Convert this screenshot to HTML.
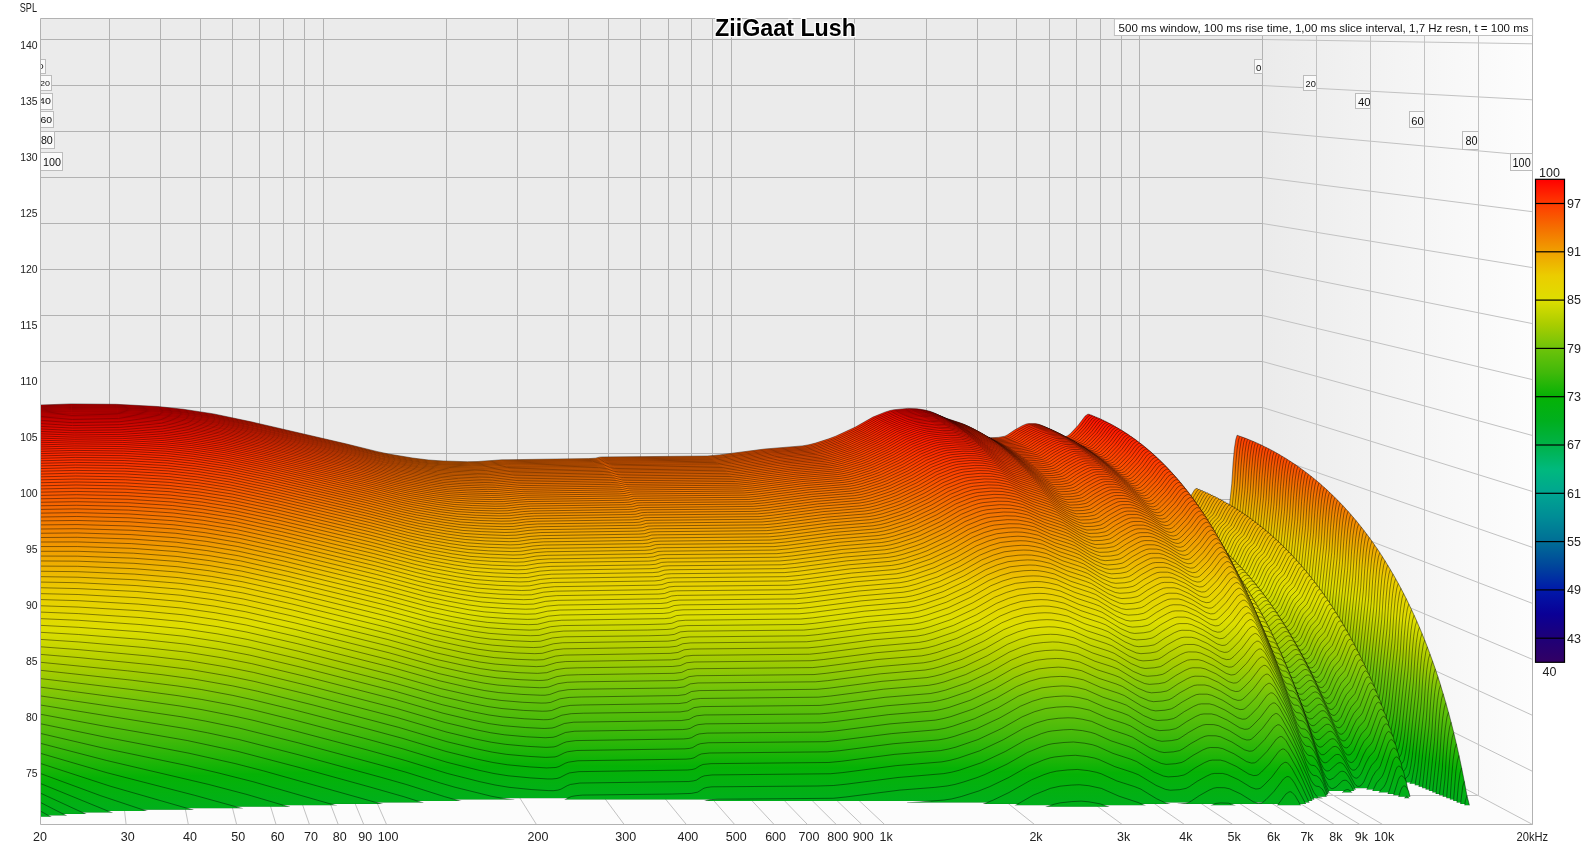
<!DOCTYPE html><html><head><meta charset="utf-8"><style>html,body{margin:0;padding:0;background:#fff;}svg{display:block;will-change:transform}text{font-family:"Liberation Sans",sans-serif}</style></head><body>
<svg width="1590" height="849" viewBox="0 0 1590 849">
<defs>
<linearGradient id="cm" gradientUnits="userSpaceOnUse" x1="0" y1="407.3" x2="0" y2="959.1">
<stop offset="0.0000" stop-color="#ff0000"/>
<stop offset="0.0500" stop-color="#ff3a00"/>
<stop offset="0.1000" stop-color="#f56e00"/>
<stop offset="0.1500" stop-color="#f0a000"/>
<stop offset="0.2000" stop-color="#ebcd00"/>
<stop offset="0.2500" stop-color="#dede00"/>
<stop offset="0.3000" stop-color="#aacd00"/>
<stop offset="0.3500" stop-color="#6ec30a"/>
<stop offset="0.4000" stop-color="#41b90a"/>
<stop offset="0.4500" stop-color="#05b205"/>
<stop offset="0.5000" stop-color="#00af1e"/>
<stop offset="0.5500" stop-color="#00b248"/>
<stop offset="0.6000" stop-color="#00b97d"/>
<stop offset="0.6500" stop-color="#00a591"/>
<stop offset="0.7000" stop-color="#008c96"/>
<stop offset="0.7500" stop-color="#006e96"/>
<stop offset="0.8000" stop-color="#00469b"/>
<stop offset="0.8500" stop-color="#0019aa"/>
<stop offset="0.9000" stop-color="#0a0096"/>
<stop offset="0.9500" stop-color="#1e0078"/>
<stop offset="1.0000" stop-color="#320064"/>
</linearGradient>
<linearGradient id="rw" x1="0" y1="0" x2="1" y2="0"><stop offset="0" stop-color="#ebebeb"/><stop offset="1" stop-color="#fdfdfd"/></linearGradient>
<clipPath id="pc"><rect x="40.0" y="18.8" width="1492.4" height="805.633163675"/></clipPath>
<clipPath id="lc"><rect x="41" y="0" width="200" height="300"/></clipPath>
<clipPath id="bc"><rect x="-100" y="-100" width="1500" height="780.54"/></clipPath>
</defs>
<rect x="40.0" y="18.8" width="1222.6" height="662.1" fill="#ebebeb"/>
<polygon points="1262.6,18.8 1532.4,18.8 1532.4,824.4 1262.6,680.9" fill="url(#rw)"/>
<polygon points="40.0,680.9 1262.6,680.9 1532.4,824.4 40.0,824.4" fill="#fcfcfc"/>
<path d="M109.5 680.9L126.1 824.4M160.5 680.9L188.3 824.4M200.5 680.9L236.6 824.4M232.5 680.9L276 824.4M259.5 680.9L309.4 824.4M283.5 680.9L338.2 824.4M304.5 680.9L363.7 824.4M323.5 680.9L386.5 824.4M446.5 680.9L536.4 824.4M517.5 680.9L624.1 824.4M568.5 680.9L686.3 824.4M608.5 680.9L734.6 824.4M640.5 680.9L774 824.4M668.5 680.9L807.4 824.4M691.5 680.9L836.2 824.4M712.5 680.9L861.7 824.4M731.5 680.9L884.5 824.4M854.5 680.9L1034.4 824.4M926.5 680.9L1122.1 824.4M977.5 680.9L1184.3 824.4M1016.5 680.9L1232.6 824.4M1049.5 680.9L1272 824.4M1076.5 680.9L1305.4 824.4M1100.5 680.9L1334.2 824.4M1121.5 680.9L1359.7 824.4M1139.5 680.9L1382.5 824.4M1262.5 680.9L1532.4 824.4M1262.5 39.5L1532.4 43.8M1262.5 85.5L1532.4 99.8M1262.5 131.5L1532.4 155.7M1262.5 177.5L1532.4 211.7M1262.5 223.5L1532.4 267.6M1262.5 269.5L1532.4 323.6M1262.5 315.5L1532.4 379.6M1262.5 361.5L1532.4 435.5M1262.5 407.5L1532.4 491.5M1262.5 453.5L1532.4 547.4M1262.5 499.5L1532.4 603.4M1262.5 545.5L1532.4 659.4M1262.5 591.5L1532.4 715.3M1262.5 637.5L1532.4 771.3M1316.5 18.5V709.6M40.0 709.5H1316.6M1370.5 18.5V738.3M40.0 738.5H1370.5M1424.5 18.5V767M40.0 767.5H1424.5M1478.5 18.5V795.7M40.0 795.5H1478.5M1532.5 18.5V824.4" stroke="#c2c2c2" stroke-width="1" fill="none"/>
<path d="M109.5 18.5V680.9M160.5 18.5V680.9M200.5 18.5V680.9M232.5 18.5V680.9M259.5 18.5V680.9M283.5 18.5V680.9M304.5 18.5V680.9M323.5 18.5V680.9M446.5 18.5V680.9M517.5 18.5V680.9M568.5 18.5V680.9M608.5 18.5V680.9M640.5 18.5V680.9M668.5 18.5V680.9M691.5 18.5V680.9M712.5 18.5V680.9M731.5 18.5V680.9M854.5 18.5V680.9M926.5 18.5V680.9M977.5 18.5V680.9M1016.5 18.5V680.9M1049.5 18.5V680.9M1076.5 18.5V680.9M1100.5 18.5V680.9M1121.5 18.5V680.9M1139.5 18.5V680.9M1262.5 18.5V680.9M40.0 39.5H1262.5M40.0 85.5H1262.5M40.0 131.5H1262.5M40.0 177.5H1262.5M40.0 223.5H1262.5M40.0 269.5H1262.5M40.0 315.5H1262.5M40.0 361.5H1262.5M40.0 407.5H1262.5M40.0 453.5H1262.5M40.0 499.5H1262.5M40.0 545.5H1262.5M40.0 591.5H1262.5M40.0 637.5H1262.5" stroke="#b2b2b2" stroke-width="1" fill="none"/>
<g clip-path="url(#pc)" fill="url(#cm)" stroke="#000" stroke-width="0.55" stroke-opacity="0.8" stroke-linejoin="round">
<path transform="matrix(1.00000 0 0 1.00000 0.00 0.00)" clip-path="url(#bc)" vector-effect="non-scaling-stroke" d="M1239.7 680.9L37.7 680.9L37.7 405.1L71.1 403.9L116.4 404.3L157.8 406.5L183.1 409.2L213.8 413.9L252.5 422.1L345.9 443.8L376.6 451.4L388.6 454L412.6 458L428.6 460L443.3 461L467.3 461.7L478 461.5L502 459.8L588.7 458.6L595.4 458.2L599.4 457.2L602 457L707.4 456L719.4 454.9L764.8 449L802.2 445.9L808.8 444.8L815.5 443.1L828.8 438.8L835.5 436.3L855.5 427L872.9 417.1L884.9 412.2L890.2 410.5L894.2 409.7L907.6 408.4L916.9 408.7L924.9 410L930.2 411.4L944.9 417.9L959.6 422.7L964.9 424.7L979.6 433.6L986.3 436.6L990.3 437.7L998.3 437.4L1004.9 436.2L1007.6 434.8L1014.3 430.2L1022.3 425.7L1026.3 424L1029 423.6L1035.6 423.6L1039.6 424.6L1049 428.9L1059.6 435.4L1062.3 436.5L1065 436.8L1067.7 435.8L1070.3 433.7L1078.3 425.2L1085 416.2L1087.7 414.3L1089 414.2L1090.3 414.8L1093 417.7L1102.3 434.4L1113 458.1L1115.7 465.4L1118.4 471.5L1121 475.1L1122.4 475.9L1125 476.3L1126.4 477.1L1129 480.4L1131.7 486.1L1138.4 504.6L1141 509.8L1142.4 511.4L1143.7 512.2L1145 512.4L1146.4 511.9L1153 505.9L1154.4 505.2L1155.7 505.1L1157 505.6L1158.4 506.7L1161 510.4L1167.7 523.1L1169 524.6L1170.4 525.5L1171.7 525.7L1173.1 525.1L1175.7 521.8L1181.1 509.8L1183.7 505.9L1187.7 502.2L1191.7 494.5L1194.4 490.1L1195.7 488.7L1197.1 488.4L1198.4 489.4L1201.1 493.9L1203.7 507.4L1205.1 516.8L1207.7 544.5L1209.1 552.4L1211.7 555.3L1214.4 556.9L1215.7 557.2L1218.4 556.7L1219.7 555.9L1222.4 553.4L1223.7 550.8L1225.1 544.2L1226.4 535.4L1231.8 483.7L1233.1 463.1L1234.4 448.7L1235.8 439.4L1237.1 435.2L1239.7 436.2"/>
<path transform="matrix(1.00220 0 0 1.00217 -0.08 -0.04)" clip-path="url(#bc)" vector-effect="non-scaling-stroke" d="M1239.7 680.9L37.7 680.9L37.7 405.1L71.1 403.9L116.4 404.3L157.8 406.5L183.1 409.2L213.8 413.9L252.5 422.1L345.9 443.8L376.6 451.5L388.6 454L412.6 458L428.6 460L443.3 461L467.3 461.7L478 461.5L502 459.8L588.7 458.6L595.4 458.2L599.4 457.2L602 457L707.4 456L719.4 454.9L764.8 449L802.2 445.9L808.8 444.8L815.5 443.1L828.8 438.9L835.5 436.4L855.5 427L872.9 417.1L884.9 412.2L890.2 410.5L894.2 409.7L907.6 408.4L916.9 408.7L924.9 410.1L930.2 411.4L944.9 417.9L959.6 422.7L964.9 424.8L979.6 433.7L986.3 436.6L990.3 437.7L998.3 437.4L1004.9 436.2L1007.6 434.8L1014.3 430.2L1022.3 425.7L1026.3 424L1029 423.6L1035.6 423.6L1039.6 424.6L1049 428.9L1059.6 435.4L1062.3 436.5L1065 436.8L1067.7 435.9L1070.3 433.7L1078.3 425.2L1085 416.2L1087.7 414.3L1089 414.2L1090.3 414.8L1093 417.7L1102.3 434.4L1113 458.1L1115.7 465.4L1118.4 471.5L1121 475.1L1122.4 475.9L1125 476.3L1126.4 477.1L1129 480.4L1131.7 486.1L1138.4 504.6L1141 509.9L1142.4 511.4L1143.7 512.2L1145 512.4L1146.4 511.9L1153 505.9L1154.4 505.3L1155.7 505.1L1157 505.6L1158.4 506.7L1161 510.4L1167.7 523.1L1169 524.6L1170.4 525.5L1171.7 525.7L1173.1 525.1L1175.7 521.8L1181.1 509.8L1183.7 505.9L1187.7 502.3L1191.7 494.5L1194.4 490.2L1195.7 488.7L1197.1 488.4L1198.4 489.4L1201.1 493.9L1203.7 507.4L1205.1 516.8L1207.7 544.5L1209.1 552.4L1211.7 555.3L1214.4 556.9L1215.7 557.2L1218.4 556.7L1219.7 555.9L1222.4 553.4L1223.7 550.8L1225.1 544.2L1226.4 535.4L1231.8 483.8L1233.1 463.1L1234.4 448.7L1235.8 439.4L1237.1 435.3L1239.7 436.2"/>
<path transform="matrix(1.00439 0 0 1.00434 -0.15 -0.08)" clip-path="url(#bc)" vector-effect="non-scaling-stroke" d="M1239.7 680.9L37.7 680.9L37.7 405.1L71.1 404L116.4 404.4L157.8 406.6L183.1 409.3L213.8 414L252.5 422.1L345.9 443.9L376.6 451.5L388.6 454.1L412.6 458.1L428.6 460.1L443.3 461.1L467.3 461.8L478 461.6L502 459.9L588.7 458.6L595.4 458.3L599.4 457.3L602 457.1L707.4 456.1L719.4 455L764.8 449.1L802.2 446L808.8 444.9L815.5 443.2L828.8 438.9L835.5 436.4L855.5 427.1L872.9 417.1L884.9 412.3L890.2 410.6L894.2 409.7L907.6 408.5L916.9 408.7L924.9 410.1L930.2 411.5L944.9 418L959.6 422.8L964.9 424.8L979.6 433.7L986.3 436.7L990.3 437.8L998.3 437.5L1004.9 436.3L1007.6 434.9L1014.3 430.3L1022.3 425.8L1026.3 424.1L1029 423.6L1035.6 423.7L1039.6 424.7L1049 429L1059.6 435.5L1062.3 436.5L1065 436.9L1067.7 435.9L1070.3 433.8L1078.3 425.3L1085 416.3L1087.7 414.4L1089 414.3L1090.3 414.9L1093 417.8L1102.3 434.4L1113 458.1L1115.7 465.5L1118.4 471.6L1121 475.2L1122.4 476L1125 476.4L1126.4 477.2L1129 480.5L1131.7 486.2L1138.4 504.7L1141 509.9L1142.4 511.5L1143.7 512.3L1145 512.4L1146.4 512L1153 506L1154.4 505.3L1155.7 505.2L1157 505.7L1158.4 506.8L1161 510.5L1167.7 523.1L1169 524.7L1170.4 525.6L1171.7 525.7L1173.1 525.1L1175.7 521.9L1181.1 509.9L1183.7 505.9L1187.7 502.3L1191.7 494.6L1194.4 490.2L1195.7 488.8L1197.1 488.5L1198.4 489.5L1201.1 494L1203.7 507.5L1205.1 516.9L1207.7 544.6L1209.1 552.4L1211.7 555.4L1214.4 556.9L1215.7 557.2L1218.4 556.8L1219.7 556L1222.4 553.4L1223.7 550.9L1225.1 544.3L1226.4 535.5L1231.8 483.8L1233.1 463.1L1234.4 448.7L1235.8 439.5L1237.1 435.3L1239.7 436.3"/>
<path transform="matrix(1.00659 0 0 1.00651 -0.23 -0.12)" clip-path="url(#bc)" vector-effect="non-scaling-stroke" d="M1239.7 680.9L37.7 680.9L37.7 405.2L71.1 404.1L116.4 404.5L157.8 406.7L183.1 409.4L213.8 414.1L252.5 422.2L345.9 444L376.6 451.6L388.6 454.2L412.6 458.2L428.6 460.2L443.3 461.2L467.3 461.9L478 461.7L502 460L588.7 458.7L595.4 458.4L599.4 457.4L602 457.2L707.4 456.2L719.4 455L764.8 449.2L802.2 446.1L808.8 445L815.5 443.3L828.8 439L835.5 436.5L855.5 427.2L872.9 417.2L884.9 412.4L890.2 410.7L894.2 409.8L907.6 408.6L916.9 408.8L924.9 410.2L930.2 411.5L944.9 418.1L959.6 422.9L964.9 424.9L979.6 433.8L986.3 436.8L990.3 437.9L998.3 437.6L1004.9 436.4L1007.6 435L1014.3 430.4L1022.3 425.9L1026.3 424.2L1029 423.7L1035.6 423.8L1039.6 424.8L1049 429.1L1059.6 435.6L1062.3 436.6L1065 437L1067.7 436L1070.3 433.9L1078.3 425.4L1085 416.4L1087.7 414.5L1089 414.4L1090.3 415L1093 417.9L1102.3 434.5L1113 458.2L1115.7 465.6L1118.4 471.7L1121 475.3L1122.4 476.1L1125 476.5L1126.4 477.3L1129 480.6L1131.7 486.3L1138.4 504.8L1141 510L1142.4 511.6L1143.7 512.4L1145 512.5L1146.4 512.1L1153 506.1L1154.4 505.4L1155.7 505.3L1157 505.8L1158.4 506.8L1161 510.6L1167.7 523.2L1169 524.8L1170.4 525.7L1171.7 525.8L1173.1 525.2L1175.7 522L1181.1 510L1183.7 506L1187.7 502.4L1191.7 494.7L1194.4 490.3L1195.7 488.9L1197.1 488.6L1198.4 489.6L1201.1 494.1L1203.7 507.6L1205.1 516.9L1207.7 544.7L1209.1 552.5L1211.7 555.4L1214.4 557L1215.7 557.3L1218.4 556.9L1219.7 556.1L1222.4 553.5L1223.7 551L1225.1 544.3L1226.4 535.6L1231.8 483.9L1233.1 463.2L1234.4 448.8L1235.8 439.6L1237.1 435.4L1239.7 436.4"/>
<path transform="matrix(1.00879 0 0 1.00868 -0.30 -0.17)" clip-path="url(#bc)" vector-effect="non-scaling-stroke" d="M1239.7 680.9L37.7 680.9L37.7 405.4L71.1 404.2L116.4 404.6L157.8 406.8L183.1 409.5L213.8 414.2L252.5 422.4L345.9 444.1L376.6 451.8L388.6 454.3L412.6 458.3L428.6 460.3L443.3 461.3L467.3 462L478 461.8L502 460.1L588.7 458.9L595.4 458.5L599.4 457.5L602 457.3L707.4 456.3L719.4 455.2L764.8 449.3L802.2 446.2L808.8 445.1L815.5 443.4L828.8 439.2L835.5 436.7L855.5 427.3L872.9 417.4L884.9 412.5L890.2 410.8L894.2 410L907.6 408.7L916.9 409L924.9 410.4L930.2 411.7L944.9 418.2L959.6 423L964.9 425.1L979.6 434L986.3 436.9L990.3 438L998.3 437.7L1004.9 436.5L1007.6 435.1L1014.3 430.5L1022.3 426L1026.3 424.3L1029 423.9L1035.6 423.9L1039.6 424.9L1049 429.2L1059.6 435.7L1062.3 436.8L1065 437.1L1067.7 436.2L1070.3 434L1078.3 425.5L1085 416.5L1087.7 414.6L1089 414.5L1090.3 415.1L1093 418L1102.3 434.7L1113 458.4L1115.7 465.7L1118.4 471.8L1121 475.4L1122.4 476.2L1125 476.6L1126.4 477.4L1129 480.7L1131.7 486.4L1138.4 504.9L1141 510.2L1142.4 511.7L1143.7 512.5L1145 512.7L1146.4 512.2L1153 506.2L1154.4 505.6L1155.7 505.4L1157 505.9L1158.4 507L1161 510.7L1167.7 523.4L1169 524.9L1170.4 525.8L1171.7 526L1173.1 525.4L1175.7 522.1L1181.1 510.1L1183.7 506.2L1187.7 502.6L1191.7 494.8L1194.4 490.4L1195.7 489L1197.1 488.7L1198.4 489.7L1201.1 494.2L1203.7 507.7L1205.1 517.1L1207.7 544.8L1209.1 552.7L1211.7 555.6L1214.4 557.2L1215.7 557.5L1218.4 557L1219.7 556.2L1222.4 553.7L1223.7 551.1L1225.1 544.5L1226.4 535.7L1231.8 484L1233.1 463.4L1234.4 448.9L1235.8 439.7L1237.1 435.5L1239.7 436.6"/>
<path transform="matrix(1.01099 0 0 1.01084 -0.38 -0.21)" clip-path="url(#bc)" vector-effect="non-scaling-stroke" d="M1239.7 680.9L37.7 680.9L37.7 405.6L71.1 404.4L116.4 404.8L157.8 407L183.1 409.7L213.8 414.4L252.5 422.5L345.9 444.3L376.6 451.9L388.6 454.5L412.6 458.5L428.6 460.5L443.3 461.5L467.3 462.2L478 462L500.6 460.3L588.7 459.1L595.4 458.7L599.4 457.7L602 457.5L707.4 456.5L719.4 455.4L764.8 449.5L802.2 446.4L808.8 445.3L815.5 443.6L828.8 439.3L835.5 436.8L855.5 427.5L872.9 417.5L884.9 412.7L890.2 411L894.2 410.2L907.6 408.9L916.9 409.1L924.9 410.5L930.2 411.9L944.9 418.4L959.6 423.2L964.9 425.2L979.6 434.1L986.3 437.1L990.3 438.2L998.3 437.9L1004.9 436.7L1007.6 435.3L1014.3 430.7L1022.3 426.2L1026.3 424.5L1029 424.1L1035.6 424.1L1039.6 425.1L1049 429.4L1059.6 435.9L1062.3 436.9L1065 437.3L1067.7 436.3L1070.3 434.2L1078.3 425.7L1085 416.7L1087.7 414.8L1089 414.7L1090.3 415.3L1093 418.2L1102.3 434.9L1113 458.5L1115.7 465.9L1118.4 472L1121 475.6L1122.4 476.4L1125 476.8L1126.4 477.6L1129 480.9L1131.7 486.6L1138.4 505.1L1141 510.3L1142.4 511.9L1143.7 512.7L1145 512.8L1146.4 512.4L1153 506.4L1154.4 505.7L1155.7 505.6L1157 506.1L1158.4 507.2L1161 510.9L1167.7 523.5L1169 525.1L1170.4 526L1171.7 526.1L1173.1 525.5L1175.7 522.3L1181.1 510.3L1183.7 506.3L1187.7 502.7L1191.7 495L1194.4 490.6L1195.7 489.2L1197.1 488.9L1198.4 489.9L1201.1 494.4L1203.7 507.9L1205.1 517.2L1207.7 545L1209.1 552.8L1211.7 555.7L1214.4 557.3L1215.7 557.6L1218.4 557.2L1219.7 556.4L1222.4 553.8L1223.7 551.3L1225.1 544.6L1226.4 535.9L1231.8 484.2L1233.1 463.5L1234.4 449.1L1235.8 439.9L1237.1 435.7L1239.7 436.8"/>
<path transform="matrix(1.01318 0 0 1.01301 -0.45 -0.25)" clip-path="url(#bc)" vector-effect="non-scaling-stroke" d="M1239.7 680.9L37.7 680.9L37.7 405.8L71.1 404.6L116.4 405L157.8 407.2L183.1 409.9L213.8 414.6L252.5 422.8L345.9 444.5L376.6 452.2L388.6 454.7L412.6 458.7L428.6 460.8L443.3 461.7L467.3 462.4L478 462.3L500.6 460.6L588.7 459.3L595.4 458.9L599.4 457.9L602 457.7L707.4 456.7L719.4 455.6L764.8 449.7L802.2 446.6L808.8 445.5L815.5 443.8L828.8 439.6L835.5 437.1L855.5 427.7L872.9 417.8L884.9 412.9L890.2 411.2L894.2 410.4L907.6 409.1L916.9 409.4L924.9 410.8L930.2 412.1L944.9 418.6L959.6 423.4L964.9 425.5L979.6 434.4L986.3 437.3L990.3 438.4L998.3 438.1L1004.9 436.9L1007.6 435.5L1014.3 430.9L1022.3 426.4L1026.3 424.7L1029 424.3L1035.6 424.3L1039.6 425.3L1049 429.6L1059.6 436.1L1062.3 437.2L1065 437.5L1067.7 436.6L1070.3 434.4L1078.3 425.9L1085 416.9L1087.7 415L1089 414.9L1090.3 415.5L1093 418.4L1102.3 435.1L1113 458.8L1115.7 466.1L1118.4 472.2L1121 475.8L1122.4 476.6L1125 477L1126.4 477.8L1129 481.1L1131.7 486.8L1138.4 505.3L1141 510.6L1142.4 512.1L1143.7 512.9L1145 513.1L1146.4 512.6L1153 506.6L1154.4 505.9L1155.7 505.8L1157 506.3L1158.4 507.4L1161 511.1L1167.7 523.8L1169 525.3L1170.4 526.2L1171.7 526.4L1173.1 525.8L1175.7 522.5L1181.1 510.5L1183.7 506.6L1187.7 503L1191.7 495.2L1194.4 490.8L1195.7 489.4L1197.1 489.1L1198.4 490.1L1201.1 494.6L1203.7 508.1L1205.1 517.4L1207.7 545.2L1209.1 553L1211.7 555.9L1214.4 557.5L1215.7 557.8L1218.4 557.4L1219.7 556.6L1222.4 554L1223.7 551.5L1225.1 544.8L1226.4 536.1L1231.8 484.4L1233.1 463.7L1234.4 449.3L1235.8 440.1L1237.1 435.9L1239.7 437"/>
<path transform="matrix(1.01538 0 0 1.01518 -0.53 -0.29)" clip-path="url(#bc)" vector-effect="non-scaling-stroke" d="M1239.7 680.9L37.7 680.9L37.7 406L71.1 404.9L116.4 405.3L157.8 407.5L183.1 410.2L213.8 414.9L252.5 423L345.9 444.8L376.6 452.4L388.6 455L412.6 459L428.6 461L443.3 462L467.3 462.7L478 462.5L500.6 460.8L588.7 459.5L595.4 459.2L599.4 458.2L602 458L707.4 457L719.4 455.8L764.8 450L802.2 446.9L808.8 445.7L815.5 444.1L828.8 439.8L835.5 437.3L855.5 428L872.9 418L884.9 413.2L890.2 411.5L894.2 410.6L907.6 409.4L916.9 409.6L924.9 411L930.2 412.3L944.9 418.9L959.6 423.6L964.9 425.7L979.6 434.6L986.3 437.6L990.3 438.7L998.3 438.4L1004.9 437.2L1007.6 435.8L1014.3 431.2L1022.3 426.7L1026.3 425L1029 424.5L1035.6 424.6L1039.6 425.6L1049 429.9L1059.6 436.4L1062.3 437.4L1065 437.8L1067.7 436.8L1070.3 434.6L1078.3 426.2L1085 417.2L1087.7 415.3L1089 415.2L1090.3 415.8L1093 418.7L1102.3 435.3L1113 459L1115.7 466.4L1118.4 472.4L1121 476L1122.4 476.9L1125 477.3L1126.4 478.1L1129 481.4L1131.7 487.1L1138.4 505.6L1141 510.8L1142.4 512.4L1143.7 513.2L1145 513.3L1146.4 512.8L1153 506.9L1154.4 506.2L1155.7 506.1L1157 506.6L1158.4 507.6L1161 511.4L1167.7 524L1169 525.6L1170.4 526.5L1171.7 526.6L1173.1 526L1175.7 522.8L1181.1 510.8L1183.7 506.8L1187.7 503.2L1191.7 495.4L1194.4 491.1L1195.7 489.6L1197.1 489.3L1198.4 490.3L1201.1 494.8L1203.7 508.3L1205.1 517.7L1207.7 545.4L1209.1 553.3L1211.7 556.2L1214.4 557.8L1215.7 558.1L1218.4 557.6L1219.7 556.8L1222.4 554.3L1223.7 551.7L1225.1 545.1L1226.4 536.3L1231.8 484.6L1233.1 464L1234.4 449.6L1235.8 440.3L1237.1 436.1L1239.7 437.3"/>
<path transform="matrix(1.01758 0 0 1.01735 -0.61 -0.33)" clip-path="url(#bc)" vector-effect="non-scaling-stroke" d="M1239.7 680.9L37.7 680.9L37.7 406.3L71.1 405.1L116.4 405.6L157.8 407.8L183.1 410.5L213.8 415.2L252.5 423.3L345.9 445.1L376.6 452.7L388.6 455.3L412.6 459.3L428.6 461.3L443.3 462.3L467.3 463L478 462.8L500.6 461.1L588.7 459.8L595.4 459.5L599.4 458.5L603.4 458.2L707.4 457.2L719.4 456.1L764.8 450.2L802.2 447.1L808.8 446L815.5 444.4L828.8 440.1L835.5 437.6L855.5 428.2L872.9 418.3L884.9 413.5L890.2 411.8L894.2 410.9L907.6 409.6L916.9 409.9L924.9 411.3L930.2 412.6L944.9 419.2L959.6 423.9L964.9 426L979.6 434.9L986.3 437.9L990.3 439L998.3 438.7L1004.9 437.5L1007.6 436L1014.3 431.5L1022.3 427L1026.3 425.3L1029 424.8L1035.6 424.9L1039.6 425.8L1049 430.1L1059.6 436.7L1062.3 437.7L1065 438.1L1067.7 437.1L1070.3 434.9L1078.3 426.5L1085 417.5L1087.7 415.6L1089 415.5L1090.3 416.1L1093 419L1102.3 435.6L1113 459.3L1115.7 466.6L1118.4 472.7L1121 476.3L1122.4 477.2L1125 477.6L1126.4 478.4L1129 481.7L1131.7 487.4L1138.4 505.9L1141 511.1L1142.4 512.7L1143.7 513.5L1145 513.6L1146.4 513.1L1153 507.2L1154.4 506.5L1155.7 506.4L1157 506.9L1158.4 507.9L1161 511.7L1167.7 524.3L1169 525.9L1170.4 526.8L1171.7 526.9L1173.1 526.3L1175.7 523.1L1181.1 511.1L1183.7 507.1L1187.7 503.5L1191.7 495.7L1194.4 491.3L1195.7 489.9L1197.1 489.6L1198.4 490.6L1201.1 495.1L1203.7 508.6L1205.1 518L1207.7 545.7L1209.1 553.5L1211.7 556.5L1214.4 558L1215.7 558.3L1218.4 557.9L1219.7 557.1L1222.4 554.5L1223.7 552L1225.1 545.4L1226.4 536.6L1231.8 484.9L1233.1 464.2L1234.4 449.8L1235.8 440.6L1237.1 436.4L1239.7 437.6"/>
<path transform="matrix(1.01977 0 0 1.01952 -0.68 -0.37)" clip-path="url(#bc)" vector-effect="non-scaling-stroke" d="M1239.7 680.9L37.7 680.9L37.7 406.6L71.1 405.5L116.4 405.9L157.8 408.1L183.1 410.8L213.8 415.5L252.5 423.6L345.9 445.4L376.6 453.1L388.6 455.6L412.6 459.6L428.6 461.7L443.3 462.6L467.3 463.4L478 463.2L500.6 461.5L588.7 460.2L595.4 459.9L599.4 458.8L603.4 458.6L707.4 457.6L719.4 456.5L764.8 450.6L802.2 447.5L808.8 446.4L815.5 444.7L828.8 440.4L835.5 438L855.5 428.6L872.9 418.7L884.9 413.8L890.2 412.1L894.2 411.3L907.6 410L916.9 410.3L924.9 411.6L930.2 413L944.9 419.5L959.6 424.3L964.9 426.3L979.6 435.2L986.3 438.2L990.3 439.3L998.3 439L1004.9 437.8L1007.6 436.4L1014.3 431.8L1022.3 427.3L1026.3 425.6L1029 425.2L1035.6 425.2L1039.6 426.2L1049 430.5L1059.6 437L1062.3 438.1L1065 438.4L1067.7 437.4L1070.3 435.3L1078.3 426.8L1085 417.8L1087.7 415.9L1089 415.8L1090.3 416.4L1093 419.3L1102.3 436L1113 459.7L1115.7 467L1118.4 473.1L1121 476.7L1122.4 477.5L1125 477.9L1126.4 478.7L1129 482L1131.7 487.7L1138.4 506.2L1141 511.4L1142.4 513L1143.7 513.8L1145 514L1146.4 513.5L1153 507.5L1154.4 506.8L1155.7 506.7L1157 507.2L1158.4 508.3L1161 512L1167.7 524.7L1169 526.2L1170.4 527.1L1171.7 527.3L1173.1 526.7L1175.7 523.4L1181.1 511.4L1183.7 507.5L1187.7 503.8L1191.7 496L1194.4 491.7L1195.7 490.2L1197.1 489.9L1198.4 490.9L1201.1 495.4L1203.7 508.9L1205.1 518.3L1207.7 546L1209.1 553.8L1211.7 556.8L1214.4 558.4L1215.7 558.7L1218.4 558.2L1219.7 557.4L1222.4 554.9L1223.7 552.3L1225.1 545.7L1226.4 536.9L1231.8 485.2L1233.1 464.5L1234.4 450.1L1235.8 440.9L1237.1 436.7L1239.7 438"/>
<path transform="matrix(1.02197 0 0 1.02169 -0.76 -0.41)" clip-path="url(#bc)" vector-effect="non-scaling-stroke" d="M1239.7 680.9L37.7 680.9L37.7 407L71.1 405.8L116.4 406.3L157.8 408.5L183.1 411.2L213.8 415.9L252.5 424L345.9 445.8L376.6 453.4L388.6 456L412.6 460L428.6 462.1L443.3 463L467.3 463.8L478 463.6L500.6 461.8L588.7 460.6L595.4 460.2L599.4 459.2L603.4 459L707.4 458L719.4 456.9L764.8 451L802.2 447.9L808.8 446.8L815.5 445.1L828.8 440.8L835.5 438.3L855.5 429L872.9 419L884.9 414.2L890.2 412.5L894.2 411.6L907.6 410.4L916.9 410.6L924.9 412L930.2 413.4L944.9 419.9L959.6 424.7L964.9 426.7L979.6 435.6L986.3 438.6L990.3 439.7L998.3 439.4L1004.9 438.2L1007.6 436.8L1014.3 432.2L1022.3 427.7L1026.3 426L1029 425.5L1035.6 425.6L1039.6 426.6L1049 430.9L1059.6 437.4L1062.3 438.4L1065 438.8L1067.7 437.8L1070.3 435.7L1078.3 427.2L1085 418.2L1087.7 416.3L1089 416.2L1090.3 416.8L1093 419.7L1102.3 436.3L1113 460L1115.7 467.4L1118.4 473.5L1121 477.1L1122.4 477.9L1125 478.3L1126.4 479.1L1129 482.4L1131.7 488.1L1138.4 506.6L1141 511.8L1142.4 513.4L1143.7 514.2L1145 514.3L1146.4 513.9L1153 507.9L1154.4 507.2L1155.7 507.1L1157 507.6L1158.4 508.7L1161 512.4L1167.7 525L1169 526.6L1170.4 527.5L1171.7 527.6L1173.1 527L1175.7 523.8L1181.1 511.8L1183.7 507.8L1187.7 504.2L1191.7 496.4L1194.4 492L1195.7 490.5L1197.1 490.3L1198.4 491.3L1201.1 495.8L1203.7 509.2L1205.1 518.6L1207.7 546.4L1209.1 554.2L1211.7 557.1L1214.4 558.7L1215.7 559L1218.4 558.5L1219.7 557.8L1222.4 555.2L1223.7 552.7L1225.1 546L1226.4 537.3L1231.8 485.6L1233.1 464.9L1234.4 450.5L1235.8 441.2L1237.1 437.1L1239.7 438.4"/>
<path transform="matrix(1.02417 0 0 1.02386 -0.83 -0.46)" clip-path="url(#bc)" vector-effect="non-scaling-stroke" d="M1239.7 680.9L37.7 680.9L37.7 407.4L71.1 406.3L116.4 406.7L157.8 408.9L183.1 411.6L213.8 416.3L252.5 424.4L345.9 446.2L376.6 453.9L388.6 456.4L412.6 460.4L428.6 462.5L443.3 463.5L467.3 464.2L478 464L500.6 462.3L588.7 461L595.4 460.7L599.4 459.6L603.4 459.4L707.4 458.4L719.4 457.3L764.8 451.4L802.2 448.3L808.8 447.2L815.5 445.5L828.8 441.2L835.5 438.7L855.5 429.4L872.9 419.5L884.9 414.6L890.2 412.9L894.2 412.1L907.6 410.8L916.9 411.1L924.9 412.4L930.2 413.8L944.9 420.3L959.6 425.1L964.9 427.1L979.6 436L986.3 439L990.3 440.1L998.3 439.8L1004.9 438.6L1007.6 437.2L1014.3 432.6L1022.3 428.1L1026.3 426.4L1029 426L1035.6 426L1039.6 427L1049 431.3L1059.6 437.8L1062.3 438.8L1065 439.2L1067.7 438.2L1070.3 436.1L1078.3 427.6L1085 418.6L1087.7 416.7L1089 416.6L1090.3 417.2L1093 420.1L1102.3 436.8L1113 460.4L1115.7 467.8L1118.4 473.9L1121 477.5L1122.4 478.3L1125 478.7L1126.4 479.5L1129 482.8L1131.7 488.5L1138.4 507L1141 512.2L1142.4 513.8L1143.7 514.6L1145 514.8L1146.4 514.3L1153 508.3L1154.4 507.6L1155.7 507.5L1157 508L1158.4 509.1L1161 512.8L1167.7 525.4L1169 527L1170.4 527.9L1171.7 528.1L1173.1 527.4L1175.7 524.2L1181.1 512.2L1183.7 508.2L1187.7 504.6L1191.7 496.8L1194.4 492.4L1195.7 490.9L1197.1 490.7L1198.4 491.7L1201.1 496.2L1203.7 509.6L1205.1 519L1207.7 546.8L1209.1 554.6L1211.7 557.5L1214.4 559.1L1215.7 559.4L1218.4 558.9L1219.7 558.2L1222.4 555.6L1223.7 553.1L1225.1 546.4L1226.4 537.6L1231.8 486L1233.1 465.3L1234.4 450.9L1235.8 441.6L1237.1 437.5L1239.7 438.8"/>
<path transform="matrix(1.02636 0 0 1.02603 -0.91 -0.50)" clip-path="url(#bc)" vector-effect="non-scaling-stroke" d="M1239.7 680.9L37.7 680.9L37.7 407.8L71.1 406.7L116.4 407.1L157.8 409.3L183.1 412.1L213.8 416.8L252.5 424.9L345.9 446.7L376.6 454.3L388.6 456.9L412.6 460.9L428.6 463L443.3 463.9L467.3 464.7L478 464.5L500.6 462.7L588.7 461.5L595.4 461.1L599.4 460.1L603.4 459.8L707.4 458.8L719.4 457.7L764.8 451.8L802.2 448.7L808.8 447.6L815.5 446L828.8 441.7L835.5 439.2L855.5 429.8L872.9 419.9L884.9 415L890.2 413.4L894.2 412.5L907.6 411.2L916.9 411.5L924.9 412.9L930.2 414.2L944.9 420.8L959.6 425.5L964.9 427.6L979.6 436.5L986.3 439.5L990.3 440.6L998.3 440.3L1004.9 439L1007.6 437.6L1014.3 433.1L1022.3 428.6L1026.3 426.9L1029 426.4L1035.6 426.5L1039.6 427.4L1049 431.7L1059.6 438.3L1062.3 439.3L1065 439.7L1067.7 438.7L1070.3 436.5L1078.3 428.1L1085 419.1L1087.7 417.2L1089 417.1L1090.3 417.7L1093 420.6L1102.3 437.2L1113 460.9L1115.7 468.2L1118.4 474.3L1121 477.9L1122.4 478.8L1125 479.2L1126.4 480L1129 483.3L1131.7 489L1138.4 507.5L1141 512.7L1142.4 514.3L1143.7 515.1L1145 515.2L1146.4 514.7L1153 508.7L1154.4 508.1L1155.7 508L1157 508.5L1158.4 509.5L1161 513.3L1167.7 525.9L1169 527.5L1170.4 528.4L1171.7 528.5L1173.1 527.9L1175.7 524.7L1181.1 512.6L1183.7 508.7L1187.7 505.1L1191.7 497.2L1194.4 492.8L1195.7 491.4L1197.1 491.1L1198.4 492.1L1201.1 496.6L1203.7 510.1L1205.1 519.4L1207.7 547.2L1209.1 555L1211.7 557.9L1214.4 559.5L1215.7 559.8L1218.4 559.4L1219.7 558.6L1222.4 556L1223.7 553.5L1225.1 546.8L1226.4 538.1L1231.8 486.4L1233.1 465.7L1234.4 451.3L1235.8 442.1L1237.1 437.9L1239.7 439.2"/>
<path transform="matrix(1.02856 0 0 1.02820 -0.99 -0.54)" clip-path="url(#bc)" vector-effect="non-scaling-stroke" d="M1239.7 680.9L37.7 680.9L37.7 408.3L71.1 407.2L116.4 407.6L157.8 409.8L183.1 412.6L213.8 417.2L252.5 425.4L345.9 447.2L376.6 454.8L388.6 457.4L412.6 461.4L428.6 463.5L443.3 464.5L467.3 465.2L478 465L500.6 463.2L588.7 462L595.4 461.6L599.4 460.6L603.4 460.3L707.4 459.3L719.4 458.2L764.8 452.3L802.2 449.2L808.8 448.1L815.5 446.5L828.8 442.2L835.5 439.7L855.5 430.3L872.9 420.4L884.9 415.5L890.2 413.9L894.2 413L907.6 411.7L916.9 412L924.9 413.4L930.2 414.7L944.9 421.3L959.6 426L964.9 428.1L979.6 437L986.3 440L990.3 441.1L998.3 440.8L1004.9 439.5L1007.6 438.1L1014.3 433.6L1022.3 429.1L1026.3 427.4L1029 426.9L1035.6 427L1039.6 427.9L1049 432.2L1059.6 438.8L1062.3 439.8L1065 440.2L1067.7 439.2L1070.3 437L1078.3 428.6L1085 419.6L1087.7 417.7L1089 417.6L1090.3 418.2L1093 421.1L1102.3 437.7L1113 461.4L1115.7 468.7L1118.4 474.8L1121 478.4L1122.4 479.3L1125 479.7L1126.4 480.5L1129 483.8L1131.7 489.5L1138.4 507.9L1141 513.2L1142.4 514.8L1143.7 515.6L1145 515.7L1146.4 515.2L1153 509.2L1154.4 508.6L1155.7 508.5L1157 508.9L1158.4 510L1161 513.8L1167.7 526.4L1169 528L1170.4 528.9L1171.7 529L1173.1 528.4L1175.7 525.2L1181.1 513.1L1183.7 509.2L1187.7 505.6L1191.7 497.7L1194.4 493.3L1195.7 491.8L1197.1 491.6L1198.4 492.5L1201.1 497L1203.7 510.5L1205.1 519.9L1207.7 547.6L1209.1 555.5L1211.7 558.4L1214.4 560L1215.7 560.3L1218.4 559.8L1219.7 559.1L1222.4 556.5L1223.7 553.9L1225.1 547.3L1226.4 538.5L1231.8 486.9L1233.1 466.2L1234.4 451.8L1235.8 442.5L1237.1 438.4L1239.7 439.7"/>
<path transform="matrix(1.03076 0 0 1.03037 -1.06 -0.58)" clip-path="url(#bc)" vector-effect="non-scaling-stroke" d="M1239.7 680.9L37.7 680.9L37.7 408.9L71.1 407.7L116.4 408.1L157.8 410.4L183.1 413.1L213.8 417.8L252.5 425.9L345.9 447.7L376.6 455.4L388.6 457.9L412.6 462L428.6 464L445.9 465.1L468.6 465.8L478 465.6L500.6 463.8L588.7 462.5L595.4 462.2L599.4 461.1L603.4 460.9L707.4 459.9L719.4 458.8L764.8 452.9L802.2 449.8L808.8 448.7L815.5 447L828.8 442.7L835.5 440.2L855.5 430.9L872.9 420.9L884.9 416.1L890.2 414.4L894.2 413.6L907.6 412.3L916.9 412.5L924.9 413.9L930.2 415.3L944.9 421.8L959.6 426.6L964.9 428.6L979.6 437.5L986.3 440.5L990.3 441.6L998.3 441.3L1004.9 440.1L1007.6 438.7L1014.3 434.1L1022.3 429.6L1026.3 427.9L1029 427.5L1035.6 427.5L1039.6 428.5L1049 432.8L1059.6 439.3L1062.3 440.3L1065 440.7L1067.7 439.7L1070.3 437.6L1078.3 429.1L1085 420.1L1087.7 418.2L1089 418.1L1090.3 418.7L1093 421.6L1102.3 438.3L1113 461.9L1115.7 469.3L1118.4 475.4L1121 479L1122.4 479.8L1125 480.2L1126.4 481L1129 484.3L1131.7 490L1138.4 508.5L1141 513.7L1142.4 515.3L1143.7 516.1L1145 516.2L1146.4 515.8L1153 509.8L1154.4 509.1L1155.7 509L1157 509.5L1158.4 510.6L1161 514.3L1167.7 526.9L1169 528.5L1170.4 529.4L1171.7 529.6L1173.1 528.9L1175.7 525.7L1181.1 513.7L1183.7 509.7L1187.7 506.1L1191.7 498.2L1194.4 493.8L1195.7 492.3L1197.1 492.1L1198.4 493L1201.1 497.5L1203.7 511L1205.1 520.4L1207.7 548.1L1209.1 556L1211.7 558.9L1214.4 560.5L1215.7 560.8L1218.4 560.3L1219.7 559.6L1222.4 557L1223.7 554.4L1225.1 547.8L1226.4 539L1231.8 487.4L1233.1 466.7L1234.4 452.3L1235.8 443L1237.1 438.9L1239.7 440.3"/>
<path transform="matrix(1.03296 0 0 1.03253 -1.14 -0.62)" clip-path="url(#bc)" vector-effect="non-scaling-stroke" d="M1239.6 680.9L37.7 680.9L37.7 409.4L71.1 408.3L116.4 408.7L157.8 410.9L183.1 413.7L213.8 418.4L252.5 426.5L345.9 448.3L376.6 456L388.6 458.5L412.6 462.6L428.6 464.6L445.9 465.7L468.6 466.4L478 466.2L500.6 464.4L588.7 463.1L595.4 462.8L599.4 461.7L603.4 461.5L707.4 460.5L719.4 459.3L764.8 453.5L802.2 450.4L808.8 449.3L815.5 447.6L828.8 443.3L835.5 440.8L855.5 431.5L872.9 421.5L884.9 416.7L890.2 415L894.2 414.1L907.6 412.9L916.9 413.1L924.9 414.5L930.2 415.8L944.9 422.4L959.6 427.2L964.9 429.2L979.6 438.1L986.3 441.1L990.3 442.2L998.3 441.9L1004.9 440.7L1007.6 439.3L1014.3 434.7L1022.3 430.2L1026.3 428.5L1029 428L1035.6 428.1L1039.6 429.1L1049 433.4L1059.6 439.9L1062.3 440.9L1065 441.3L1067.7 440.3L1070.3 438.2L1078.3 429.7L1085 420.7L1087.7 418.8L1089 418.7L1090.3 419.3L1093 422.2L1102.3 438.8L1113 462.5L1115.7 469.9L1118.4 476L1121 479.6L1122.4 480.4L1125 480.8L1126.4 481.6L1129 484.9L1131.7 490.6L1138.4 509.1L1141 514.3L1142.4 515.9L1143.7 516.7L1145 516.8L1146.4 516.4L1153 510.4L1154.4 509.7L1155.7 509.6L1157 510.1L1158.4 511.1L1161 514.9L1167.7 527.5L1169 529.1L1170.4 530L1171.7 530.1L1173.1 529.5L1175.7 526.3L1181.1 514.3L1183.7 510.3L1187.7 506.7L1191.7 498.8L1194.4 494.4L1195.7 492.9L1197.1 492.6L1198.4 493.6L1201.1 498.1L1203.7 511.6L1205.1 520.9L1207.7 548.7L1209.1 556.5L1211.7 559.4L1214.4 561L1215.7 561.3L1218.4 560.9L1219.7 560.1L1222.4 557.5L1223.7 555L1225.1 548.3L1226.4 539.6L1231.8 487.9L1233.1 467.2L1234.4 452.8L1235.8 443.6L1237.1 439.4L1239.6 440.9"/>
<path transform="matrix(1.03515 0 0 1.03470 -1.21 -0.66)" clip-path="url(#bc)" vector-effect="non-scaling-stroke" d="M1239.6 680.9L37.7 680.9L37.7 410L71.1 408.9L116.4 409.3L157.8 411.6L183.1 414.3L213.8 419L252.5 427.1L345.9 448.9L376.6 456.6L388.6 459.2L412.6 463.2L428.6 465.3L445.9 466.4L468.6 467L478 466.8L500.6 465L588.7 463.8L595.4 463.4L599.4 462.4L603.4 462.1L707.4 461.1L719.4 460L764.8 454.1L802.2 451L808.8 449.9L815.5 448.2L828.8 443.9L835.5 441.4L855.5 432.1L872.9 422.2L884.9 417.3L890.2 415.6L894.2 414.8L907.6 413.5L916.9 413.8L924.9 415.1L930.2 416.5L944.9 423L959.6 427.8L964.9 429.8L979.6 438.7L986.3 441.7L990.3 442.8L998.3 442.5L1004.9 441.3L1007.6 439.9L1014.3 435.3L1022.3 430.8L1026.3 429.1L1029 428.7L1035.6 428.7L1039.6 429.7L1049 434L1059.6 440.5L1062.3 441.6L1065 441.9L1067.7 440.9L1070.3 438.8L1078.3 430.3L1085 421.3L1087.7 419.4L1089 419.3L1090.3 419.9L1093 422.8L1102.3 439.5L1113 463.2L1115.7 470.5L1118.4 476.6L1121 480.2L1122.4 481L1125 481.4L1126.4 482.2L1129 485.5L1131.7 491.2L1138.4 509.7L1141 514.9L1142.4 516.5L1143.7 517.3L1145 517.5L1146.4 517L1153 511L1154.4 510.3L1155.7 510.2L1157 510.7L1158.4 511.8L1161 515.5L1167.7 528.2L1169 529.7L1170.4 530.6L1171.7 530.8L1173.1 530.2L1175.7 526.9L1181.1 514.9L1183.7 510.9L1187.7 507.3L1191.7 499.4L1194.4 495L1195.7 493.5L1197.1 493.2L1198.4 494.2L1201.1 498.7L1203.7 512.1L1205.1 521.5L1207.7 549.3L1209.1 557.1L1211.7 560L1214.4 561.6L1215.7 561.9L1218.4 561.4L1219.7 560.7L1222.4 558.1L1223.7 555.6L1225.1 548.9L1226.4 540.2L1231.8 488.5L1233.1 467.8L1234.4 453.4L1235.8 444.1L1237.1 440L1239.6 441.5"/>
<path transform="matrix(1.03735 0 0 1.03687 -1.29 -0.70)" clip-path="url(#bc)" vector-effect="non-scaling-stroke" d="M1239.6 680.9L37.7 680.9L37.7 410.7L71.1 409.5L116.4 410L157.8 412.2L183.1 414.9L213.8 419.6L252.5 427.8L345.9 449.6L376.6 457.3L388.6 459.9L412.6 463.9L428.6 466L445.9 467.1L468.6 467.7L478 467.5L500.6 465.7L588.7 464.4L595.4 464.1L600.7 462.8L604.7 462.7L707.4 461.8L719.4 460.6L764.8 454.7L802.2 451.6L808.8 450.5L815.5 448.9L828.8 444.6L835.5 442.1L855.5 432.7L872.9 422.8L884.9 418L890.2 416.3L894.2 415.4L907.6 414.1L916.9 414.4L924.9 415.8L930.2 417.1L944.9 423.7L959.6 428.4L964.9 430.5L979.6 439.4L986.3 442.4L990.3 443.5L998.3 443.2L1004.9 442L1007.6 440.5L1014.3 436L1022.3 431.5L1026.3 429.8L1029 429.3L1035.6 429.4L1039.6 430.3L1049 434.6L1059.6 441.2L1062.3 442.2L1065 442.6L1067.7 441.6L1070.3 439.4L1078.3 431L1085 422L1087.7 420.1L1089 420L1090.3 420.6L1093 423.5L1102.3 440.1L1113 463.8L1115.7 471.1L1118.4 477.2L1121 480.8L1122.4 481.7L1125 482.1L1126.4 482.9L1129 486.2L1131.7 491.9L1138.4 510.4L1141 515.6L1142.4 517.2L1143.7 518L1145 518.1L1146.4 517.6L1153 511.7L1154.4 511L1155.7 510.9L1157 511.4L1158.4 512.4L1161 516.2L1167.7 528.8L1169 530.4L1170.4 531.3L1171.7 531.4L1173.1 530.8L1175.7 527.6L1181.1 515.6L1183.7 511.6L1187.7 508L1191.7 500L1194.4 495.6L1195.7 494.1L1197.1 493.8L1198.4 494.8L1201.1 499.3L1203.7 512.8L1205.1 522.1L1207.7 549.9L1209.1 557.7L1211.7 560.6L1214.4 562.2L1215.7 562.5L1218.4 562.1L1219.7 561.3L1222.4 558.7L1223.7 556.2L1225.1 549.5L1226.4 540.8L1231.8 489.1L1233.1 468.4L1234.4 454L1235.8 444.8L1237.1 440.6L1239.6 442.1"/>
<path transform="matrix(1.03955 0 0 1.03904 -1.36 -0.75)" clip-path="url(#bc)" vector-effect="non-scaling-stroke" d="M1239.6 680.9L37.7 680.9L37.7 411.4L71.1 410.2L116.4 410.7L157.8 412.9L183.1 415.6L213.8 420.4L252.5 428.5L345.9 450.3L376.6 458L388.6 460.6L412.6 464.6L428.6 466.7L445.9 467.8L468.6 468.5L478 468.3L500.6 466.4L588.7 465.2L595.4 464.8L600.7 463.5L604.7 463.4L707.4 462.5L719.4 461.3L764.8 455.5L802.2 452.4L808.8 451.3L815.5 449.6L828.8 445.3L835.5 442.8L855.5 433.5L872.9 423.5L884.9 418.7L890.2 417L894.2 416.1L907.6 414.9L916.9 415.1L924.9 416.5L930.2 417.8L944.9 424.4L959.6 429.1L964.9 431.2L979.6 440.1L986.3 443.1L990.3 444.2L998.3 443.9L1004.9 442.7L1007.6 441.3L1014.3 436.7L1022.3 432.2L1026.3 430.5L1029 430L1035.6 430.1L1039.6 431.1L1049 435.4L1059.6 441.9L1062.3 442.9L1065 443.3L1067.7 442.3L1070.3 440.2L1078.3 431.7L1085 422.7L1087.7 420.8L1089 420.7L1090.3 421.3L1093 424.2L1102.3 440.8L1113 464.5L1115.7 471.9L1118.4 478L1121 481.6L1122.4 482.4L1125 482.8L1126.4 483.6L1129 486.9L1131.7 492.6L1138.4 511.1L1141 516.3L1142.4 517.9L1143.7 518.7L1145 518.8L1146.4 518.4L1153 512.4L1154.4 511.7L1155.7 511.6L1157 512.1L1158.4 513.1L1161 516.9L1167.7 529.5L1169 531.1L1170.4 532L1171.7 532.1L1173.1 531.5L1175.7 528.3L1181.1 516.3L1183.7 512.3L1187.7 508.7L1191.7 500.7L1194.4 496.3L1195.7 494.8L1197.1 494.5L1198.4 495.5L1201.1 499.9L1203.7 513.4L1205.1 522.8L1207.7 550.5L1209.1 558.4L1211.7 561.3L1214.4 562.9L1215.7 563.2L1218.4 562.7L1219.7 562L1222.4 559.4L1223.7 556.8L1225.1 550.2L1226.4 541.4L1231.8 489.8L1233.1 469.1L1234.4 454.7L1235.8 445.4L1237.1 441.3L1239.6 442.8"/>
<path transform="matrix(1.04174 0 0 1.04121 -1.44 -0.79)" clip-path="url(#bc)" vector-effect="non-scaling-stroke" d="M1239.6 680.9L37.7 680.9L37.7 412.1L71.1 411L116.4 411.4L157.8 413.7L183.1 416.4L213.8 421.1L252.5 429.3L345.9 451L376.6 458.8L388.6 461.3L412.6 465.4L428.6 467.5L445.9 468.6L468.6 469.3L478 469L500.6 467.2L588.7 465.9L595.4 465.6L600.7 464.3L604.7 464.2L707.4 463.2L719.4 462.1L764.8 456.2L802.2 453.1L808.8 452L815.5 450.3L828.8 446.1L835.5 443.6L855.5 434.2L872.9 424.3L884.9 419.4L890.2 417.7L894.2 416.9L907.6 415.6L916.9 415.9L924.9 417.3L930.2 418.6L944.9 425.1L959.6 429.9L964.9 432L979.6 440.9L986.3 443.8L990.3 444.9L998.3 444.6L1004.9 443.4L1007.6 442L1014.3 437.4L1022.3 432.9L1026.3 431.2L1029 430.8L1035.6 430.8L1039.6 431.8L1049 436.1L1059.6 442.6L1062.3 443.7L1065 444L1067.7 443.1L1070.3 440.9L1078.3 432.4L1085 423.4L1087.7 421.5L1089 421.4L1090.3 422L1093 424.9L1102.3 441.6L1113 465.3L1115.7 472.6L1118.4 478.7L1121 482.3L1122.4 483.1L1125 483.6L1126.4 484.3L1129 487.6L1131.7 493.3L1138.4 511.8L1141 517.1L1142.4 518.6L1143.7 519.5L1145 519.6L1146.4 519.1L1153 513.1L1154.4 512.5L1155.7 512.3L1157 512.8L1158.4 513.9L1161 517.6L1167.7 530.3L1169 531.8L1170.4 532.7L1171.7 532.9L1173.1 532.3L1175.7 529L1181.1 517L1183.7 513.1L1187.7 509.4L1191.7 501.4L1194.4 497L1195.7 495.5L1197.1 495.2L1198.4 496.2L1201.1 500.6L1203.7 514.1L1205.1 523.5L1207.7 551.2L1209.1 559.1L1211.7 562L1214.4 563.6L1215.7 563.9L1218.4 563.4L1219.7 562.6L1222.4 560.1L1223.7 557.5L1225.1 550.9L1226.4 542.1L1231.8 490.5L1233.1 469.8L1234.4 455.4L1235.8 446.1L1237.1 442L1239.6 443.6"/>
<path transform="matrix(1.04394 0 0 1.04338 -1.52 -0.83)" clip-path="url(#bc)" vector-effect="non-scaling-stroke" d="M1239.6 680.9L37.7 680.9L37.7 412.9L71.1 411.8L116.4 412.2L157.8 414.5L183.1 417.2L213.8 421.9L252.5 430L345.9 451.8L376.6 459.6L389.9 462.4L413.9 466.4L429.9 468.4L447.3 469.5L468.6 470.1L478 469.9L500.6 468L588.7 466.7L595.4 466.4L600.7 465.1L604.7 465L707.4 464L719.4 462.9L764.8 457L802.2 453.9L808.8 452.8L815.5 451.1L828.8 446.9L835.5 444.4L855.5 435L872.9 425.1L884.9 420.2L890.2 418.5L894.2 417.7L907.6 416.4L916.9 416.7L924.9 418.1L930.2 419.4L944.9 425.9L959.6 430.7L964.9 432.8L979.6 441.7L986.3 444.6L990.3 445.7L998.3 445.4L1004.9 444.2L1007.6 442.8L1014.3 438.2L1022.3 433.7L1026.3 432L1029 431.6L1035.6 431.6L1039.6 432.6L1049 436.9L1059.6 443.4L1062.3 444.5L1065 444.8L1067.7 443.9L1070.3 441.7L1078.3 433.2L1085 424.2L1087.7 422.3L1089 422.2L1090.3 422.8L1093 425.7L1102.3 442.4L1113 466.1L1115.7 473.4L1118.4 479.5L1121 483.1L1122.4 483.9L1125 484.3L1126.4 485.1L1129 488.4L1131.7 494.1L1138.4 512.6L1141 517.9L1142.4 519.4L1143.7 520.2L1145 520.4L1146.4 519.9L1153 513.9L1154.4 513.3L1155.7 513.1L1157 513.6L1158.4 514.7L1161 518.4L1167.7 531.1L1169 532.6L1170.4 533.5L1171.7 533.7L1173.1 533.1L1175.7 529.8L1181.1 517.8L1183.7 513.9L1187.7 510.2L1191.7 502.2L1194.4 497.7L1195.7 496.2L1197.1 495.9L1198.4 496.9L1201.1 501.4L1203.7 514.9L1205.1 524.2L1207.7 552L1209.1 559.8L1211.7 562.7L1214.4 564.3L1215.7 564.6L1218.4 564.2L1219.7 563.4L1222.4 560.8L1223.7 558.3L1225.1 551.6L1226.4 542.9L1231.8 491.2L1233.1 470.5L1234.4 456.1L1235.8 446.9L1237.1 442.7L1239.6 444.4"/>
<path transform="matrix(1.04614 0 0 1.04555 -1.59 -0.87)" clip-path="url(#bc)" vector-effect="non-scaling-stroke" d="M1239.6 680.9L37.7 680.9L37.7 413.7L71.1 412.6L116.4 413L157.8 415.3L183.1 418L213.8 422.7L252.5 430.9L345.9 452.7L376.6 460.4L389.9 463.2L413.9 467.3L429.9 469.3L447.3 470.3L468.6 471L478 470.7L500.6 468.9L590 467.5L595.4 467.2L600.7 465.9L604.7 465.8L707.4 464.8L719.4 463.7L764.8 457.8L802.2 454.7L808.8 453.6L815.5 452L828.8 447.7L835.5 445.2L855.5 435.8L872.9 425.9L884.9 421L890.2 419.4L894.2 418.5L907.6 417.2L916.9 417.5L924.9 418.9L930.2 420.2L944.9 426.8L959.6 431.5L964.9 433.6L979.6 442.5L986.3 445.5L990.3 446.6L998.3 446.3L1004.9 445L1007.6 443.6L1014.3 439.1L1022.3 434.6L1026.3 432.9L1029 432.4L1035.6 432.5L1039.6 433.4L1049 437.7L1059.6 444.3L1062.3 445.3L1065 445.7L1067.7 444.7L1070.3 442.5L1078.3 434.1L1085 425.1L1087.7 423.2L1089 423.1L1090.3 423.7L1093 426.6L1102.3 443.2L1113 466.9L1115.7 474.2L1118.4 480.3L1121 483.9L1122.4 484.8L1125 485.2L1126.4 486L1129 489.3L1131.7 495L1138.4 513.4L1141 518.7L1142.4 520.3L1143.7 521.1L1145 521.2L1146.4 520.7L1153 514.7L1154.4 514.1L1155.7 514L1157 514.4L1158.4 515.5L1161 519.3L1167.7 531.9L1169 533.5L1170.4 534.4L1171.7 534.5L1173.1 533.9L1175.7 530.7L1181.1 518.6L1183.7 514.7L1187.7 511L1191.7 503L1194.4 498.5L1195.7 497L1197.1 496.7L1198.4 497.7L1201.1 502.2L1203.7 515.6L1205.1 525L1207.7 552.8L1209.1 560.6L1211.7 563.5L1214.4 565.1L1215.7 565.4L1218.4 564.9L1219.7 564.2L1222.4 561.6L1223.7 559.1L1225.1 552.4L1226.4 543.7L1231.8 492L1233.1 471.3L1234.4 456.9L1235.8 447.6L1237.1 443.5L1239.6 445.2"/>
<path transform="matrix(1.04833 0 0 1.04772 -1.67 -0.91)" clip-path="url(#bc)" vector-effect="non-scaling-stroke" d="M1239.6 680.9L37.7 680.9L37.7 414.5L72.4 413.4L117.7 413.9L157.8 416.2L183.1 418.9L213.8 423.6L252.5 431.8L345.9 453.6L376.6 461.3L389.9 464.1L413.9 468.2L429.9 470.2L447.3 471.3L468.6 471.9L478 471.7L500.6 469.8L590 468.4L595.4 468.1L600.7 466.8L604.7 466.7L707.4 465.7L719.4 464.6L764.8 458.7L802.2 455.6L808.8 454.5L815.5 452.8L828.8 448.6L835.5 446.1L855.5 436.7L872.9 426.8L884.9 421.9L890.2 420.3L894.2 419.4L907.6 418.1L916.9 418.4L924.9 419.8L930.2 421.1L944.9 427.6L959.6 432.4L964.9 434.5L979.6 443.4L986.3 446.3L990.3 447.5L998.3 447.1L1004.9 445.9L1007.6 444.5L1014.3 439.9L1022.3 435.5L1026.3 433.7L1029 433.3L1035.6 433.3L1039.6 434.3L1049 438.6L1059.6 445.1L1062.3 446.2L1065 446.5L1067.7 445.6L1070.3 443.4L1078.3 434.9L1085 426L1087.7 424.1L1089 424L1090.3 424.5L1093 427.4L1102.3 444.1L1113 467.8L1115.7 475.1L1118.4 481.2L1121 484.8L1122.4 485.6L1125 486.1L1126.4 486.9L1129 490.1L1131.7 495.8L1138.4 514.3L1141 519.6L1142.4 521.2L1143.7 522L1145 522.1L1146.4 521.6L1153 515.6L1154.4 515L1155.7 514.9L1157 515.3L1158.4 516.4L1161 520.1L1167.7 532.8L1169 534.4L1170.4 535.2L1171.7 535.4L1173.1 534.8L1175.7 531.5L1181.1 519.5L1183.7 515.6L1187.7 511.9L1191.7 503.9L1194.4 499.3L1195.7 497.8L1197.1 497.5L1198.4 498.5L1201.1 503L1203.7 516.5L1205.1 525.8L1207.7 553.6L1209.1 561.4L1211.7 564.3L1214.4 565.9L1215.7 566.2L1218.4 565.8L1219.7 565L1222.4 562.4L1223.7 559.9L1225.1 553.2L1226.4 544.5L1231.8 492.8L1233.1 472.1L1234.4 457.7L1235.8 448.5L1237.1 444.3L1239.6 446"/>
<path transform="matrix(1.05053 0 0 1.04989 -1.74 -0.95)" clip-path="url(#bc)" vector-effect="non-scaling-stroke" d="M1239.6 680.9L37.7 680.9L37.7 415.4L72.4 414.3L117.7 414.9L157.8 417.1L183.1 419.8L213.8 424.5L252.5 432.7L345.9 454.5L376.6 462.2L389.9 465.1L413.9 469.1L429.9 471.2L447.3 472.2L468.6 472.8L478 472.6L500.6 470.7L590 469.4L595.4 469L600.7 467.8L604.7 467.6L707.4 466.6L719.4 465.5L764.8 459.6L802.2 456.5L808.8 455.4L815.5 453.8L828.8 449.5L835.5 447L855.5 437.6L872.9 427.7L884.9 422.9L890.2 421.2L894.2 420.3L907.6 419L916.9 419.3L924.9 420.7L930.2 422L944.9 428.6L959.6 433.3L964.9 435.4L979.6 444.3L986.3 447.3L990.3 448.4L998.3 448.1L1004.9 446.9L1007.6 445.4L1014.3 440.9L1022.3 436.4L1026.3 434.7L1029 434.2L1035.6 434.3L1039.6 435.2L1049 439.5L1059.6 446.1L1062.3 447.1L1065 447.5L1067.7 446.5L1070.3 444.3L1078.3 435.9L1085 426.9L1087.7 425L1089 424.9L1090.3 425.5L1093 428.4L1102.3 445L1113 468.7L1115.7 476L1118.4 482.1L1121 485.7L1122.4 486.6L1125 487L1126.4 487.8L1129 491.1L1131.7 496.8L1138.4 515.3L1141 520.5L1142.4 522.1L1143.7 522.9L1145 523L1146.4 522.5L1153 516.5L1154.4 515.9L1155.7 515.8L1157 516.3L1158.4 517.3L1161 521.1L1167.7 533.7L1169 535.3L1170.4 536.2L1171.7 536.3L1173.1 535.7L1175.7 532.5L1181.1 520.4L1183.7 516.5L1187.7 512.8L1191.7 504.8L1194.4 500.2L1195.7 498.7L1197.1 498.4L1198.4 499.4L1201.1 503.8L1203.7 517.3L1205.1 526.7L1207.7 554.4L1209.1 562.3L1211.7 565.2L1214.4 566.8L1215.7 567.1L1218.4 566.6L1219.7 565.8L1222.4 563.3L1223.7 560.7L1225.1 554.1L1226.4 545.3L1231.8 493.7L1233.1 473L1234.4 458.6L1235.8 449.3L1237.1 445.2L1239.6 446.9"/>
<path transform="matrix(1.05273 0 0 1.05206 -1.82 -0.99)" clip-path="url(#bc)" vector-effect="non-scaling-stroke" d="M1239.6 680.9L37.7 680.9L37.7 416.4L72.4 415.3L117.7 415.8L157.8 418L183.1 420.8L213.8 425.5L252.5 433.6L345.9 455.5L376.6 463.2L389.9 466.1L413.9 470.1L429.9 472.2L447.3 473.2L468.6 473.8L478 473.6L500.6 471.7L590 470.4L595.4 470L600.7 468.7L604.7 468.6L707.4 467.6L719.4 466.5L764.8 460.6L802.2 457.5L808.8 456.4L815.5 454.7L828.8 450.5L835.5 448L855.5 438.6L872.9 428.7L884.9 423.8L890.2 422.1L894.2 421.3L907.6 420L916.9 420.3L924.9 421.7L930.2 423L944.9 429.5L959.6 434.3L964.9 436.4L979.6 445.3L986.3 448.2L990.3 449.4L998.3 449L1004.9 447.8L1007.6 446.4L1014.3 441.8L1022.3 437.4L1026.3 435.6L1029 435.2L1035.6 435.2L1039.6 436.2L1049 440.5L1059.6 447L1062.3 448.1L1065 448.4L1067.7 447.5L1070.3 445.3L1078.3 436.8L1085 427.8L1087.7 426L1089 425.9L1090.3 426.4L1093 429.3L1102.3 446L1113 469.7L1115.7 477L1118.4 483.1L1121 486.7L1122.4 487.5L1125 488L1126.4 488.8L1129 492L1131.7 497.7L1138.4 516.2L1141 521.5L1142.4 523L1143.7 523.9L1145 524L1146.4 523.5L1153 517.5L1154.4 516.9L1155.7 516.8L1157 517.2L1158.4 518.3L1161 522L1167.7 534.7L1169 536.3L1170.4 537.1L1171.7 537.3L1173.1 536.7L1175.7 533.4L1181.1 521.4L1183.7 517.5L1187.7 513.8L1191.7 505.7L1194.4 501.1L1195.7 499.6L1197.1 499.3L1198.4 500.3L1201.1 504.7L1203.7 518.2L1205.1 527.6L1207.7 555.3L1209.1 563.2L1211.7 566.1L1214.4 567.7L1215.7 568L1218.4 567.5L1219.7 566.7L1222.4 564.2L1223.7 561.6L1225.1 555L1226.4 546.2L1231.8 494.6L1233.1 473.9L1234.4 459.5L1235.8 450.2L1237.1 446.1L1239.6 447.9"/>
<path transform="matrix(1.05492 0 0 1.05422 -1.89 -1.04)" clip-path="url(#bc)" vector-effect="non-scaling-stroke" d="M1239.6 680.9L37.7 680.9L37.7 417.3L72.4 416.3L117.7 416.8L157.8 419L183.1 421.8L213.8 426.5L252.5 434.7L345.9 456.5L376.6 464.3L389.9 467.1L413.9 471.2L429.9 473.2L447.3 474.3L468.6 474.9L478 474.7L500.6 472.7L590 471.4L595.4 471.1L600.7 469.8L604.7 469.6L707.4 468.6L719.4 467.5L764.8 461.6L802.2 458.5L808.8 457.4L815.5 455.8L828.8 451.5L835.5 449L855.5 439.6L872.9 429.7L884.9 424.8L890.2 423.2L894.2 422.3L907.6 421L916.9 421.3L924.9 422.7L930.2 424L944.9 430.5L959.6 435.3L964.9 437.4L979.6 446.3L986.3 449.3L990.3 450.4L998.3 450.1L1004.9 448.8L1007.6 447.4L1014.3 442.8L1022.3 438.4L1026.3 436.6L1029 436.2L1035.6 436.2L1039.6 437.2L1049 441.5L1059.6 448.1L1062.3 449.1L1065 449.4L1067.7 448.5L1070.3 446.3L1078.3 437.8L1085 428.9L1087.7 427L1089 426.9L1090.3 427.5L1093 430.4L1102.3 447L1113 470.7L1115.7 478L1118.4 484.1L1121 487.7L1122.4 488.6L1125 489L1126.4 489.8L1129 493.1L1131.7 498.7L1138.4 517.2L1141 522.5L1142.4 524.1L1143.7 524.9L1145 525L1146.4 524.5L1153 518.5L1154.4 517.9L1155.7 517.8L1157 518.2L1158.4 519.3L1161 523.1L1167.7 535.7L1169 537.3L1170.4 538.2L1171.7 538.3L1173.1 537.7L1175.7 534.5L1181.1 522.4L1183.7 518.5L1187.7 514.8L1191.7 506.7L1194.4 502.1L1195.7 500.6L1197.1 500.3L1198.4 501.2L1201.1 505.7L1203.7 519.2L1205.1 528.5L1207.7 556.3L1209.1 564.1L1211.7 567L1214.4 568.6L1215.7 568.9L1218.4 568.5L1219.7 567.7L1222.4 565.1L1223.7 562.6L1225.1 555.9L1226.4 547.2L1231.8 495.5L1233.1 474.8L1234.4 460.4L1235.8 451.2L1237.1 447L1239.6 448.9"/>
<path transform="matrix(1.05712 0 0 1.05639 -1.97 -1.08)" clip-path="url(#bc)" vector-effect="non-scaling-stroke" d="M1239.6 680.9L37.7 680.9L37.7 418.4L72.4 417.3L117.7 417.9L157.8 420.1L183.1 422.8L213.8 427.5L252.5 435.7L345.9 457.6L376.6 465.3L389.9 468.2L413.9 472.3L429.9 474.3L447.3 475.4L468.6 476L478 475.8L500.6 473.8L590 472.5L595.4 472.1L600.7 470.8L604.7 470.7L707.4 469.7L719.4 468.6L764.8 462.7L802.2 459.6L808.8 458.5L815.5 456.8L828.8 452.6L835.5 450.1L855.5 440.7L872.9 430.8L884.9 425.9L890.2 424.2L894.2 423.4L907.6 422.1L916.9 422.4L924.9 423.8L930.2 425.1L944.9 431.6L959.6 436.4L964.9 438.5L979.6 447.4L986.3 450.3L990.3 451.4L998.3 451.1L1004.9 449.9L1007.6 448.5L1014.3 443.9L1022.3 439.4L1026.3 437.7L1029 437.3L1035.6 437.3L1039.6 438.3L1049 442.6L1059.6 449.1L1062.3 450.2L1065 450.5L1067.7 449.6L1070.3 447.4L1078.3 438.9L1085 429.9L1087.7 428L1089 427.9L1090.3 428.5L1093 431.4L1102.3 448.1L1113 471.8L1115.7 479.1L1118.4 485.2L1121 488.8L1122.4 489.6L1125 490L1126.4 490.8L1129 494.1L1131.7 499.8L1138.4 518.3L1141 523.6L1142.4 525.1L1143.7 525.9L1145 526.1L1146.4 525.6L1153 519.6L1154.4 518.9L1155.7 518.8L1157 519.3L1158.4 520.4L1161 524.1L1167.7 536.8L1169 538.3L1170.4 539.2L1171.7 539.4L1173.1 538.8L1175.7 535.5L1181.1 523.5L1183.7 519.5L1187.7 515.8L1191.7 507.7L1194.4 503.1L1195.7 501.6L1197.1 501.2L1198.4 502.2L1201.1 506.7L1203.7 520.1L1205.1 529.5L1207.7 557.3L1209.1 565.1L1211.7 568L1214.4 569.6L1215.7 569.9L1218.4 569.5L1219.7 568.7L1222.4 566.1L1223.7 563.6L1225.1 556.9L1226.4 548.2L1231.8 496.5L1233.1 475.8L1234.4 461.4L1235.8 452.2L1237.1 448L1239.6 449.9"/>
<path transform="matrix(1.05932 0 0 1.05856 -2.05 -1.12)" clip-path="url(#bc)" vector-effect="non-scaling-stroke" d="M1239.6 680.9L37.7 680.9L37.7 419.4L72.4 418.4L117.7 419L157.8 421.2L183.1 423.9L213.8 428.6L252.5 436.8L345.9 458.7L377.9 466.8L389.9 469.3L413.9 473.4L429.9 475.5L447.3 476.5L468.6 477.2L478 477L491.3 475.5L500.6 474.9L590 473.6L595.4 473.3L600.7 471.9L604.7 471.8L707.4 470.8L719.4 469.7L764.8 463.8L802.2 460.7L808.8 459.6L815.5 457.9L828.8 453.7L835.5 451.2L855.5 441.8L872.9 431.9L884.9 427L890.2 425.3L894.2 424.5L907.6 423.2L916.9 423.5L924.9 424.9L930.2 426.2L944.9 432.7L959.6 437.5L964.9 439.6L979.6 448.5L986.3 451.4L990.3 452.5L998.3 452.2L1004.9 451L1007.6 449.6L1014.3 445L1022.3 440.5L1026.3 438.8L1029 438.4L1035.6 438.4L1039.6 439.4L1049 443.7L1059.6 450.2L1062.3 451.3L1065 451.6L1067.7 450.7L1070.3 448.5L1078.3 440L1085 431L1087.7 429.1L1089 429L1090.3 429.6L1093 432.5L1102.3 449.2L1113 472.9L1115.7 480.2L1118.4 486.3L1121 489.9L1122.4 490.7L1125 491.1L1126.4 491.9L1129 495.2L1131.7 500.9L1138.4 519.4L1141 524.7L1142.4 526.2L1143.7 527.1L1145 527.2L1146.4 526.7L1153 520.7L1154.4 520.1L1155.7 519.9L1157 520.4L1158.4 521.5L1161 525.2L1167.7 537.9L1169 539.4L1170.4 540.3L1171.7 540.5L1173.1 539.9L1175.7 536.6L1181.1 524.6L1183.7 520.7L1187.7 516.9L1191.7 508.8L1194.4 504.1L1195.7 502.6L1197.1 502.3L1198.4 503.2L1201.1 507.7L1203.7 521.2L1205.1 530.6L1207.7 558.3L1209.1 566.1L1211.7 569.1L1214.4 570.7L1215.7 571L1218.4 570.5L1219.7 569.7L1222.4 567.2L1223.7 564.6L1225.1 558L1226.4 549.2L1231.8 497.5L1233.1 476.8L1234.4 462.4L1235.8 453.2L1237.1 449L1239.6 451"/>
<path transform="matrix(1.06152 0 0 1.06073 -2.12 -1.16)" clip-path="url(#bc)" vector-effect="non-scaling-stroke" d="M1239.6 680.9L37.7 680.9L37.7 420.6L72.4 419.5L117.7 420.1L157.8 422.3L183.1 425.1L213.8 429.8L252.5 438L345.9 459.8L377.9 467.9L389.9 470.5L413.9 474.6L429.9 476.7L447.3 477.7L468.6 478.4L478 478.2L491.3 476.7L500.6 476.1L590 474.8L595.4 474.4L600.7 473.1L604.7 472.9L707.4 472L719.4 470.8L764.8 465L802.2 461.9L808.8 460.8L815.5 459.1L828.8 454.8L835.5 452.3L855.5 443L872.9 433L884.9 428.2L890.2 426.5L894.2 425.6L907.6 424.4L916.9 424.6L924.9 426L930.2 427.4L944.9 433.9L959.6 438.7L964.9 440.7L979.6 449.6L986.3 452.6L990.3 453.7L998.3 453.4L1004.9 452.2L1007.6 450.8L1014.3 446.2L1022.3 441.7L1026.3 440L1029 439.5L1035.6 439.6L1039.6 440.6L1049 444.9L1059.6 451.4L1062.3 452.4L1065 452.8L1067.7 451.8L1070.3 449.7L1078.3 441.2L1085 432.2L1087.7 430.3L1089 430.2L1090.3 430.8L1093 433.7L1102.3 450.3L1113 474L1115.7 481.4L1118.4 487.5L1121 491.1L1122.4 491.9L1125 492.3L1126.4 493.1L1129 496.4L1131.7 502.1L1138.4 520.6L1141 525.8L1142.4 527.4L1143.7 528.2L1145 528.3L1146.4 527.9L1153 521.9L1154.4 521.2L1155.7 521.1L1157 521.6L1158.4 522.7L1161 526.4L1167.7 539L1169 540.6L1170.4 541.5L1171.7 541.6L1173.1 541L1175.7 537.8L1181.1 525.8L1183.7 521.8L1187.7 518.1L1191.7 509.9L1194.4 505.2L1195.7 503.7L1197.1 503.4L1198.4 504.3L1201.1 508.8L1203.7 522.3L1205.1 531.6L1207.7 559.4L1209.1 567.2L1211.7 570.1L1214.4 571.7L1215.7 572L1218.4 571.6L1219.7 570.8L1222.4 568.2L1223.7 565.7L1225.1 559L1226.4 550.3L1231.8 498.6L1233.1 477.9L1234.4 463.5L1235.8 454.3L1237.1 450.1L1239.6 452.1"/>
<path transform="matrix(1.06371 0 0 1.06290 -2.20 -1.20)" clip-path="url(#bc)" vector-effect="non-scaling-stroke" d="M1239.6 680.9L37.7 680.9L37.7 421.7L72.4 420.7L117.7 421.3L157.8 423.5L183.1 426.3L213.8 431L252.5 439.2L345.9 461.1L377.9 469.2L389.9 471.7L413.9 475.8L429.9 477.9L447.3 479L468.6 479.6L478 479.4L491.3 478L500.6 477.3L590 476L595.4 475.7L600.7 474.3L606 474.1L707.4 473.2L719.4 472.1L764.8 466.2L802.2 463.1L808.8 462L815.5 460.3L828.8 456L835.5 453.5L855.5 444.2L872.9 434.2L884.9 429.4L890.2 427.7L894.2 426.8L907.6 425.6L916.9 425.8L924.9 427.2L930.2 428.6L944.9 435.1L959.6 439.9L964.9 441.9L979.6 450.8L986.3 453.8L990.3 454.9L998.3 454.6L1004.9 453.4L1007.6 452L1014.3 447.4L1022.3 442.9L1026.3 441.2L1029 440.7L1035.6 440.8L1039.6 441.8L1049 446.1L1059.6 452.6L1062.3 453.6L1065 454L1067.7 453L1070.3 450.9L1078.3 442.4L1085 433.4L1087.7 431.5L1089 431.4L1090.3 432L1093 434.9L1102.3 451.5L1113 475.2L1115.7 482.6L1118.4 488.7L1121 492.3L1122.4 493.1L1125 493.5L1126.4 494.3L1129 497.6L1131.7 503.3L1138.4 521.8L1141 527L1142.4 528.6L1143.7 529.4L1145 529.5L1146.4 529.1L1153 523.1L1154.4 522.4L1155.7 522.3L1157 522.8L1158.4 523.9L1161 527.6L1167.7 540.2L1169 541.8L1170.4 542.7L1171.7 542.8L1173.1 542.2L1175.7 539L1181.1 527L1183.7 523L1187.7 519.3L1191.7 511L1194.4 506.4L1195.7 504.8L1197.1 504.5L1198.4 505.4L1201.1 509.9L1203.7 523.4L1205.1 532.8L1207.7 560.5L1209.1 568.3L1211.7 571.3L1214.4 572.8L1215.7 573.1L1218.4 572.7L1219.7 571.9L1222.4 569.4L1223.7 566.8L1225.1 560.2L1226.4 551.4L1231.8 499.7L1233.1 479L1234.4 464.6L1235.8 455.4L1237.1 451.2L1239.6 453.3"/>
<path transform="matrix(1.06591 0 0 1.06507 -2.27 -1.24)" clip-path="url(#bc)" vector-effect="non-scaling-stroke" d="M1239.6 680.9L37.7 680.9L37.7 422.9L72.4 421.9L117.7 422.5L157.8 424.8L183.1 427.5L213.8 432.2L252.5 440.4L345.9 462.3L377.9 470.4L389.9 473L413.9 477.1L429.9 479.2L447.3 480.3L468.6 480.9L478 480.7L491.3 479.2L500.6 478.6L590 477.3L595.4 476.9L600.7 475.6L606 475.4L707.4 474.4L719.4 473.3L764.8 467.4L802.2 464.3L808.8 463.2L815.5 461.5L828.8 457.3L835.5 454.8L855.5 445.4L872.9 435.5L884.9 430.6L890.2 429L894.2 428.1L907.6 426.8L916.9 427.1L924.9 428.5L930.2 429.8L944.9 436.3L959.6 441.1L964.9 443.2L979.6 452.1L986.3 455L990.3 456.2L998.3 455.9L1004.9 454.6L1007.6 453.2L1014.3 448.6L1022.3 444.2L1026.3 442.4L1029 442L1035.6 442L1039.6 443L1049 447.3L1059.6 453.8L1062.3 454.9L1065 455.2L1067.7 454.3L1070.3 452.1L1078.3 443.6L1085 434.7L1087.7 432.8L1089 432.7L1090.3 433.2L1093 436.1L1102.3 452.8L1113 476.5L1115.7 483.8L1118.4 489.9L1121 493.5L1122.4 494.3L1125 494.8L1126.4 495.6L1129 498.8L1131.7 504.5L1138.4 523L1141 528.3L1142.4 529.9L1143.7 530.7L1145 530.8L1146.4 530.3L1153 524.3L1154.4 523.7L1155.7 523.6L1157 524L1158.4 525.1L1161 528.8L1167.7 541.5L1169 543.1L1170.4 543.9L1171.7 544.1L1173.1 543.5L1175.7 540.2L1181.1 528.2L1183.7 524.3L1187.7 520.5L1191.7 512.3L1194.4 507.6L1195.7 506L1197.1 505.7L1198.4 506.6L1201.1 511.1L1203.7 524.5L1205.1 533.9L1207.7 561.7L1209.1 569.5L1211.7 572.4L1214.4 574L1215.7 574.3L1218.4 573.9L1219.7 573.1L1222.4 570.5L1223.7 568L1225.1 561.3L1226.4 552.6L1231.8 500.9L1233.1 480.2L1234.4 465.8L1235.8 456.6L1237.1 452.4L1239.6 454.5"/>
<path transform="matrix(1.06811 0 0 1.06724 -2.35 -1.28)" clip-path="url(#bc)" vector-effect="non-scaling-stroke" d="M1239.6 680.9L37.7 680.9L37.7 424.2L72.4 423.2L117.7 423.8L157.8 426L183.1 428.8L213.8 433.5L252.5 441.7L345.9 463.6L377.9 471.8L389.9 474.3L413.9 478.5L429.9 480.5L447.3 481.6L468.6 482.3L478 482.1L491.3 480.6L500.6 480L590 478.6L595.4 478.3L600.7 476.9L606 476.7L707.4 475.7L719.4 474.6L764.8 468.7L802.2 465.6L808.8 464.5L815.5 462.8L828.8 458.6L835.5 456.1L855.5 446.7L872.9 436.8L884.9 431.9L890.2 430.3L894.2 429.4L907.6 428.1L916.9 428.4L924.9 429.8L930.2 431.1L944.9 437.6L959.6 442.4L964.9 444.5L979.6 453.4L986.3 456.3L990.3 457.5L998.3 457.2L1004.9 455.9L1007.6 454.5L1014.3 449.9L1022.3 445.5L1026.3 443.7L1029 443.3L1035.6 443.3L1039.6 444.3L1049 448.6L1059.6 455.1L1062.3 456.2L1065 456.5L1067.7 455.6L1070.3 453.4L1078.3 444.9L1085 436L1087.7 434.1L1089 434L1090.3 434.6L1093 437.5L1102.3 454.1L1113 477.8L1115.7 485.1L1118.4 491.2L1121 494.8L1122.4 495.6L1125 496.1L1126.4 496.9L1129 500.2L1131.7 505.8L1138.4 524.3L1141 529.6L1142.4 531.2L1143.7 532L1145 532.1L1146.4 531.6L1153 525.6L1154.4 525L1155.7 524.9L1157 525.3L1158.4 526.4L1161 530.1L1167.7 542.8L1169 544.4L1170.4 545.3L1171.7 545.4L1173.1 544.8L1175.7 541.5L1181.1 529.5L1183.7 525.6L1187.7 521.8L1194.4 508.8L1195.7 507.2L1197.1 506.9L1198.4 507.8L1201.1 512.3L1203.7 525.8L1205.1 535.1L1207.7 562.9L1209.1 570.7L1211.7 573.6L1214.4 575.2L1215.7 575.5L1218.4 575.1L1219.7 574.3L1222.4 571.7L1223.7 569.2L1225.1 562.5L1226.4 553.8L1231.8 502.1L1233.1 481.4L1234.4 467L1235.8 457.8L1237.1 453.6L1239.6 455.7"/>
<path transform="matrix(1.07030 0 0 1.06941 -2.43 -1.33)" clip-path="url(#bc)" vector-effect="non-scaling-stroke" d="M1239.6 680.9L37.7 680.9L37.7 425.5L72.4 424.5L117.7 425.1L157.8 427.4L183.1 430.1L213.8 434.9L253.8 443.4L345.9 465L377.9 473.1L389.9 475.7L413.9 479.8L429.9 481.9L447.3 483.1L468.6 483.7L478 483.5L491.3 482L500.6 481.3L590 480L595.4 479.6L600.7 478.2L606 478L707.4 477.1L719.4 476L764.8 470.1L802.2 467L808.8 465.9L815.5 464.2L828.8 459.9L835.5 457.4L855.5 448.1L872.9 438.1L884.9 433.3L890.2 431.6L894.2 430.8L907.6 429.5L916.9 429.8L924.9 431.1L930.2 432.5L944.9 439L959.6 443.8L964.9 445.8L979.6 454.7L986.3 457.7L990.3 458.8L998.3 458.5L1004.9 457.3L1007.6 455.9L1014.3 451.3L1022.3 446.8L1026.3 445.1L1029 444.7L1035.6 444.7L1039.6 445.7L1049 450L1059.6 456.5L1062.3 457.5L1065 457.9L1067.7 456.9L1070.3 454.8L1078.3 446.3L1085 437.3L1087.7 435.4L1089 435.3L1090.3 435.9L1093 438.8L1102.3 455.5L1113 479.1L1115.7 486.5L1118.4 492.6L1121 496.2L1122.4 497L1125 497.4L1126.4 498.2L1129 501.5L1131.7 507.2L1138.4 525.7L1141 530.9L1142.4 532.5L1143.7 533.3L1145 533.5L1146.4 533L1153 527L1154.4 526.3L1155.7 526.2L1157 526.7L1158.4 527.8L1161 531.5L1167.7 544.1L1169 545.7L1170.4 546.6L1171.7 546.8L1173.1 546.1L1175.7 542.9L1181.1 530.9L1183.7 526.9L1187.7 523.1L1194.4 510.1L1195.7 508.5L1197.1 508.1L1198.4 509.1L1201.1 513.6L1203.7 527L1205.1 536.4L1207.7 564.1L1209.1 572L1211.7 574.9L1214.4 576.5L1215.7 576.8L1218.4 576.3L1219.7 575.5L1222.4 573L1223.7 570.4L1225.1 563.8L1226.4 555L1231.8 503.4L1233.1 482.7L1234.4 468.3L1235.8 459L1237.1 454.9L1239.6 457.1"/>
<path transform="matrix(1.07250 0 0 1.07158 -2.50 -1.37)" clip-path="url(#bc)" vector-effect="non-scaling-stroke" d="M1239.6 680.9L37.7 680.9L37.7 426.8L72.4 425.9L117.7 426.5L157.8 428.8L183.1 431.5L213.8 436.3L253.8 444.8L345.9 466.4L377.9 474.6L389.9 477.1L413.9 481.3L429.9 483.4L447.3 484.5L468.6 485.2L478 485L491.3 483.4L500.6 482.8L590 481.4L595.4 481.1L600.7 479.7L606 479.4L707.4 478.5L719.4 477.4L764.8 471.5L802.2 468.4L808.8 467.3L815.5 465.6L828.8 461.3L835.5 458.9L855.5 449.5L872.9 439.6L884.9 434.7L890.2 433L894.2 432.2L907.6 430.9L916.9 431.2L924.9 432.5L930.2 433.9L944.9 440.4L959.6 445.2L964.9 447.2L979.6 456.1L986.3 459.1L990.3 460.2L998.3 459.9L1004.9 458.7L1007.6 457.3L1014.3 452.7L1022.3 448.2L1026.3 446.5L1029 446.1L1035.6 446.1L1039.6 447.1L1049 451.4L1059.6 457.9L1062.3 459L1065 459.3L1067.7 458.3L1070.3 456.2L1078.3 447.7L1085 438.7L1087.7 436.8L1089 436.7L1090.3 437.3L1093 440.2L1102.3 456.9L1113 480.6L1115.7 487.9L1118.4 494L1121 497.6L1122.4 498.4L1125 498.8L1126.4 499.6L1129 502.9L1131.7 508.6L1138.4 527.1L1141 532.3L1142.4 533.9L1143.7 534.7L1145 534.9L1146.4 534.4L1153 528.4L1154.4 527.7L1155.7 527.6L1157 528.1L1158.4 529.2L1161 532.9L1167.7 545.6L1169 547.1L1170.4 548L1171.7 548.2L1173.1 547.6L1175.7 544.3L1181.1 532.3L1183.7 528.3L1187.7 524.5L1194.4 511.4L1195.7 509.8L1197.1 509.5L1198.4 510.4L1201.1 514.9L1203.7 528.3L1205.1 537.7L1207.7 565.4L1209.1 573.3L1211.7 576.2L1214.4 577.8L1215.7 578.1L1218.4 577.6L1219.7 576.9L1222.4 574.3L1223.7 571.8L1225.1 565.1L1226.4 556.3L1231.8 504.7L1233.1 484L1234.4 469.6L1235.8 460.3L1237.1 456.2L1239.6 458.4"/>
<path transform="matrix(1.07470 0 0 1.07375 -2.58 -1.41)" clip-path="url(#bc)" vector-effect="non-scaling-stroke" d="M1239.5 680.9L37.7 680.9L37.7 428.2L72.4 427.3L117.7 427.9L157.8 430.2L184.5 433.2L213.8 437.7L253.8 446.2L345.9 467.9L377.9 476L389.9 478.6L413.9 482.8L429.9 484.9L447.3 486L468.6 486.7L478 486.5L491.3 484.9L500.6 484.3L590 482.9L595.4 482.5L600.7 481.1L606 480.9L707.4 479.9L719.4 478.8L764.8 472.9L802.2 469.8L808.8 468.7L815.5 467.1L828.8 462.8L835.5 460.3L855.5 450.9L872.9 441L884.9 436.2L890.2 434.5L894.2 433.6L907.6 432.3L916.9 432.6L924.9 434L930.2 435.3L944.9 441.9L959.6 446.6L964.9 448.7L979.6 457.6L986.3 460.6L990.3 461.7L998.3 461.4L1004.9 460.2L1007.6 458.7L1014.3 454.2L1022.3 449.7L1026.3 448L1029 447.5L1035.6 447.6L1039.6 448.5L1049 452.8L1059.6 459.4L1062.3 460.4L1065 460.8L1067.7 459.8L1070.3 457.6L1078.3 449.2L1085 440.2L1087.7 438.3L1089 438.2L1090.3 438.8L1093 441.7L1102.3 458.3L1113 482L1115.7 489.3L1118.4 495.4L1121 499L1122.4 499.9L1125 500.3L1126.4 501.1L1129 504.4L1131.7 510.1L1138.4 528.6L1141 533.8L1142.4 535.4L1143.7 536.2L1145 536.3L1146.4 535.8L1153 529.8L1154.4 529.2L1155.7 529.1L1157 529.6L1158.4 530.6L1161 534.4L1167.7 547L1169 548.6L1170.4 549.5L1171.7 549.6L1173.1 549L1175.7 545.8L1181.1 533.7L1183.7 529.8L1187.7 526L1194.4 512.8L1195.7 511.2L1197.1 510.8L1198.4 511.8L1201.1 516.2L1203.7 529.7L1205.1 539.1L1207.7 566.8L1209.1 574.6L1211.7 577.6L1214.4 579.1L1215.7 579.4L1218.4 579L1219.7 578.2L1222.4 575.7L1223.7 573.1L1225.1 566.5L1226.4 557.7L1231.8 506L1233.1 485.3L1234.4 470.9L1235.8 461.7L1237.1 457.5L1239.5 459.8"/>
<path transform="matrix(1.07689 0 0 1.07591 -2.65 -1.45)" clip-path="url(#bc)" vector-effect="non-scaling-stroke" d="M1239.5 680.9L37.7 680.9L37.7 429.7L72.4 428.8L117.7 429.4L157.8 431.7L184.5 434.7L213.8 439.2L253.8 447.7L341.9 468.4L375.2 476.9L389.9 480.1L413.9 484.3L429.9 486.5L447.3 487.6L468.6 488.3L478 488.1L491.3 486.4L500.6 485.8L590 484.5L595.4 484.1L600.7 482.6L606 482.4L707.4 481.5L719.4 480.3L764.8 474.5L802.2 471.4L808.8 470.2L815.5 468.6L828.8 464.3L835.5 461.8L855.5 452.5L872.9 442.5L884.9 437.7L890.2 436L894.2 435.1L907.6 433.9L916.9 434.1L924.9 435.5L930.2 436.8L944.9 443.4L959.6 448.1L964.9 450.2L979.6 459.1L986.3 462.1L990.3 463.2L998.3 462.9L1004.9 461.7L1007.6 460.3L1014.3 455.7L1022.3 451.2L1026.3 449.5L1029 449L1035.6 449.1L1039.6 450.1L1049 454.4L1059.6 460.9L1062.3 461.9L1065 462.3L1067.7 461.3L1070.3 459.1L1078.3 450.7L1085 441.7L1087.7 439.8L1089 439.7L1090.3 440.3L1093 443.2L1102.3 459.8L1113 483.5L1115.7 490.9L1118.4 497L1121 500.5L1122.4 501.4L1125 501.8L1126.4 502.6L1129 505.9L1131.7 511.6L1138.4 530.1L1141 535.3L1142.4 536.9L1143.7 537.7L1145 537.8L1146.4 537.3L1153 531.4L1154.4 530.7L1155.7 530.6L1157 531.1L1158.4 532.1L1161 535.9L1167.7 548.5L1169 550.1L1170.4 551L1171.7 551.1L1173.1 550.5L1175.7 547.3L1181.1 535.3L1183.7 531.3L1187.7 527.5L1194.4 514.2L1195.7 512.6L1197.1 512.2L1198.4 513.2L1201.1 517.6L1203.7 531.1L1205.1 540.5L1207.7 568.2L1209.1 576L1211.7 579L1214.4 580.6L1215.7 580.9L1218.4 580.4L1219.7 579.6L1222.4 577.1L1223.7 574.5L1225.1 567.9L1226.4 559.1L1231.8 507.4L1233.1 486.7L1234.4 472.3L1235.8 463.1L1237.1 458.9L1239.5 461.3"/>
<path transform="matrix(1.07909 0 0 1.07808 -2.73 -1.49)" clip-path="url(#bc)" vector-effect="non-scaling-stroke" d="M1239.5 680.9L37.7 680.9L37.7 431.2L72.4 430.3L117.7 431L157.8 433.3L184.5 436.2L213.8 440.8L253.8 449.3L341.9 470L375.2 478.5L389.9 481.7L413.9 485.9L429.9 488.1L447.3 489.2L468.6 489.9L478 489.7L490 488.1L500.6 487.4L590 486.1L595.4 485.7L600.7 484.2L606 484L707.4 483L719.4 481.9L764.8 476L802.2 472.9L808.8 471.8L815.5 470.1L828.8 465.9L835.5 463.4L855.5 454L872.9 444.1L884.9 439.2L890.2 437.6L894.2 436.7L907.6 435.4L916.9 435.7L924.9 437.1L930.2 438.4L944.9 444.9L959.6 449.7L964.9 451.8L979.6 460.7L986.3 463.6L990.3 464.8L998.3 464.4L1004.9 463.2L1007.6 461.8L1014.3 457.2L1022.3 452.8L1026.3 451L1029 450.6L1035.6 450.6L1039.6 451.6L1049 455.9L1059.6 462.4L1062.3 463.5L1065 463.8L1067.7 462.9L1070.3 460.7L1078.3 452.2L1085 443.3L1087.7 441.4L1089 441.3L1090.3 441.8L1093 444.7L1102.3 461.4L1113 485.1L1115.7 492.4L1118.4 498.5L1121 502.1L1122.4 502.9L1125 503.4L1126.4 504.2L1129 507.4L1131.7 513.1L1138.4 531.6L1141 536.9L1142.4 538.4L1143.7 539.3L1145 539.4L1146.4 538.9L1153 532.9L1154.4 532.3L1155.7 532.2L1157 532.6L1158.4 533.7L1161 537.4L1167.7 550.1L1169 551.7L1170.4 552.5L1171.7 552.7L1173.1 552.1L1175.7 548.8L1181.1 536.8L1183.7 532.8L1187.7 529L1194.4 515.7L1195.7 514.1L1197.1 513.7L1198.4 514.6L1201.1 519.1L1203.7 532.5L1205.1 541.9L1207.7 569.7L1209.1 577.5L1211.7 580.4L1214.4 582L1215.7 582.3L1218.4 581.8L1219.7 581.1L1222.4 578.5L1223.7 576L1225.1 569.3L1226.4 560.6L1231.8 508.9L1233.1 488.2L1234.4 473.8L1235.8 464.5L1237.1 460.4L1239.5 462.8"/>
<path transform="matrix(1.08129 0 0 1.08025 -2.80 -1.53)" clip-path="url(#bc)" vector-effect="non-scaling-stroke" d="M1239.5 680.9L37.7 680.9L37.7 432.8L72.4 431.9L117.7 432.5L157.8 434.9L184.5 437.8L213.8 442.4L253.8 450.9L341.9 471.6L375.2 480.1L389.9 483.4L413.9 487.6L429.9 489.7L447.3 490.9L468.6 491.6L478 491.4L490 489.8L500.6 489L590 487.7L595.4 487.3L600.7 485.8L606 485.6L707.4 484.6L719.4 483.5L764.8 477.6L802.2 474.5L808.8 473.4L815.5 471.8L828.8 467.5L835.5 465L855.5 455.6L872.9 445.7L884.9 440.8L890.2 439.2L894.2 438.3L907.6 437L916.9 437.3L924.9 438.7L930.2 440L944.9 446.6L959.6 451.3L964.9 453.4L979.6 462.3L986.3 465.3L990.3 466.4L998.3 466.1L1004.9 464.8L1007.6 463.4L1014.3 458.9L1022.3 454.4L1026.3 452.7L1029 452.2L1035.6 452.3L1039.6 453.2L1049 457.5L1059.6 464.1L1062.3 465.1L1065 465.5L1067.7 464.5L1070.3 462.3L1078.3 453.9L1085 444.9L1087.7 443L1089 442.9L1090.3 443.5L1093 446.4L1102.3 463L1113 486.7L1115.7 494L1118.4 500.1L1121 503.7L1122.4 504.6L1125 505L1126.4 505.8L1129 509.1L1131.7 514.8L1138.4 533.3L1141 538.5L1142.4 540.1L1143.7 540.9L1145 541L1146.4 540.5L1153 534.5L1154.4 533.9L1155.7 533.8L1157 534.3L1158.4 535.3L1161 539.1L1167.7 551.7L1169 553.3L1170.4 554.2L1171.7 554.3L1173.1 553.7L1175.7 550.5L1181.1 538.4L1183.7 534.5L1187.7 530.6L1194.4 517.2L1195.7 515.6L1197.1 515.2L1198.4 516.1L1201.1 520.6L1203.7 534L1205.1 543.4L1207.7 571.2L1209.1 579L1211.7 581.9L1214.4 583.5L1215.7 583.8L1218.4 583.4L1219.7 582.6L1222.4 580L1223.7 577.5L1225.1 570.8L1226.4 562.1L1231.8 510.4L1233.1 489.7L1234.4 475.3L1235.8 466.1L1237.1 461.9L1239.5 464.3"/>
<path transform="matrix(1.08349 0 0 1.08242 -2.88 -1.57)" clip-path="url(#bc)" vector-effect="non-scaling-stroke" d="M1239.5 680.9L37.7 680.9L37.7 434.4L72.4 433.5L117.7 434.2L157.8 436.5L184.5 439.5L213.8 444.1L253.8 452.6L340.5 473L376.6 482.2L389.9 485.1L413.9 489.3L429.9 491.5L447.3 492.6L468.6 493.4L478 493.1L490 491.5L500.6 490.8L590 489.4L595.4 489L600.7 487.5L606 487.3L707.4 486.3L719.4 485.2L764.8 479.3L802.2 476.2L808.8 475.1L815.5 473.4L828.8 469.2L835.5 466.7L855.5 457.3L872.9 447.4L884.9 442.5L890.2 440.8L894.2 440L907.6 438.7L916.9 439L924.9 440.4L930.2 441.7L944.9 448.2L959.6 453L964.9 455.1L979.6 464L986.3 466.9L990.3 468.1L998.3 467.7L1004.9 466.5L1007.6 465.1L1014.3 460.5L1022.3 456.1L1026.3 454.3L1029 453.9L1035.6 453.9L1039.6 454.9L1049 459.2L1059.6 465.7L1062.3 466.8L1065 467.1L1067.7 466.2L1070.3 464L1078.3 455.5L1085 446.5L1087.7 444.7L1089 444.6L1090.3 445.1L1093 448L1102.3 464.7L1113 488.4L1115.7 495.7L1118.4 501.8L1121 505.4L1122.4 506.2L1125 506.7L1126.4 507.5L1129 510.7L1131.7 516.4L1138.4 534.9L1141 540.2L1142.4 541.7L1143.7 542.6L1145 542.7L1146.4 542.2L1153 536.2L1154.4 535.6L1155.7 535.5L1157 535.9L1158.4 537L1161 540.7L1167.7 553.4L1169 555L1170.4 555.8L1171.7 556L1173.1 555.4L1175.7 552.1L1181.1 540.1L1183.7 536.1L1187.7 532.3L1194.4 518.8L1195.7 517.1L1197.1 516.8L1198.4 517.7L1201.1 522.2L1203.7 535.6L1205.1 545L1207.7 572.7L1209.1 580.6L1211.7 583.5L1214.4 585.1L1215.7 585.4L1218.4 584.9L1219.7 584.1L1222.4 581.6L1223.7 579L1225.1 572.4L1226.4 563.6L1231.8 512L1233.1 491.3L1234.4 476.9L1235.8 467.6L1237.1 463.4L1239.5 466"/>
<path transform="matrix(1.08568 0 0 1.08459 -2.96 -1.62)" clip-path="url(#bc)" vector-effect="non-scaling-stroke" d="M1239.5 680.9L37.7 680.9L37.7 436L72.4 435.2L117.7 435.9L157.8 438.2L184.5 441.2L213.8 445.8L253.8 454.3L340.5 474.7L376.6 483.9L389.9 486.9L413.9 491.1L429.9 493.3L447.3 494.4L468.6 495.2L478 494.9L490 493.3L500.6 492.5L590 491.2L595.4 490.8L600.7 489.3L606 489L707.4 488.1L719.4 486.9L764.8 481L802.2 477.9L808.8 476.8L815.5 475.2L828.8 470.9L835.5 468.4L855.5 459.1L872.9 449.1L884.9 444.3L890.2 442.6L894.2 441.7L907.6 440.5L916.9 440.7L924.9 442.1L930.2 443.4L944.9 450L959.6 454.7L964.9 456.8L979.6 465.7L986.3 468.7L990.3 469.8L998.3 469.5L1004.9 468.3L1007.6 466.8L1014.3 462.3L1022.3 457.8L1026.3 456.1L1029 455.6L1035.6 455.7L1039.6 456.6L1049 461L1059.6 467.5L1062.3 468.5L1065 468.9L1067.7 467.9L1070.3 465.7L1078.3 457.3L1085 448.3L1087.7 446.4L1089 446.3L1090.3 446.9L1093 449.8L1102.3 466.4L1113 490.1L1115.7 497.5L1118.4 503.5L1121 507.1L1122.4 508L1125 508.4L1126.4 509.2L1129 512.5L1131.7 518.2L1138.4 536.7L1141 541.9L1142.4 543.5L1143.7 544.3L1145 544.4L1146.4 543.9L1153 538L1154.4 537.3L1155.7 537.2L1157 537.7L1158.4 538.7L1161 542.5L1167.7 555.1L1169 556.7L1170.4 557.6L1171.7 557.7L1173.1 557.1L1175.7 553.9L1181.1 541.8L1183.7 537.9L1187.7 534L1194.4 520.4L1195.7 518.8L1197.1 518.4L1198.4 519.3L1201.1 523.8L1203.7 537.2L1205.1 546.6L1207.7 574.3L1209.1 582.2L1211.7 585.1L1214.4 586.7L1215.7 587L1218.4 586.5L1219.7 585.8L1222.4 583.2L1223.7 580.6L1225.1 574L1226.4 565.2L1231.8 513.6L1233.1 492.9L1234.4 478.5L1235.8 469.2L1237.1 465.1L1239.5 467.6"/>
<path transform="matrix(1.08788 0 0 1.08676 -3.03 -1.66)" clip-path="url(#bc)" vector-effect="non-scaling-stroke" d="M1239.5 680.9L37.7 680.9L37.7 437.8L72.4 436.9L117.7 437.6L157.8 440L184.5 443L213.8 447.6L253.8 456.1L340.5 476.5L376.6 485.7L389.9 488.7L413.9 492.9L429.9 495.1L448.6 496.4L470 497L478 496.8L490 495.1L500.6 494.4L590 493L595.4 492.6L600.7 491.1L606 490.8L707.4 489.8L719.4 488.7L764.8 482.8L802.2 479.7L808.8 478.6L815.5 477L828.8 472.7L835.5 470.2L855.5 460.8L872.9 450.9L884.9 446.1L890.2 444.4L894.2 443.5L907.6 442.2L916.9 442.5L924.9 443.9L930.2 445.2L944.9 451.8L959.6 456.5L964.9 458.6L979.6 467.5L986.3 470.5L990.3 471.6L998.3 471.3L1004.9 470.1L1007.6 468.6L1014.3 464.1L1022.3 459.6L1026.3 457.9L1029 457.4L1035.6 457.5L1039.6 458.4L1049 462.7L1059.6 469.3L1062.3 470.3L1065 470.7L1067.7 469.7L1070.3 467.5L1078.3 459.1L1085 450.1L1087.7 448.2L1089 448.1L1090.3 448.7L1093 451.6L1102.3 468.2L1113 491.9L1115.7 499.2L1118.4 505.3L1121 508.9L1122.4 509.8L1125 510.2L1126.4 511L1129 514.3L1131.7 520L1138.4 538.5L1141 543.7L1142.4 545.3L1143.7 546.1L1145 546.2L1146.4 545.7L1153 539.7L1154.4 539.1L1155.7 539L1157 539.5L1158.4 540.5L1161 544.3L1167.7 556.9L1169 558.5L1170.4 559.4L1171.7 559.5L1173.1 558.9L1175.7 555.7L1181.1 543.6L1183.7 539.7L1187.7 535.8L1194.4 522.1L1195.7 520.5L1197.1 520.1L1198.4 521L1201.1 525.4L1203.7 538.9L1205.1 548.3L1207.7 576L1209.1 583.8L1211.7 586.8L1214.4 588.4L1215.7 588.7L1218.4 588.2L1219.7 587.4L1222.4 584.9L1223.7 582.3L1225.1 575.7L1226.4 566.9L1231.8 515.2L1233.1 494.5L1234.4 480.1L1235.8 470.9L1237.1 466.7L1239.5 469.3"/>
<path transform="matrix(1.09008 0 0 1.08893 -3.11 -1.70)" clip-path="url(#bc)" vector-effect="non-scaling-stroke" d="M1239.5 680.9L37.7 680.9L37.7 439.5L72.4 438.7L117.7 439.5L157.8 441.8L184.5 444.8L215.1 449.6L255.2 458.2L341.9 478.7L376.6 487.6L389.9 490.6L413.9 494.9L429.9 497L448.6 498.3L470 499L478 498.7L490 497L500.6 496.2L590 494.9L595.4 494.5L600.7 492.9L606 492.7L707.4 491.7L719.4 490.6L764.8 484.7L802.2 481.6L808.8 480.5L815.5 478.8L828.8 474.6L835.5 472.1L855.5 462.7L872.9 452.8L884.9 447.9L890.2 446.2L894.2 445.4L907.6 444.1L916.9 444.4L924.9 445.8L930.2 447.1L944.9 453.6L959.6 458.4L964.9 460.5L979.6 469.4L986.3 472.3L990.3 473.4L998.3 473.1L1004.9 471.9L1007.6 470.5L1014.3 465.9L1022.3 461.4L1026.3 459.7L1029 459.3L1035.6 459.3L1039.6 460.3L1049 464.6L1059.6 471.1L1062.3 472.2L1065 472.5L1067.7 471.6L1070.3 469.4L1078.3 460.9L1085 451.9L1087.7 450L1089 449.9L1090.3 450.5L1093 453.4L1102.3 470.1L1113 493.8L1115.7 501.1L1118.4 507.2L1121 510.8L1122.4 511.6L1125 512L1126.4 512.8L1129 516.1L1131.7 521.8L1138.4 540.3L1141 545.6L1142.4 547.1L1143.7 547.9L1145 548.1L1146.4 547.6L1153 541.6L1154.4 541L1155.7 540.8L1157 541.3L1158.4 542.4L1161 546.1L1167.7 558.8L1169 560.3L1170.4 561.2L1171.7 561.4L1173.1 560.8L1175.7 557.5L1181.1 545.5L1183.7 541.5L1187.7 537.6L1194.4 523.9L1195.7 522.2L1197.1 521.8L1198.4 522.7L1201.1 527.2L1203.7 540.6L1205.1 550L1207.7 577.7L1209.1 585.6L1211.7 588.5L1214.4 590.1L1215.7 590.4L1218.4 589.9L1219.7 589.1L1222.4 586.6L1223.7 584L1225.1 577.4L1226.4 568.6L1231.8 517L1233.1 496.3L1234.4 481.9L1235.8 472.6L1237.1 468.5L1239.5 471.1"/>
<path transform="matrix(1.09227 0 0 1.09110 -3.18 -1.74)" clip-path="url(#bc)" vector-effect="non-scaling-stroke" d="M1239.5 680.9L37.7 680.9L37.7 441.4L72.4 440.6L117.7 441.3L157.8 443.7L184.5 446.7L215.1 451.5L255.2 460.1L341.9 480.6L376.6 489.6L389.9 492.5L413.9 496.8L429.9 499L448.6 500.3L470 501L478 500.7L490 499L500.6 498.2L590 496.9L595.4 496.4L600.7 494.9L606 494.6L707.4 493.6L719.4 492.5L764.8 486.6L802.2 483.5L808.8 482.4L815.5 480.7L828.8 476.5L835.5 474L855.5 464.6L872.9 454.7L884.9 449.8L890.2 448.1L894.2 447.3L907.6 446L916.9 446.3L924.9 447.7L930.2 449L944.9 455.5L959.6 460.3L964.9 462.4L979.6 471.3L986.3 474.2L990.3 475.4L998.3 475L1004.9 473.8L1007.6 472.4L1014.3 467.8L1022.3 463.4L1026.3 461.6L1029 461.2L1035.6 461.2L1039.6 462.2L1049 466.5L1059.6 473L1062.3 474.1L1065 474.4L1067.7 473.5L1070.3 471.3L1078.3 462.8L1085 453.8L1087.7 452L1089 451.8L1090.3 452.4L1093 455.3L1102.3 472L1113 495.7L1115.7 503L1118.4 509.1L1121 512.7L1122.4 513.5L1125 514L1126.4 514.8L1129 518L1131.7 523.7L1138.4 542.2L1141 547.5L1142.4 549L1143.7 549.9L1145 550L1146.4 549.5L1153 543.5L1154.4 542.9L1155.7 542.7L1157 543.2L1158.4 544.3L1161 548L1167.7 560.7L1169 562.3L1170.4 563.1L1171.7 563.3L1173.1 562.7L1175.7 559.4L1179.7 550.2L1182.4 545.1L1183.7 543.4L1187.7 539.5L1194.4 525.7L1195.7 524L1197.1 523.6L1198.4 524.5L1201.1 528.9L1203.7 542.4L1205.1 551.8L1207.7 579.5L1209.1 587.4L1211.7 590.3L1214.4 591.9L1215.7 592.2L1218.4 591.7L1219.7 590.9L1222.4 588.4L1223.7 585.8L1225.1 579.2L1226.4 570.4L1231.8 518.7L1233.1 498.1L1234.4 483.6L1235.8 474.4L1237.1 470.2L1239.5 473"/>
<path transform="matrix(1.09447 0 0 1.09327 -3.26 -1.78)" clip-path="url(#bc)" vector-effect="non-scaling-stroke" d="M1239.5 680.9L37.7 680.9L37.7 443.2L72.4 442.5L117.7 443.3L157.8 445.7L184.5 448.7L215.1 453.5L255.2 462.1L340.5 482.3L376.6 491.6L389.9 494.5L413.9 498.8L429.9 501.1L448.6 502.3L470 503L478 502.8L490 501L500.6 500.2L590 498.9L595.4 498.4L600.7 496.9L606 496.6L707.4 495.6L719.4 494.5L764.8 488.6L802.2 485.5L808.8 484.4L815.5 482.7L828.8 478.4L835.5 476L855.5 466.6L872.9 456.7L884.9 451.8L890.2 450.1L894.2 449.3L907.6 448L916.9 448.3L924.9 449.7L930.2 451L944.9 457.5L959.6 462.3L964.9 464.4L979.6 473.3L986.3 476.2L990.3 477.3L998.3 477L1004.9 475.8L1007.6 474.4L1014.3 469.8L1022.3 465.3L1026.3 463.6L1029 463.2L1035.6 463.2L1039.6 464.2L1049 468.5L1059.6 475L1062.3 476.1L1065 476.4L1067.7 475.5L1070.3 473.3L1078.3 464.8L1085 455.8L1087.7 453.9L1089 453.8L1090.3 454.4L1093 457.3L1102.3 474L1113 497.7L1115.7 505L1118.4 511.1L1121 514.7L1122.4 515.5L1125 515.9L1126.4 516.7L1129 520L1131.7 525.7L1138.4 544.2L1141 549.5L1142.4 551L1143.7 551.8L1145 552L1146.4 551.5L1153 545.5L1154.4 544.8L1155.7 544.7L1157 545.2L1158.4 546.3L1161 550L1167.7 562.7L1169 564.2L1170.4 565.1L1171.7 565.3L1173.1 564.7L1175.7 561.4L1179.7 552.2L1182.4 547.1L1187.7 541.5L1194.4 527.5L1195.7 525.8L1197.1 525.4L1198.4 526.3L1201.1 530.8L1203.7 544.2L1205.1 553.6L1207.7 581.4L1209.1 589.2L1211.7 592.1L1214.4 593.7L1215.7 594L1218.4 593.5L1219.7 592.8L1222.4 590.2L1223.7 587.7L1225.1 581L1226.4 572.3L1231.8 520.6L1233.1 499.9L1234.4 485.5L1235.8 476.2L1237.1 472.1L1239.5 474.9"/>
<path transform="matrix(1.09667 0 0 1.09544 -3.34 -1.82)" clip-path="url(#bc)" vector-effect="non-scaling-stroke" d="M1239.5 680.9L37.7 680.9L37.7 445.2L72.4 444.4L117.7 445.3L157.8 447.7L184.5 450.7L215.1 455.5L255.2 464.1L340.5 484.3L376.6 493.6L389.9 496.6L413.9 500.9L429.9 503.2L448.6 504.5L470 505.2L478 504.9L490 503.1L500.6 502.3L590 501L595.4 500.5L600.7 498.9L606 498.6L707.4 497.6L719.4 496.5L764.8 490.6L802.2 487.5L808.8 486.4L815.5 484.8L828.8 480.5L835.5 478L855.5 468.6L872.9 458.7L884.9 453.8L890.2 452.2L894.2 451.3L907.6 450L916.9 450.3L924.9 451.7L930.2 453L944.9 459.5L959.6 464.3L964.9 466.4L979.6 475.3L986.3 478.3L990.3 479.4L998.3 479.1L1004.9 477.8L1007.6 476.4L1014.3 471.9L1022.3 467.4L1026.3 465.6L1029 465.2L1035.6 465.2L1039.6 466.2L1049 470.5L1059.6 477.1L1062.3 478.1L1065 478.4L1067.7 477.5L1070.3 475.3L1078.3 466.8L1085 457.9L1087.7 456L1089 455.9L1090.3 456.5L1093 459.4L1102.3 476L1113 499.7L1115.7 507L1118.4 513.1L1121 516.7L1122.4 517.6L1125 518L1126.4 518.8L1129 522.1L1131.7 527.8L1138.4 546.2L1141 551.5L1142.4 553.1L1143.7 553.9L1145 554L1146.4 553.5L1153 547.5L1154.4 546.9L1155.7 546.8L1157 547.2L1158.4 548.3L1161 552.1L1167.7 564.7L1169 566.3L1170.4 567.2L1171.7 567.3L1173.1 566.7L1175.7 563.5L1179.7 554.2L1182.4 549.2L1187.7 543.5L1194.4 529.5L1195.7 527.8L1197.1 527.4L1198.4 528.3L1201.1 532.7L1203.7 546.1L1205.1 555.5L1207.7 583.3L1209.1 591.1L1211.7 594L1214.4 595.6L1215.7 595.9L1218.4 595.4L1219.7 594.7L1222.4 592.1L1223.7 589.6L1225.1 582.9L1226.4 574.2L1231.8 522.5L1233.1 501.8L1234.4 487.4L1235.8 478.1L1237.1 474L1239.5 476.8"/>
<path transform="matrix(1.09886 0 0 1.09760 -3.41 -1.86)" clip-path="url(#bc)" vector-effect="non-scaling-stroke" d="M1239.5 680.9L37.7 680.9L37.7 447.2L72.4 446.5L117.7 447.3L157.8 449.7L184.5 452.8L215.1 457.6L255.2 466.2L337.9 485.8L376.6 495.8L391.2 499L413.9 503.1L429.9 505.3L448.6 506.6L470 507.4L478 507.1L490 505.2L500.6 504.4L590 503.1L595.4 502.6L600.7 501L606 500.7L707.4 499.7L719.4 498.6L764.8 492.7L802.2 489.6L808.8 488.5L815.5 486.9L828.8 482.6L835.5 480.1L855.5 470.7L872.9 460.8L884.9 456L890.2 454.3L894.2 453.4L907.6 452.1L916.9 452.4L924.9 453.8L930.2 455.1L944.9 461.7L959.6 466.4L964.9 468.5L979.6 477.4L986.3 480.4L990.3 481.5L998.3 481.2L1004.9 480L1007.6 478.5L1014.3 474L1022.3 469.5L1026.3 467.8L1029 467.3L1035.6 467.4L1039.6 468.3L1049 472.6L1059.6 479.2L1062.3 480.2L1065 480.6L1067.7 479.6L1070.3 477.4L1078.3 469L1085 460L1087.7 458.1L1089 458L1090.3 458.6L1093 461.5L1102.3 478.1L1113 501.8L1115.7 509.1L1118.4 515.2L1121 518.8L1122.4 519.7L1125 520.1L1126.4 520.9L1129 524.2L1131.7 529.9L1138.4 548.4L1141 553.6L1142.4 555.2L1143.7 556L1145 556.1L1146.4 555.6L1153 549.6L1154.4 549L1155.7 548.9L1157 549.4L1158.4 550.4L1161 554.2L1167.7 566.8L1169 568.4L1170.4 569.3L1171.7 569.4L1173.1 568.8L1175.7 565.6L1179.7 556.3L1182.4 551.3L1187.7 545.6L1194.4 531.5L1195.7 529.7L1197.1 529.3L1198.4 530.2L1201.1 534.6L1203.7 548.1L1205.1 557.5L1207.7 585.2L1209.1 593.1L1211.7 596L1214.4 597.6L1215.7 597.9L1218.4 597.4L1219.7 596.6L1222.4 594.1L1223.7 591.5L1225.1 584.9L1226.4 576.1L1231.8 524.4L1233.1 503.8L1234.4 489.3L1235.8 480.1L1237.1 475.9L1239.5 478.9"/>
<path transform="matrix(1.10106 0 0 1.09977 -3.49 -1.91)" clip-path="url(#bc)" vector-effect="non-scaling-stroke" d="M1239.5 680.9L37.7 680.9L37.7 449.3L72.4 448.6L117.7 449.5L157.8 451.9L184.5 454.9L215.1 459.8L255.2 468.4L337.9 488L376.6 498L391.2 501.2L413.9 505.3L429.9 507.6L448.6 508.9L470 509.6L478 509.4L490 507.4L500.6 506.7L590 505.3L595.4 504.9L600.7 503.2L606 502.9L707.4 501.9L719.4 500.8L764.8 494.9L802.2 491.8L808.8 490.7L815.5 489L828.8 484.8L835.5 482.3L855.5 472.9L872.9 463L884.9 458.1L890.2 456.5L894.2 455.6L907.6 454.3L916.9 454.6L924.9 456L930.2 457.3L944.9 463.8L959.6 468.6L964.9 470.7L979.6 479.6L986.3 482.5L990.3 483.7L998.3 483.4L1004.9 482.1L1007.6 480.7L1014.3 476.1L1022.3 471.7L1026.3 469.9L1029 469.5L1035.6 469.5L1039.6 470.5L1049 474.8L1059.6 481.3L1062.3 482.4L1065 482.7L1067.7 481.8L1070.3 479.6L1078.3 471.1L1085 462.2L1087.7 460.3L1089 460.2L1090.3 460.7L1093 463.6L1102.3 480.3L1113 504L1115.7 511.3L1118.4 517.4L1121 521L1122.4 521.8L1125 522.3L1126.4 523.1L1129 526.3L1131.7 532L1138.4 550.5L1141 555.8L1142.4 557.4L1143.7 558.2L1145 558.3L1146.4 557.8L1153 551.8L1154.4 551.2L1155.7 551.1L1157 551.5L1158.4 552.6L1161 556.3L1167.7 569L1169 570.6L1170.4 571.4L1171.7 571.6L1173.1 571L1175.7 567.7L1179.7 558.5L1182.4 553.5L1187.7 547.8L1194.4 533.5L1195.7 531.8L1197.1 531.4L1198.4 532.2L1201.1 536.7L1203.7 550.1L1205.1 559.5L1207.7 587.2L1209.1 595.1L1211.7 598L1214.4 599.6L1215.7 599.9L1218.4 599.4L1219.7 598.7L1222.4 596.1L1223.7 593.6L1225.1 586.9L1226.4 578.1L1231.8 526.5L1233.1 505.8L1234.4 491.4L1235.8 482.1L1237.1 478L1239.5 481"/>
<path transform="matrix(1.10326 0 0 1.10194 -3.56 -1.95)" clip-path="url(#bc)" vector-effect="non-scaling-stroke" d="M1239.5 680.9L37.7 680.9L37.7 451.4L72.4 450.7L119.1 451.7L159.1 454.2L185.8 457.3L215.1 462L255.2 470.6L337.9 490.2L376.6 500.2L391.2 503.5L413.9 507.7L429.9 509.9L448.6 511.2L470 512L478 511.7L490 509.7L500.6 509L590 507.6L595.4 507.1L600.7 505.5L606 505.1L707.4 504.2L719.4 503.1L764.8 497.2L802.2 494.1L808.8 493L815.5 491.3L828.8 487L835.5 484.5L855.5 475.2L872.9 465.2L884.9 460.4L890.2 458.7L894.2 457.9L907.6 456.6L916.9 456.8L924.9 458.2L930.2 459.6L944.9 466.1L959.6 470.9L964.9 472.9L979.6 481.8L986.3 484.8L990.3 485.9L998.3 485.6L1004.9 484.4L1007.6 483L1014.3 478.4L1022.3 473.9L1026.3 472.2L1029 471.7L1035.6 471.8L1039.6 472.8L1049 477.1L1059.6 483.6L1062.3 484.6L1065 485L1067.7 484L1070.3 481.9L1078.3 473.4L1085 464.4L1087.7 462.5L1089 462.4L1090.3 463L1093 465.9L1102.3 482.6L1113 506.2L1115.7 513.6L1118.4 519.7L1121 523.3L1122.4 524.1L1125 524.5L1126.4 525.3L1129 528.6L1131.7 534.3L1138.4 552.8L1141 558L1142.4 559.6L1143.7 560.4L1145 560.5L1146.4 560.1L1153 554.1L1154.4 553.4L1155.7 553.3L1157 553.8L1158.4 554.9L1161 558.6L1167.7 571.2L1169 572.8L1170.4 573.7L1171.7 573.8L1173.1 573.2L1175.7 570L1179.7 560.8L1182.4 555.7L1187.7 550L1194.4 535.6L1195.7 533.9L1197.1 533.5L1198.4 534.3L1201.1 538.8L1203.7 552.2L1205.1 561.6L1207.7 589.3L1209.1 597.2L1211.7 600.1L1214.4 601.7L1215.7 602L1218.4 601.5L1219.7 600.7L1222.4 598.2L1223.7 595.6L1225.1 589L1226.4 580.2L1231.8 528.6L1233.1 507.9L1234.4 493.5L1235.8 484.2L1237.1 480.1L1239.5 483.1"/>
<path transform="matrix(1.10546 0 0 1.10411 -3.64 -1.99)" clip-path="url(#bc)" vector-effect="non-scaling-stroke" d="M1239.5 680.9L37.7 680.9L37.7 453.6L72.4 453L119.1 454L159.1 456.5L185.8 459.6L215.1 464.3L255.2 472.9L337.9 492.6L376.6 502.6L391.2 505.9L413.9 510L429.9 512.3L448.6 513.7L470 514.4L478 514.1L490 512.1L500.6 511.3L590 510L595.4 509.5L600.7 507.8L606 507.5L707.4 506.5L719.4 505.4L764.8 499.5L802.2 496.4L808.8 495.3L815.5 493.6L828.8 489.3L835.5 486.9L855.5 477.5L872.9 467.6L884.9 462.7L890.2 461L894.2 460.2L907.6 458.9L916.9 459.2L924.9 460.6L930.2 461.9L944.9 468.4L959.6 473.2L964.9 475.3L979.6 484.2L986.3 487.1L990.3 488.2L998.3 487.9L1004.9 486.7L1007.6 485.3L1014.3 480.7L1022.3 476.2L1026.3 474.5L1029 474.1L1035.6 474.1L1039.6 475.1L1049 479.4L1059.6 485.9L1062.3 487L1065 487.3L1067.7 486.4L1070.3 484.2L1078.3 475.7L1085 466.7L1087.7 464.8L1089 464.7L1090.3 465.3L1093 468.2L1102.3 484.9L1113 508.6L1115.7 515.9L1118.4 522L1121 525.6L1122.4 526.4L1125 526.8L1126.4 527.6L1129 530.9L1131.7 536.6L1138.4 555.1L1141 560.3L1142.4 561.9L1143.7 562.7L1145 562.9L1146.4 562.4L1153 556.4L1154.4 555.7L1155.7 555.6L1157 556.1L1158.4 557.2L1161 560.9L1167.7 573.6L1169 575.1L1170.4 576L1171.7 576.2L1173.1 575.6L1175.7 572.3L1179.7 563.1L1182.4 558L1187.7 552.3L1194.4 537.8L1195.7 536.1L1197.1 535.6L1198.4 536.5L1201.1 540.9L1203.7 554.4L1205.1 563.8L1207.7 591.5L1209.1 599.3L1211.7 602.2L1214.4 603.8L1215.7 604.1L1218.4 603.7L1219.7 602.9L1222.4 600.3L1223.7 597.8L1225.1 591.1L1226.4 582.4L1231.8 530.7L1233.1 510L1234.4 495.6L1235.8 486.4L1237.1 482.2L1239.5 485.4"/>
<path transform="matrix(1.10765 0 0 1.10628 -3.71 -2.03)" clip-path="url(#bc)" vector-effect="non-scaling-stroke" d="M1239.5 680.9L37.7 680.9L37.7 455.9L72.4 455.3L119.1 456.3L159.1 458.8L185.8 462L215.1 466.7L256.5 475.6L339.2 495.3L376.6 505L391.2 508.3L413.9 512.5L429.9 514.8L448.6 516.1L470 516.9L478 516.6L490 514.6L500.6 513.8L590 512.4L595.4 511.9L600.7 510.2L606 509.9L707.4 508.9L719.4 507.8L764.8 501.9L802.2 498.8L808.8 497.7L815.5 496L828.8 491.7L835.5 489.2L855.5 479.9L872.9 470L884.9 465.1L890.2 463.4L894.2 462.6L907.6 461.3L916.9 461.6L924.9 462.9L930.2 464.3L944.9 470.8L959.6 475.6L964.9 477.6L979.6 486.5L986.3 489.5L990.3 490.6L998.3 490.3L1004.9 489.1L1007.6 487.7L1014.3 483.1L1022.3 478.6L1026.3 476.9L1029 476.5L1035.6 476.5L1039.6 477.5L1049 481.8L1059.6 488.3L1062.3 489.4L1065 489.7L1067.7 488.7L1070.3 486.6L1078.3 478.1L1085 469.1L1087.7 467.2L1089 467.1L1090.3 467.7L1093 470.6L1102.3 487.3L1113 511L1115.7 518.3L1118.4 524.4L1121 528L1122.4 528.8L1125 529.2L1126.4 530L1129 533.3L1131.7 539L1138.4 557.5L1141 562.7L1142.4 564.3L1143.7 565.1L1145 565.3L1146.4 564.8L1153 558.8L1154.4 558.1L1155.7 558L1157 558.5L1158.4 559.6L1161 563.3L1167.7 576L1169 577.5L1170.4 578.4L1171.7 578.6L1173.1 578L1175.7 574.7L1179.7 565.5L1182.4 560.4L1187.7 554.7L1194.4 540.1L1195.7 538.3L1197.1 537.9L1198.4 538.7L1201.1 543.2L1203.7 556.6L1205.1 566L1207.7 593.7L1209.1 601.6L1211.7 604.5L1214.4 606.1L1215.7 606.4L1218.4 605.9L1219.7 605.1L1222.4 602.6L1223.7 600L1225.1 593.4L1226.4 584.6L1231.8 532.9L1233.1 512.3L1234.4 497.8L1235.8 488.6L1237.1 484.4L1239.5 487.7"/>
<path transform="matrix(1.10985 0 0 1.10845 -3.79 -2.07)" clip-path="url(#bc)" vector-effect="non-scaling-stroke" d="M1239.5 680.9L37.7 680.9L37.7 458.2L72.4 457.7L119.1 458.7L159.1 461.3L185.8 464.4L215.1 469.1L256.5 478.1L339.2 497.8L376.6 507.5L391.2 510.8L413.9 515L429.9 517.3L448.6 518.7L470 519.5L478 519.2L490 517.1L500.6 516.3L590 514.9L595.4 514.4L600.7 512.7L606 512.3L707.4 511.4L719.4 510.2L764.8 504.4L802.2 501.3L808.8 500.1L815.5 498.5L828.8 494.2L835.5 491.7L855.5 482.4L872.9 472.4L884.9 467.6L890.2 465.9L894.2 465L907.6 463.8L916.9 464L924.9 465.4L930.2 466.7L944.9 473.3L959.6 478L964.9 480.1L979.6 489L986.3 492L990.3 493.1L998.3 492.8L1004.9 491.6L1007.6 490.2L1014.3 485.6L1022.3 481.1L1026.3 479.4L1029 478.9L1035.6 479L1039.6 480L1049 484.3L1059.6 490.8L1062.3 491.8L1065 492.2L1067.7 491.2L1070.3 489.1L1078.3 480.6L1085 471.6L1087.7 469.7L1089 469.6L1090.3 470.2L1093 473.1L1102.3 489.7L1113 513.4L1115.7 520.8L1118.4 526.9L1121 530.5L1122.4 531.3L1125 531.7L1126.4 532.5L1129 535.8L1131.7 541.5L1138.4 560L1141 565.2L1142.4 566.8L1143.7 567.6L1145 567.7L1146.4 567.3L1153 561.3L1154.4 560.6L1155.7 560.5L1157 561L1158.4 562L1161 565.8L1167.7 578.4L1169 580L1170.4 580.9L1171.7 581L1173.1 580.4L1175.7 577.2L1179.7 567.9L1182.4 562.9L1187.7 557.1L1194.4 542.4L1195.7 540.6L1197.1 540.2L1198.4 541L1201.1 545.5L1203.7 558.9L1205.1 568.3L1207.7 596L1209.1 603.9L1211.7 606.8L1214.4 608.4L1215.7 608.7L1218.4 608.2L1219.7 607.4L1222.4 604.9L1223.7 602.3L1225.1 595.7L1226.4 586.9L1231.8 535.2L1233.1 514.6L1234.4 500.1L1235.8 490.9L1237.1 486.7L1239.5 490"/>
<path transform="matrix(1.11205 0 0 1.11062 -3.87 -2.11)" clip-path="url(#bc)" vector-effect="non-scaling-stroke" d="M1239.5 680.9L37.7 680.9L37.7 460.6L72.4 460.1L119.1 461.2L159.1 463.8L185.8 466.9L215.1 471.6L256.5 480.6L339.2 500.3L376.6 510.1L391.2 513.4L413.9 517.6L429.9 520L448.6 521.3L470 522.1L478 521.9L488.6 519.9L499.3 518.9L590 517.5L595.4 517L600.7 515.3L606 514.9L707.4 513.9L719.4 512.8L764.8 506.9L802.2 503.8L808.8 502.7L815.5 501L828.8 496.8L835.5 494.3L855.5 484.9L872.9 475L884.9 470.1L890.2 468.4L894.2 467.6L907.6 466.3L916.9 466.6L924.9 468L930.2 469.3L944.9 475.8L959.6 480.6L964.9 482.7L979.6 491.6L986.3 494.5L990.3 495.6L998.3 495.3L1004.9 494.1L1007.6 492.7L1014.3 488.1L1022.3 483.6L1026.3 481.9L1029 481.5L1035.6 481.5L1039.6 482.5L1049 486.8L1059.6 493.3L1062.3 494.4L1065 494.7L1067.7 493.8L1070.3 491.6L1078.3 483.1L1085 474.1L1087.7 472.2L1089 472.1L1090.3 472.7L1093 475.6L1102.3 492.3L1113 516L1115.7 523.3L1118.4 529.4L1121 533L1122.4 533.8L1125 534.2L1126.4 535L1129 538.3L1131.7 544L1138.4 562.5L1141 567.8L1142.4 569.3L1143.7 570.1L1145 570.3L1146.4 569.8L1153 563.8L1154.4 563.2L1155.7 563L1157 563.5L1158.4 564.6L1161 568.3L1167.7 581L1169 582.5L1170.4 583.4L1171.7 583.6L1173.1 583L1175.7 579.7L1179.7 570.5L1182.4 565.4L1187.7 559.6L1194.4 544.8L1195.7 543L1197.1 542.6L1198.4 543.4L1201.1 547.8L1203.7 561.3L1205.1 570.6L1207.7 598.4L1209.1 606.2L1211.7 609.1L1214.4 610.7L1215.7 611L1218.4 610.6L1219.7 609.8L1222.4 607.2L1223.7 604.7L1225.1 598L1226.4 589.3L1231.8 537.6L1233.1 516.9L1234.4 502.5L1235.8 493.3L1237.1 489.1L1239.5 492.5"/>
<path transform="matrix(1.11424 0 0 1.11279 -3.94 -2.15)" clip-path="url(#bc)" vector-effect="non-scaling-stroke" d="M1239.5 680.9L37.7 680.9L37.7 463.1L72.4 462.6L119.1 463.8L159.1 466.4L185.8 469.5L215.1 474.2L256.5 483.2L339.2 503L376.6 512.8L391.2 516.1L413.9 520.3L429.9 522.7L449.9 524.2L470 524.9L478 524.6L488.6 522.6L499.3 521.6L590 520.2L595.4 519.7L600.7 517.9L606 517.5L707.4 516.5L719.4 515.4L764.8 509.5L802.2 506.4L808.8 505.3L815.5 503.7L828.8 499.4L835.5 496.9L855.5 487.5L872.9 477.6L884.9 472.7L890.2 471.1L894.2 470.2L907.6 468.9L916.9 469.2L924.9 470.6L930.2 471.9L944.9 478.4L959.6 483.2L964.9 485.3L979.6 494.2L986.3 497.2L990.3 498.3L998.3 498L1004.9 496.7L1007.6 495.3L1014.3 490.8L1022.3 486.3L1026.3 484.5L1029 484.1L1035.6 484.1L1039.6 485.1L1049 489.4L1059.6 496L1062.3 497L1065 497.3L1067.7 496.4L1070.3 494.2L1078.3 485.7L1085 476.8L1087.7 474.9L1089 474.8L1090.3 475.4L1093 478.3L1102.3 494.9L1113 518.6L1115.7 525.9L1118.4 532L1121 535.6L1122.4 536.5L1125 536.9L1126.4 537.7L1129 541L1131.7 546.7L1138.4 565.1L1141 570.4L1142.4 572L1143.7 572.8L1145 572.9L1146.4 572.4L1153 566.4L1154.4 565.8L1155.7 565.7L1157 566.1L1158.4 567.2L1161 571L1167.7 583.6L1169 585.2L1170.4 586.1L1171.7 586.2L1173.1 585.6L1175.7 582.4L1179.7 573.1L1182.4 568.1L1187.7 562.2L1194.4 547.3L1195.7 545.5L1197.1 545L1198.4 545.9L1201.1 550.3L1203.7 563.7L1205.1 573.1L1207.7 600.8L1209.1 608.7L1211.7 611.6L1214.4 613.2L1215.7 613.5L1218.4 613L1219.7 612.2L1222.4 609.7L1223.7 607.1L1225.1 600.5L1226.4 591.7L1231.8 540.1L1233.1 519.4L1234.4 505L1235.8 495.7L1237.1 491.6L1239.5 495"/>
<path transform="matrix(1.11644 0 0 1.11496 -4.02 -2.20)" clip-path="url(#bc)" vector-effect="non-scaling-stroke" d="M1239.5 680.9L37.7 680.9L37.7 465.7L72.4 465.2L119.1 466.4L159.1 469L185.8 472.2L215.1 476.9L256.5 485.9L339.2 505.7L376.6 515.5L391.2 518.9L413.9 523.1L429.9 525.5L449.9 527L470 527.7L478 527.4L488.6 525.3L499.3 524.4L590 523L595.4 522.4L600.7 520.6L606 520.2L707.4 519.2L719.4 518.1L764.8 512.2L802.2 509.1L808.8 508L815.5 506.4L828.8 502.1L835.5 499.6L855.5 490.3L872.9 480.3L884.9 475.5L890.2 473.8L894.2 472.9L907.6 471.7L916.9 471.9L924.9 473.3L930.2 474.6L944.9 481.2L959.6 485.9L964.9 488L979.6 496.9L986.3 499.9L990.3 501L998.3 500.7L1004.9 499.5L1007.6 498L1014.3 493.5L1022.3 489L1026.3 487.3L1029 486.8L1035.6 486.9L1039.6 487.8L1049 492.1L1059.6 498.7L1062.3 499.7L1065 500.1L1067.7 499.1L1070.3 496.9L1078.3 488.5L1085 479.5L1087.7 477.6L1089 477.5L1090.3 478.1L1093 481L1102.3 497.6L1113 521.3L1115.7 528.7L1118.4 534.7L1121 538.3L1122.4 539.2L1125 539.6L1126.4 540.4L1129 543.7L1131.7 549.4L1138.4 567.9L1141 573.1L1142.4 574.7L1143.7 575.5L1145 575.6L1146.4 575.1L1153 569.2L1154.4 568.5L1155.7 568.4L1157 568.9L1158.4 569.9L1161 573.7L1167.7 586.3L1169 587.9L1170.4 588.8L1171.7 588.9L1173.1 588.3L1175.7 585.1L1179.7 575.8L1182.4 570.8L1187.7 564.9L1194.4 549.9L1195.7 548L1197.1 547.6L1198.4 548.4L1201.1 552.8L1203.7 566.2L1205.1 575.6L1207.7 603.4L1209.1 611.2L1211.7 614.1L1214.4 615.7L1215.7 616L1218.4 615.5L1219.7 614.8L1222.4 612.2L1223.7 609.7L1225.1 603L1226.4 594.3L1231.8 542.6L1233.1 521.9L1234.4 507.5L1235.8 498.2L1237.1 494.1L1239.5 497.6"/>
<path transform="matrix(1.11864 0 0 1.11713 -4.09 -2.24)" clip-path="url(#bc)" vector-effect="non-scaling-stroke" d="M1239.5 680.9L37.7 680.9L37.7 468.3L72.4 467.9L119.1 469.1L159.1 471.8L185.8 474.9L215.1 479.7L256.5 488.7L339.2 508.5L376.6 518.3L391.2 521.7L413.9 526L429.9 528.4L449.9 529.9L470 530.6L478 530.3L488.6 528.2L499.3 527.2L590 525.8L595.4 525.3L600.7 523.5L606 523L707.4 522L719.4 520.9L764.8 515L803.5 511.8L810.2 510.6L816.8 508.8L835.5 502.4L855.5 493.1L872.9 483.1L883.5 478.7L892.9 476L903.6 474.7L910.2 474.4L915.6 474.6L922.2 475.6L930.2 477.4L944.9 484L959.6 488.7L964.9 490.8L979.6 499.7L987.6 503.2L991.6 503.9L999.6 503.3L1004.9 502.3L1007.6 500.9L1014.3 496.3L1022.3 491.8L1026.3 490.1L1029 489.6L1035.6 489.7L1039.6 490.7L1049 495L1059.6 501.5L1063.7 502.8L1066.3 502.6L1067.7 501.9L1070.3 499.7L1077 492.8L1085 482.3L1087.7 480.4L1089 480.3L1090.3 480.9L1093 483.8L1102.3 500.4L1113 524.1L1115.7 531.5L1118.4 537.6L1121 541.1L1122.4 542L1125 542.4L1126.4 543.2L1129 546.5L1131.7 552.2L1138.4 570.7L1141 575.9L1142.4 577.5L1143.7 578.3L1145 578.4L1146.4 577.9L1153 572L1154.4 571.3L1155.7 571.2L1157 571.7L1158.4 572.7L1161 576.5L1167.7 589.1L1169 590.7L1170.4 591.6L1171.7 591.7L1173.1 591.1L1175.7 587.9L1179.7 578.6L1182.4 573.6L1187.7 567.7L1194.4 552.5L1195.7 550.7L1197.1 550.2L1198.4 551L1201.1 555.4L1203.7 568.9L1205.1 578.2L1207.7 606L1209.1 613.8L1211.7 616.7L1214.4 618.3L1215.7 618.6L1218.4 618.1L1219.7 617.4L1222.4 614.8L1223.7 612.3L1225.1 605.6L1226.4 596.9L1231.8 545.2L1233.1 524.5L1234.4 510.1L1235.8 500.8L1237.1 496.7L1239.5 500.3"/>
<path transform="matrix(1.12084 0 0 1.11930 -4.17 -2.28)" clip-path="url(#bc)" vector-effect="non-scaling-stroke" d="M1239.4 680.9L37.7 680.9L37.7 471L72.4 470.7L120.4 472L160.4 474.7L187.1 478L216.5 482.8L257.8 491.8L339.2 511.4L376.6 521.3L391.2 524.6L413.9 529L429.9 531.4L449.9 532.9L470 533.6L478 533.4L488.6 531.1L499.3 530.2L590 528.8L595.4 528.2L600.7 526.4L606 525.9L707.4 524.9L719.4 523.8L764.8 517.9L803.5 514.7L810.2 513.4L816.8 511.7L835.5 505.3L855.5 495.9L872.9 486L883.5 481.6L892.9 478.9L903.6 477.6L910.2 477.3L915.6 477.5L922.2 478.5L930.2 480.3L944.9 486.9L959.6 491.6L964.9 493.7L979.6 502.6L987.6 506.1L991.6 506.8L999.6 506.2L1004.9 505.2L1007.6 503.7L1014.3 499.2L1022.3 494.7L1026.3 493L1029 492.5L1035.6 492.6L1039.6 493.5L1049 497.8L1059.6 504.4L1063.7 505.7L1066.3 505.5L1067.7 504.8L1070.3 502.6L1077 495.7L1085 485.2L1087.7 483.3L1089 483.2L1090.3 483.8L1093 486.7L1102.3 503.3L1113 527L1115.7 534.3L1118.4 540.4L1121 544L1122.4 544.9L1125 545.3L1126.4 546.1L1129 549.4L1131.7 555.1L1138.4 573.6L1141 578.8L1142.4 580.4L1143.7 581.2L1145 581.3L1146.4 580.8L1153 574.8L1154.4 574.2L1155.7 574.1L1157 574.6L1158.4 575.6L1161 579.4L1167.7 592L1169 593.6L1170.4 594.5L1171.7 594.6L1173.1 594L1175.7 590.8L1179.7 581.5L1182.4 576.5L1187.7 570.6L1194.4 555.3L1195.7 553.4L1197.1 552.9L1198.4 553.7L1201.1 558.1L1203.7 571.5L1205.1 580.9L1207.7 608.7L1209.1 616.5L1211.7 619.4L1214.4 621L1215.7 621.3L1218.4 620.8L1219.7 620.1L1222.4 617.5L1223.7 615L1225.1 608.3L1226.4 599.6L1231.8 547.9L1233.1 527.2L1234.4 512.8L1235.8 503.5L1237.1 499.4L1239.4 503.1"/>
<path transform="matrix(1.12303 0 0 1.12146 -4.24 -2.32)" clip-path="url(#bc)" vector-effect="non-scaling-stroke" d="M1239.4 680.9L37.7 680.9L37.7 473.8L72.4 473.5L120.4 474.9L160.4 477.6L187.1 480.9L216.5 485.8L257.8 494.8L339.2 514.4L377.9 524.6L391.2 527.7L413.9 532L429.9 534.4L449.9 536L470 536.8L478 536.5L488.6 534.2L499.3 533.2L590 531.8L595.4 531.3L600.7 529.4L606 528.9L707.4 527.9L719.4 526.8L764.8 520.9L803.5 517.7L810.2 516.4L816.8 514.7L835.5 508.3L855.5 498.9L872.9 489L883.5 484.6L892.9 481.8L903.6 480.6L910.2 480.2L915.6 480.5L922.2 481.5L930.2 483.3L944.9 489.8L959.6 494.6L964.9 496.7L979.6 505.6L987.6 509L991.6 509.8L999.6 509.2L1004.9 508.1L1007.6 506.7L1014.3 502.1L1022.3 497.7L1026.3 495.9L1029 495.5L1035.6 495.5L1039.6 496.5L1049 500.8L1059.6 507.4L1063.7 508.7L1066.3 508.5L1067.7 507.8L1070.3 505.6L1077 498.7L1085 488.2L1087.7 486.3L1089 486.2L1090.3 486.8L1093 489.7L1102.3 506.3L1113 530L1115.7 537.3L1118.4 543.4L1121 547L1122.4 547.9L1125 548.3L1126.4 549.1L1129 552.4L1131.7 558L1138.4 576.5L1141 581.8L1142.4 583.4L1143.7 584.2L1145 584.3L1146.4 583.8L1153 577.8L1154.4 577.2L1155.7 577.1L1157 577.5L1158.4 578.6L1161 582.4L1167.7 595L1169 596.6L1170.4 597.5L1171.7 597.6L1173.1 597L1175.7 593.8L1179.7 584.5L1182.4 579.4L1187.7 573.5L1194.4 558.1L1195.7 556.2L1197.1 555.7L1198.4 556.5L1201.1 560.9L1203.7 574.3L1205.1 583.7L1207.7 611.4L1209.1 619.3L1211.7 622.2L1214.4 623.8L1215.7 624.1L1218.4 623.6L1219.7 622.8L1222.4 620.3L1223.7 617.7L1225.1 611.1L1226.4 602.3L1231.8 550.7L1233.1 530L1234.4 515.6L1235.8 506.3L1237.1 502.1L1239.4 506"/>
<path transform="matrix(1.12523 0 0 1.12363 -4.32 -2.36)" clip-path="url(#bc)" vector-effect="non-scaling-stroke" d="M1239.4 680.9L37.7 680.9L37.7 476.7L72.4 476.4L120.4 477.9L160.4 480.7L187.1 483.9L215.1 488.5L256.5 497.6L344.6 518.8L381.9 528.7L399.3 532.4L417.9 535.9L432.6 537.9L452.6 539.3L470 540L478 539.7L488.6 537.3L499.3 536.4L590 535L595.4 534.4L600.7 532.5L606 532L708.8 530.9L719.4 529.9L764.8 524L803.5 520.7L810.2 519.5L816.8 517.7L835.5 511.4L855.5 502L872.9 492.1L883.5 487.7L892.9 484.9L903.6 483.7L910.2 483.3L915.6 483.5L922.2 484.5L930.2 486.4L944.9 492.9L959.6 497.7L964.9 499.8L979.6 508.7L987.6 512.1L991.6 512.8L999.6 512.3L1004.9 511.2L1007.6 509.8L1014.3 505.2L1022.3 500.8L1026.3 499L1029 498.6L1035.6 498.6L1039.6 499.6L1049 503.9L1059.6 510.4L1063.7 511.8L1066.3 511.5L1067.7 510.9L1070.3 508.7L1077 501.8L1085 491.2L1087.7 489.4L1089 489.2L1090.3 489.8L1093 492.7L1102.3 509.4L1113 533.1L1115.7 540.4L1118.4 546.5L1121 550.1L1122.4 550.9L1125 551.4L1126.4 552.2L1129 555.4L1131.7 561.1L1138.4 579.6L1141 584.9L1142.4 586.4L1143.7 587.3L1145 587.4L1146.4 586.9L1153 580.9L1154.4 580.3L1155.7 580.1L1157 580.6L1158.4 581.7L1161 585.4L1167.7 598.1L1169 599.7L1170.4 600.5L1171.7 600.7L1173.1 600.1L1175.7 596.8L1179.7 587.6L1182.4 582.5L1187.7 576.6L1194.4 561L1195.7 559.1L1197.1 558.5L1198.4 559.4L1201.1 563.7L1203.7 577.2L1205.1 586.6L1207.7 614.3L1209.1 622.1L1211.7 625.1L1214.4 626.6L1215.7 626.9L1218.4 626.5L1219.7 625.7L1222.4 623.1L1223.7 620.6L1225.1 614L1226.4 605.2L1231.8 553.5L1233.1 532.8L1234.4 518.4L1235.8 509.2L1237.1 505L1239.4 508.9"/>
<path transform="matrix(1.12743 0 0 1.12580 -4.40 -2.40)" clip-path="url(#bc)" vector-effect="non-scaling-stroke" d="M1239.4 680.9L37.7 680.9L37.7 479.6L72.4 479.4L120.4 480.9L160.4 483.8L187.1 487.1L215.1 491.7L256.5 500.7L344.6 522L381.9 532L400.6 535.9L419.3 539.4L432.6 541.2L452.6 542.6L470 543.3L478 543L488.6 540.6L499.3 539.6L590 538.2L595.4 537.6L600.7 535.7L606 535.2L708.8 534.1L719.4 533.1L764.8 527.2L803.5 523.9L810.2 522.7L816.8 520.9L835.5 514.6L855.5 505.2L872.9 495.3L883.5 490.9L892.9 488.1L903.6 486.9L910.2 486.5L915.6 486.7L922.2 487.7L930.2 489.6L944.9 496.1L959.6 500.9L964.9 503L979.6 511.9L987.6 515.3L991.6 516L999.6 515.5L1004.9 514.4L1007.6 513L1014.3 508.4L1022.3 503.9L1026.3 502.2L1029 501.8L1035.6 501.8L1039.6 502.8L1049 507.1L1059.6 513.6L1063.7 514.9L1066.3 514.7L1067.7 514.1L1070.3 511.9L1077 505L1085 494.4L1087.7 492.5L1089 492.4L1090.3 493L1093 495.9L1102.3 512.6L1113 536.3L1115.7 543.6L1118.4 549.7L1121 553.3L1122.4 554.1L1125 554.5L1126.4 555.3L1129 558.6L1131.7 564.3L1138.4 582.8L1141 588.1L1142.4 589.6L1143.7 590.4L1145 590.6L1146.4 590.1L1153 584.1L1154.4 583.5L1155.7 583.3L1157 583.8L1158.4 584.9L1161 588.6L1167.7 601.3L1169 602.8L1170.4 603.7L1171.7 603.9L1173.1 603.3L1175.7 600L1179.7 590.8L1182.4 585.7L1187.7 579.7L1194.4 564L1195.7 562.1L1197.1 561.5L1198.4 562.3L1201.1 566.7L1203.7 580.1L1205.1 589.5L1207.7 617.3L1209.1 625.1L1211.7 628L1214.4 629.6L1215.7 629.9L1218.4 629.4L1219.7 628.7L1222.4 626.1L1223.7 623.6L1225.1 616.9L1226.4 608.2L1231.8 556.5L1233.1 535.8L1234.4 521.4L1235.8 512.1L1237.1 508L1239.4 512"/>
<path transform="matrix(1.12962 0 0 1.12797 -4.47 -2.44)" clip-path="url(#bc)" vector-effect="non-scaling-stroke" d="M1239.4 680.9L37.7 680.9L37.7 482.7L72.4 482.6L120.4 484.1L160.4 487L187.1 490.3L215.1 494.9L256.5 504L343.2 525L381.9 535.3L401.9 539.5L419.3 542.8L432.6 544.6L452.6 546.1L470 546.7L478 546.4L488.6 544L499.3 543L590 541.6L595.4 541L600.7 539L607.4 538.4L708.8 537.4L719.4 536.4L764.8 530.5L803.5 527.2L810.2 526L816.8 524.2L835.5 517.8L855.5 508.5L872.9 498.6L883.5 494.2L892.9 491.4L903.6 490.1L910.2 489.8L915.6 490L922.2 491L930.2 492.9L944.9 499.4L959.6 504.2L964.9 506.2L979.6 515.1L987.6 518.6L991.6 519.3L999.6 518.8L1004.9 517.7L1007.6 516.3L1014.3 511.7L1022.3 507.2L1026.3 505.5L1029 505.1L1035.6 505.1L1039.6 506.1L1049 510.4L1059.6 516.9L1063.7 518.2L1066.3 518L1067.7 517.3L1070.3 515.2L1077 508.3L1085 497.7L1087.7 495.8L1089 495.7L1090.3 496.3L1093 499.2L1102.3 515.9L1113 539.6L1115.7 546.9L1118.4 553L1121 556.6L1122.4 557.4L1125 557.8L1126.4 558.6L1129 561.9L1131.7 567.6L1138.4 586.1L1141 591.3L1142.4 592.9L1143.7 593.7L1145 593.9L1146.4 593.4L1153 587.4L1154.4 586.7L1155.7 586.6L1157 587.1L1158.4 588.2L1161 591.9L1167.7 604.6L1169 606.1L1170.4 607L1171.7 607.2L1173.1 606.6L1175.7 603.3L1179.7 594.1L1182.4 589L1187.7 583L1194.4 567.1L1195.7 565.1L1197.1 564.6L1198.4 565.4L1201.1 569.8L1203.7 583.2L1205.1 592.6L1207.7 620.3L1209.1 628.2L1211.7 631.1L1214.4 632.7L1215.7 633L1218.4 632.5L1219.7 631.7L1222.4 629.2L1223.7 626.6L1225.1 620L1226.4 611.2L1231.8 559.5L1233.1 538.9L1234.4 524.4L1235.8 515.2L1237.1 511L1239.4 515.1"/>
<path transform="matrix(1.13182 0 0 1.13014 -4.55 -2.49)" clip-path="url(#bc)" vector-effect="non-scaling-stroke" d="M1239.4 680.9L37.7 680.9L37.7 485.8L72.4 485.8L120.4 487.4L160.4 490.3L188.5 493.8L216.5 498.5L257.8 507.7L344.6 528.7L381.9 538.7L401.9 543L419.3 546.2L432.6 548.1L452.6 549.6L470 550.3L478 550L488.6 547.4L499.3 546.4L590 545L595.4 544.4L600.7 542.4L607.4 541.8L708.8 540.8L719.4 539.8L764.8 533.9L803.5 530.6L810.2 529.4L816.8 527.6L835.5 521.2L855.5 511.9L872.9 502L883.5 497.6L892.9 494.8L903.6 493.5L910.2 493.2L915.6 493.4L922.2 494.4L930.2 496.3L944.9 502.8L959.6 507.6L964.9 509.6L979.6 518.5L987.6 522L991.6 522.7L999.6 522.2L1004.9 521.1L1007.6 519.7L1014.3 515.1L1022.3 510.6L1026.3 508.9L1029 508.5L1035.6 508.5L1039.6 509.5L1049 513.8L1059.6 520.3L1063.7 521.6L1066.3 521.4L1067.7 520.7L1070.3 518.6L1077 511.7L1085 501.1L1087.7 499.2L1089 499.1L1090.3 499.7L1093 502.6L1102.3 519.3L1113 543L1115.7 550.3L1118.4 556.4L1121 560L1122.4 560.8L1125 561.2L1126.4 562L1129 565.3L1131.7 571L1138.4 589.5L1141 594.7L1142.4 596.3L1143.7 597.1L1145 597.3L1146.4 596.8L1153 590.8L1154.4 590.1L1155.7 590L1157 590.5L1158.4 591.6L1161 595.3L1167.7 608L1169 609.5L1170.4 610.4L1171.7 610.6L1173.1 610L1175.7 606.7L1179.7 597.5L1182.4 592.4L1187.7 586.4L1194.4 570.3L1195.7 568.3L1197.1 567.8L1198.4 568.6L1201.1 572.9L1203.7 586.4L1205.1 595.7L1207.7 623.5L1209.1 631.3L1211.7 634.2L1214.4 635.8L1215.7 636.1L1218.4 635.7L1219.7 634.9L1222.4 632.3L1223.7 629.8L1225.1 623.1L1226.4 614.4L1231.8 562.7L1233.1 542L1234.4 527.6L1235.8 518.4L1237.1 514.2L1239.4 518.4"/>
<path transform="matrix(1.13402 0 0 1.13231 -4.62 -2.53)" clip-path="url(#bc)" vector-effect="non-scaling-stroke" d="M1239.4 680.9L37.7 680.9L37.7 489.1L72.4 489.1L121.8 490.8L160.4 493.7L188.5 497.3L216.5 502L257.8 511.1L343.2 531.9L381.9 542.3L403.3 546.9L420.6 550.1L433.9 551.9L452.6 553.2L470 553.9L478 553.6L488.6 551L499.3 550L590 548.6L595.4 548L600.7 545.9L607.4 545.3L708.8 544.3L719.4 543.3L764.8 537.4L803.5 534.1L810.2 532.9L816.8 531.1L835.5 524.8L855.5 515.4L872.9 505.5L883.5 501.1L892.9 498.3L903.6 497.1L910.2 496.7L915.6 496.9L922.2 497.9L930.2 499.8L944.9 506.3L959.6 511.1L964.9 513.2L979.6 522.1L987.6 525.5L991.6 526.2L999.6 525.7L1004.9 524.6L1007.6 523.2L1014.3 518.6L1022.3 514.1L1026.3 512.4L1029 512L1035.6 512L1039.6 513L1049 517.3L1059.6 523.8L1063.7 525.1L1066.3 524.9L1067.7 524.3L1070.3 522.1L1077 515.2L1085 504.6L1087.7 502.7L1089 502.6L1090.3 503.2L1093 506.1L1102.3 522.8L1113 546.5L1115.7 553.8L1118.4 559.9L1121 563.5L1122.4 564.3L1125 564.7L1126.4 565.5L1129 568.8L1131.7 574.5L1138.4 593L1141 598.3L1142.4 599.8L1143.7 600.6L1145 600.8L1146.4 600.3L1153 594.3L1154.4 593.6L1155.7 593.5L1157 594L1158.4 595.1L1161 598.8L1167.7 611.5L1169 613L1170.4 613.9L1171.7 614.1L1173.1 613.5L1175.7 610.2L1179.7 601L1182.4 595.9L1187.7 589.8L1194.4 573.6L1195.7 571.6L1197.1 571L1198.4 571.9L1201.1 576.2L1203.7 589.6L1205.1 599L1207.7 626.7L1209.1 634.6L1211.7 637.5L1214.4 639.1L1215.7 639.4L1218.4 638.9L1219.7 638.2L1222.4 635.6L1223.7 633.1L1225.1 626.4L1226.4 617.6L1231.8 566L1233.1 545.3L1234.4 530.9L1235.8 521.6L1237.1 517.5L1239.4 521.8"/>
<path transform="matrix(1.13621 0 0 1.13448 -4.70 -2.57)" clip-path="url(#bc)" vector-effect="non-scaling-stroke" d="M1239.4 680.9L37.7 680.9L37.7 492.4L72.4 492.5L121.8 494.3L160.4 497.2L188.5 500.8L216.5 505.6L257.8 514.7L343.2 535.5L381.9 546L403.3 550.6L420.6 553.8L433.9 555.6L452.6 557L470 557.7L478 557.4L488.6 554.7L499.3 553.7L572.7 552.8L590 552.3L595.4 551.7L600.7 549.6L607.4 549L708.8 547.9L719.4 546.9L764.8 541L803.5 537.8L810.2 536.5L816.8 534.8L835.5 528.4L855.5 519L872.9 509.1L883.5 504.7L892.9 501.9L903.6 500.7L910.2 500.3L915.6 500.5L922.2 501.6L930.2 503.4L944.9 509.9L959.6 514.7L964.9 516.8L979.6 525.7L987.6 529.1L991.6 529.9L999.6 529.3L1004.9 528.2L1007.6 526.8L1014.3 522.2L1022.3 517.8L1026.3 516L1029 515.6L1035.6 515.6L1039.6 516.6L1049 520.9L1059.6 527.5L1063.7 528.8L1066.3 528.6L1067.7 527.9L1070.3 525.7L1077 518.8L1085 508.3L1087.7 506.4L1089 506.3L1090.3 506.9L1093 509.8L1102.3 526.4L1113 550.1L1115.7 557.4L1118.4 563.5L1121 567.1L1122.4 567.9L1125 568.4L1126.4 569.2L1129 572.5L1131.7 578.1L1138.4 596.6L1141 601.9L1142.4 603.5L1143.7 604.3L1145 604.4L1146.4 603.9L1153 597.9L1154.4 597.3L1155.7 597.2L1157 597.6L1158.4 598.7L1161 602.4L1167.7 615.1L1169 616.7L1170.4 617.6L1171.7 617.7L1173.1 617.1L1175.7 613.8L1179.7 604.6L1182.4 599.5L1187.7 593.4L1194.4 577L1195.7 575L1197.1 574.4L1198.4 575.2L1201.1 579.6L1203.7 593L1205.1 602.4L1207.7 630.1L1209.1 638L1211.7 640.9L1214.4 642.5L1215.7 642.8L1218.4 642.3L1219.7 641.5L1222.4 639L1223.7 636.4L1225.1 629.8L1226.4 621L1231.8 569.3L1233.1 548.7L1234.4 534.3L1235.8 525L1237.1 520.8L1239.4 525.3"/>
<path transform="matrix(1.13841 0 0 1.13665 -4.78 -2.61)" clip-path="url(#bc)" vector-effect="non-scaling-stroke" d="M1239.4 680.9L37.7 680.9L37.7 495.8L72.4 496L121.8 497.9L160.4 500.9L188.5 504.5L216.5 509.3L257.8 518.4L343.2 539.3L383.2 550.1L404.6 554.7L420.6 557.7L433.9 559.5L452.6 560.9L470 561.6L478 561.3L488.6 558.6L499.3 557.5L572.7 556.6L590 556.1L595.4 555.5L600.7 553.3L607.4 552.7L708.8 551.7L719.4 550.7L764.8 544.8L803.5 541.5L810.2 540.3L816.8 538.5L835.5 532.1L855.5 522.8L872.9 512.9L883.5 508.5L892.9 505.7L903.6 504.4L910.2 504.1L915.6 504.3L922.2 505.3L930.2 507.2L944.9 513.7L959.6 518.5L964.9 520.5L979.6 529.4L987.6 532.9L991.6 533.6L999.6 533.1L1004.9 532L1007.6 530.6L1014.3 526L1022.3 521.5L1026.3 519.8L1029 519.4L1035.6 519.4L1039.6 520.4L1049 524.7L1059.6 531.2L1063.7 532.5L1066.3 532.3L1067.7 531.6L1070.3 529.5L1077 522.6L1085 512L1087.7 510.1L1089 510L1090.3 510.6L1093 513.5L1102.3 530.2L1113 553.9L1115.7 561.2L1118.4 567.3L1121 570.9L1122.4 571.7L1125 572.1L1126.4 572.9L1129 576.2L1131.7 581.9L1138.4 600.4L1141 605.6L1142.4 607.2L1143.7 608L1145 608.2L1146.4 607.7L1153 601.7L1154.4 601L1155.7 600.9L1157 601.4L1158.4 602.5L1161 606.2L1167.7 618.9L1169 620.4L1170.4 621.3L1171.7 621.5L1173.1 620.9L1175.7 617.6L1179.7 608.4L1182.4 603.3L1187.7 597.2L1194.4 580.6L1195.7 578.6L1197.1 578L1198.4 578.7L1201.1 583.1L1203.7 596.5L1205.1 605.9L1207.7 633.6L1209.1 641.5L1211.7 644.4L1214.4 646L1215.7 646.3L1218.4 645.8L1219.7 645L1222.4 642.5L1223.7 639.9L1225.1 633.3L1226.4 624.5L1231.8 572.8L1233.1 552.2L1234.4 537.7L1235.8 528.5L1237.1 524.3L1239.4 528.9"/>
<path transform="matrix(1.14061 0 0 1.13882 -4.85 -2.65)" clip-path="url(#bc)" vector-effect="non-scaling-stroke" d="M1239.4 680.9L37.7 680.9L37.7 499.4L72.4 499.6L121.8 501.7L160.4 504.7L189.8 508.5L216.5 513.1L259.2 522.6L343.2 543.2L383.2 554L404.6 558.6L420.6 561.7L433.9 563.5L452.6 564.9L470 565.7L478 565.4L488.6 562.5L499.3 561.5L572.7 560.6L590 560.1L595.4 559.4L600.7 557.2L607.4 556.6L708.8 555.6L719.4 554.6L764.8 548.7L803.5 545.4L810.2 544.2L816.8 542.4L835.5 536L855.5 526.7L872.9 516.7L883.5 512.4L892.9 509.6L903.6 508.3L910.2 508L915.6 508.2L922.2 509.2L930.2 511.1L944.9 517.6L959.6 522.4L964.9 524.4L979.6 533.3L987.6 536.8L991.6 537.5L999.6 536.9L1004.9 535.9L1007.6 534.5L1014.3 529.9L1022.3 525.4L1026.3 523.7L1029 523.2L1035.6 523.3L1039.6 524.3L1049 528.6L1059.6 535.1L1063.7 536.4L1066.3 536.2L1067.7 535.5L1070.3 533.4L1077 526.5L1085 515.9L1087.7 514L1089 513.9L1090.3 514.5L1093 517.4L1102.3 534.1L1113 557.7L1115.7 565.1L1118.4 571.2L1121 574.8L1122.4 575.6L1125 576L1126.4 576.8L1129 580.1L1131.7 585.8L1138.4 604.3L1141 609.5L1142.4 611.1L1143.7 611.9L1145 612L1146.4 611.6L1153 605.6L1154.4 604.9L1155.7 604.8L1157 605.3L1158.4 606.4L1161 610.1L1167.7 622.7L1169 624.3L1170.4 625.2L1171.7 625.3L1173.1 624.7L1175.7 621.5L1179.7 612.2L1182.4 607.2L1187.7 601L1194.4 584.3L1195.7 582.2L1197.1 581.6L1198.4 582.4L1201.1 586.7L1203.7 600.1L1205.1 609.5L1207.7 637.2L1209.1 645.1L1211.7 648L1214.4 649.6L1215.7 649.9L1218.4 649.4L1219.7 648.6L1222.4 646.1L1223.7 643.5L1225.1 636.9L1226.4 628.1L1231.8 576.5L1233.1 555.8L1234.4 541.4L1235.8 532.1L1237.1 527.9L1239.4 532.7"/>
<path transform="matrix(1.14281 0 0 1.14099 -4.93 -2.69)" clip-path="url(#bc)" vector-effect="non-scaling-stroke" d="M1239.4 680.9L37.7 680.9L37.7 503L72.4 503.4L121.8 505.5L160.4 508.6L188.5 512.2L216.5 517L257.8 526.3L341.9 546.9L383.2 558.1L405.9 563L421.9 566L435.3 567.8L455.3 569.3L471.3 569.9L478 569.5L488.6 566.6L496.6 565.7L588.7 564.3L595.4 563.5L600.7 561.3L607.4 560.6L708.8 559.6L719.4 558.6L764.8 552.7L803.5 549.4L810.2 548.2L816.8 546.4L835.5 540.1L855.5 530.7L872.9 520.8L883.5 516.4L892.9 513.6L903.6 512.4L910.2 512L915.6 512.2L922.2 513.2L930.2 515.1L944.9 521.6L959.6 526.4L964.9 528.5L979.6 537.4L987.6 540.8L991.6 541.5L999.6 541L1004.9 539.9L1007.6 538.5L1014.3 533.9L1022.3 529.4L1026.3 527.7L1029 527.3L1035.6 527.3L1039.6 528.3L1049 532.6L1059.6 539.1L1063.7 540.4L1066.3 540.2L1067.7 539.6L1070.3 537.4L1077 530.5L1085 519.9L1087.7 518L1089 517.9L1090.3 518.5L1093 521.4L1102.3 538.1L1113 561.8L1115.7 569.1L1118.4 575.2L1121 578.8L1122.4 579.6L1125 580L1126.4 580.8L1129 584.1L1131.7 589.8L1138.4 608.3L1141 613.6L1142.4 615.1L1143.7 615.9L1145 616.1L1146.4 615.6L1153 609.6L1154.4 608.9L1155.7 608.8L1157 609.3L1158.4 610.4L1161 614.1L1167.7 626.8L1169 628.3L1170.4 629.2L1171.7 629.4L1173.1 628.8L1175.7 625.5L1179.7 616.3L1182.4 611.2L1187.7 605L1194.4 588.1L1195.7 586L1197.1 585.3L1198.4 586.1L1201.1 590.4L1203.7 603.9L1205.1 613.2L1207.7 641L1209.1 648.8L1211.7 651.7L1214.4 653.3L1215.7 653.6L1218.4 653.2L1219.7 652.4L1222.4 649.8L1223.7 647.3L1225.1 640.6L1226.4 631.9L1231.8 580.2L1233.1 559.5L1234.4 545.1L1235.8 535.9L1237.1 531.7L1239.4 536.5"/>
<path transform="matrix(1.14500 0 0 1.14315 -5.00 -2.73)" clip-path="url(#bc)" vector-effect="non-scaling-stroke" d="M1239.4 680.9L37.7 680.9L37.7 506.8L72.4 507.3L123.1 509.6L161.8 512.7L189.8 516.5L216.5 521.1L259.2 530.7L343.2 551.4L383.2 562.3L405.9 567.3L421.9 570.3L435.3 572.1L455.3 573.6L471.3 574.2L478 573.9L488.6 570.9L496.6 570L588.7 568.5L595.4 567.7L600.7 565.5L607.4 564.8L708.8 563.8L719.4 562.7L764.8 556.9L803.5 553.6L810.2 552.4L816.8 550.6L835.5 544.2L855.5 534.9L872.9 524.9L883.5 520.6L892.9 517.8L903.6 516.5L910.2 516.2L915.6 516.4L922.2 517.4L930.2 519.3L944.9 525.8L959.6 530.6L964.9 532.6L979.6 541.5L987.6 545L991.6 545.7L999.6 545.1L1004.9 544.1L1007.6 542.7L1014.3 538.1L1022.3 533.6L1026.3 531.9L1029 531.4L1035.6 531.5L1039.6 532.5L1049 536.8L1059.6 543.3L1063.7 544.6L1066.3 544.4L1067.7 543.7L1070.3 541.6L1077 534.7L1085 524.1L1087.7 522.2L1089 522.1L1090.3 522.7L1093 525.6L1102.3 542.2L1113 565.9L1115.7 573.3L1118.4 579.4L1121 583L1122.4 583.8L1125 584.2L1126.4 585L1129 588.3L1131.7 594L1138.4 612.5L1141 617.7L1142.4 619.3L1143.7 620.1L1145 620.2L1146.4 619.8L1153 613.8L1154.4 613.1L1155.7 613L1157 613.5L1158.4 614.6L1161 618.3L1167.7 630.9L1169 632.5L1170.4 633.4L1171.7 633.5L1173.1 632.9L1175.7 629.7L1179.7 620.4L1182.4 615.3L1187.7 609.1L1194.4 592L1195.7 589.9L1197.1 589.2L1198.4 590L1201.1 594.3L1203.7 607.7L1205.1 617.1L1207.7 644.9L1209.1 652.7L1211.7 655.6L1214.4 657.2L1215.7 657.5L1218.4 657L1219.7 656.3L1222.4 653.7L1223.7 651.2L1225.1 644.5L1226.4 635.7L1231.8 584.1L1233.1 563.4L1234.4 549L1235.8 539.7L1237.1 535.6L1239.4 540.6"/>
<path transform="matrix(1.14720 0 0 1.14532 -5.08 -2.78)" clip-path="url(#bc)" vector-effect="non-scaling-stroke" d="M1239.4 680.9L37.7 680.9L37.7 510.6L72.4 511.2L123.1 513.7L161.8 516.9L189.8 520.7L216.5 525.4L259.2 535L343.2 555.7L383.2 566.7L407.3 572L421.9 574.7L435.3 576.6L455.3 578.1L471.3 578.7L478 578.4L488.6 575.3L496.6 574.4L588.7 572.9L595.4 572.1L600.7 569.8L607.4 569.1L708.8 568.1L719.4 567.1L764.8 561.2L803.5 557.9L810.2 556.7L816.8 554.9L835.5 548.5L855.5 539.2L872.9 529.3L883.5 524.9L892.9 522.1L903.6 520.8L910.2 520.5L915.6 520.7L922.2 521.7L930.2 523.6L944.9 530.1L959.6 534.9L964.9 536.9L979.6 545.8L987.6 549.3L991.6 550L999.6 549.5L1004.9 548.4L1007.6 547L1014.3 542.4L1022.3 537.9L1026.3 536.2L1029 535.8L1035.6 535.8L1039.6 536.8L1049 541.1L1059.6 547.6L1063.7 548.9L1066.3 548.7L1067.7 548L1070.3 545.9L1077 539L1085 528.4L1087.7 526.5L1089 526.4L1090.3 527L1093 529.9L1102.3 546.6L1113 570.3L1115.7 577.6L1118.4 583.7L1121 587.3L1122.4 588.1L1125 588.5L1126.4 589.3L1129 592.6L1131.7 598.3L1138.4 616.8L1141 622L1142.4 623.6L1143.7 624.4L1145 624.6L1146.4 624.1L1153 618.1L1154.4 617.4L1155.7 617.3L1157 617.8L1158.4 618.9L1161 622.6L1167.7 635.3L1169 636.8L1170.4 637.7L1171.7 637.9L1173.1 637.3L1175.7 634L1179.7 624.8L1182.4 619.7L1187.7 613.4L1194.4 596.1L1195.7 593.9L1197.1 593.3L1198.4 594L1201.1 598.3L1203.7 611.8L1205.1 621.1L1207.7 648.9L1209.1 656.7L1211.7 659.6L1214.4 661.2L1215.7 661.5L1218.4 661.1L1219.7 660.3L1222.4 657.7L1223.7 655.2L1225.1 648.5L1226.4 639.8L1231.8 588.1L1233.1 567.4L1234.4 553L1235.8 543.8L1237.1 539.6L1239.4 544.7"/>
<path transform="matrix(1.14940 0 0 1.14749 -5.15 -2.82)" clip-path="url(#bc)" vector-effect="non-scaling-stroke" d="M1239.4 680.9L37.7 680.9L37.7 514.6L72.4 515.4L123.1 517.9L161.8 521.2L189.8 525.1L216.5 529.8L259.2 539.4L341.9 559.8L383.2 571.2L407.3 576.6L421.9 579.4L435.3 581.2L455.3 582.7L471.3 583.4L478 583L488.6 579.9L496.6 579L588.7 577.5L595.4 576.7L600.7 574.3L607.4 573.6L708.8 572.6L719.4 571.5L764.8 565.7L803.5 562.4L810.2 561.2L816.8 559.4L835.5 553L855.5 543.7L872.9 533.7L883.5 529.4L892.9 526.6L903.6 525.3L910.2 525L915.6 525.2L922.2 526.2L930.2 528.1L944.9 534.6L959.6 539.4L964.9 541.4L979.6 550.3L987.6 553.8L991.6 554.5L999.6 553.9L1004.9 552.9L1007.6 551.5L1014.3 546.9L1022.3 542.4L1026.3 540.7L1029 540.2L1035.6 540.3L1039.6 541.3L1049 545.6L1059.6 552.1L1063.7 553.4L1066.3 553.2L1067.7 552.5L1070.3 550.4L1077 543.5L1085 532.9L1087.7 531L1089 530.9L1090.3 531.5L1093 534.4L1102.3 551L1113 574.7L1115.7 582.1L1118.4 588.2L1121 591.8L1122.4 592.6L1125 593L1126.4 593.8L1129 597.1L1131.7 602.8L1138.4 621.3L1141 626.5L1142.4 628.1L1143.7 628.9L1145 629L1146.4 628.6L1153 622.6L1154.4 621.9L1155.7 621.8L1157 622.3L1158.4 623.4L1161 627.1L1167.7 639.7L1169 641.3L1170.4 642.2L1171.7 642.3L1173.1 641.7L1175.7 638.5L1179.7 629.2L1182.4 624.1L1187.7 617.9L1194.4 600.3L1195.7 598.2L1197.1 597.5L1198.4 598.2L1201.1 602.5L1203.7 615.9L1205.1 625.3L1207.7 653L1209.1 660.9L1211.7 663.8L1214.4 665.4L1215.7 665.7L1218.4 665.2L1219.7 664.4L1222.4 661.9L1223.7 659.3L1225.1 652.7L1226.4 643.9L1231.8 592.3L1233.1 571.6L1234.4 557.2L1235.8 547.9L1237.1 543.8L1239.4 549.1"/>
<path transform="matrix(1.15159 0 0 1.14966 -5.23 -2.86)" clip-path="url(#bc)" vector-effect="non-scaling-stroke" d="M1239.4 680.9L37.7 680.9L37.7 518.8L72.4 519.6L124.4 522.4L161.8 525.7L191.1 529.8L217.8 534.6L260.5 544.3L343.2 564.8L383.2 576L407.3 581.3L421.9 584.1L435.3 586L455.3 587.6L471.3 588.2L479.3 587.6L487.3 585L495.3 583.8L506 583.4L588.7 582.2L595.4 581.4L600.7 579L607.4 578.3L708.8 577.2L719.4 576.2L764.8 570.3L803.5 567L810.2 565.8L816.8 564.1L835.5 557.7L855.5 548.3L872.9 538.4L883.5 534L892.9 531.2L903.6 530L910.2 529.6L915.6 529.8L922.2 530.8L930.2 532.7L944.9 539.2L959.6 544L964.9 546.1L979.6 555L987.6 558.4L991.6 559.1L999.6 558.6L1004.9 557.5L1007.6 556.1L1014.3 551.5L1022.3 547.1L1026.3 545.3L1029 544.9L1035.6 544.9L1039.6 545.9L1049 550.2L1059.6 556.7L1063.7 558.1L1066.3 557.8L1067.7 557.2L1070.3 555L1077 548.1L1085 537.6L1087.7 535.7L1089 535.6L1090.3 536.1L1093 539L1102.3 555.7L1113 579.4L1115.7 586.7L1118.4 592.8L1121 596.4L1122.4 597.2L1125 597.7L1126.4 598.5L1129 601.7L1131.7 607.4L1138.4 625.9L1141 631.2L1142.4 632.7L1143.7 633.6L1145 633.7L1146.4 633.2L1153 627.2L1154.4 626.6L1155.7 626.5L1157 626.9L1158.4 628L1161 631.7L1167.7 644.4L1169 646L1170.4 646.8L1171.7 647L1173.1 646.4L1175.7 643.1L1179.7 633.9L1182.4 628.8L1186.4 624.4L1187.7 622.5L1194.4 604.7L1195.7 602.5L1197.1 601.8L1198.4 602.5L1201.1 606.8L1203.7 620.3L1205.1 629.6L1207.7 657.4L1209.1 665.2L1211.7 668.1L1214.4 669.7L1215.7 670L1218.4 669.5L1219.7 668.8L1222.4 666.2L1223.7 663.7L1225.1 657L1226.4 648.3L1231.8 596.6L1233.1 575.9L1234.4 561.5L1235.8 552.2L1237.1 548.1L1239.4 553.6"/>
<path transform="matrix(1.15379 0 0 1.15183 -5.31 -2.90)" clip-path="url(#bc)" vector-effect="non-scaling-stroke" d="M1239.4 680.9L37.7 680.9L37.7 523L72.4 524L124.4 527L161.8 530.4L191.1 534.5L217.8 539.3L260.5 549L341.9 569.3L384.6 581.2L408.6 586.5L423.3 589.3L435.3 591L455.3 592.6L471.3 593.3L475.3 593.2L479.3 592.7L487.3 589.9L495.3 588.7L506 588.3L588.7 587.1L595.4 586.3L600.7 583.8L607.4 583.1L708.8 582.1L719.4 581L764.8 575.1L803.5 571.9L810.2 570.6L816.8 568.9L835.5 562.5L855.5 553.1L872.9 543.2L883.5 538.8L892.9 536.1L903.6 534.8L910.2 534.5L915.6 534.7L922.2 535.7L930.2 537.5L944.9 544.1L959.6 548.8L964.9 550.9L979.6 559.8L987.6 563.3L991.6 564L999.6 563.4L1004.9 562.4L1007.6 560.9L1014.3 556.4L1022.3 551.9L1026.3 550.2L1029 549.7L1035.6 549.8L1039.6 550.7L1049 555L1059.6 561.6L1063.7 562.9L1066.3 562.7L1067.7 562L1070.3 559.8L1077 552.9L1085 542.4L1087.7 540.5L1089 540.4L1090.3 541L1093 543.9L1102.3 560.5L1113 584.2L1115.7 591.5L1118.4 597.6L1121 601.2L1122.4 602.1L1125 602.5L1126.4 603.3L1129 606.6L1131.7 612.3L1137 627.3L1139.7 633.7L1142.4 637.6L1143.7 638.4L1145 638.5L1146.4 638L1153 632.1L1154.4 631.4L1155.7 631.3L1157 631.8L1158.4 632.8L1161 636.6L1167.7 649.2L1169 650.8L1170.4 651.7L1171.7 651.8L1173.1 651.2L1175.7 648L1179.7 638.7L1182.4 633.6L1186.4 629.2L1187.7 627.3L1194.4 609.3L1195.7 607L1197.1 606.3L1198.4 607.1L1201.1 611.3L1203.7 624.8L1205.1 634.1L1207.7 661.9L1209.1 669.7L1211.7 672.6L1214.4 674.2L1215.7 674.5L1218.4 674L1219.7 673.3L1222.4 670.7L1223.7 668.2L1225.1 661.5L1226.4 652.8L1231.8 601.1L1233.1 580.4L1234.4 566L1235.8 556.7L1237.1 552.6L1239.4 558.3"/>
<path transform="matrix(1.15599 0 0 1.15400 -5.38 -2.94)" clip-path="url(#bc)" vector-effect="non-scaling-stroke" d="M1239.4 680.9L37.7 680.9L37.7 527.4L72.4 528.6L125.8 531.8L163.1 535.3L192.5 539.6L217.8 544.2L261.8 554.3L343.2 574.7L384.6 586.3L408.6 591.7L423.3 594.5L435.3 596.2L455.3 597.8L471.3 598.5L475.3 598.4L479.3 597.9L487.3 595L495.3 593.8L506 593.4L588.7 592.3L595.4 591.4L600.7 588.9L607.4 588.1L708.8 587.1L719.4 586L764.8 580.2L803.5 576.9L810.2 575.7L816.8 573.9L835.5 567.5L855.5 558.2L872.9 548.2L883.5 543.9L892.9 541.1L903.6 539.8L910.2 539.5L915.6 539.7L922.2 540.7L930.2 542.6L944.9 549.1L959.6 553.9L964.9 555.9L979.6 564.8L987.6 568.3L991.6 569L999.6 568.4L1004.9 567.4L1007.6 566L1014.3 561.4L1022.3 556.9L1026.3 555.2L1029 554.7L1035.6 554.8L1039.6 555.8L1049 560.1L1059.6 566.6L1063.7 567.9L1066.3 567.7L1067.7 567L1070.3 564.9L1077 558L1085 547.4L1087.7 545.5L1089 545.4L1090.3 546L1093 548.9L1102.3 565.6L1113 589.2L1115.7 596.6L1118.4 602.7L1121 606.3L1122.4 607.1L1125 607.5L1126.4 608.3L1129 611.6L1131.7 617.3L1137 632.3L1139.7 638.7L1142.4 642.6L1143.7 643.4L1145 643.5L1146.4 643.1L1153 637.1L1154.4 636.4L1155.7 636.3L1157 636.8L1158.4 637.9L1161 641.6L1167.7 654.2L1169 655.8L1170.4 656.7L1171.7 656.8L1173.1 656.2L1175.7 653L1179.7 643.7L1182.4 638.6L1186.4 634.2L1187.7 632.2L1194.4 614L1195.7 611.8L1197.1 611L1198.4 611.7L1199.7 613.5L1201.1 616L1203.7 629.4L1205.1 638.8L1207.7 666.5L1209.1 674.4L1211.7 677.3L1214.4 678.9L1215.7 679.2L1218.4 678.7L1219.7 677.9L1222.4 675.4L1223.7 672.8L1225.1 666.2L1226.4 657.4L1231.8 605.7L1233.1 585.1L1234.4 570.7L1235.8 561.4L1237.1 557.2L1239.4 563.1"/>
<path transform="matrix(1.15818 0 0 1.15617 -5.46 -2.98)" clip-path="url(#bc)" vector-effect="non-scaling-stroke" d="M1210.4 680.9L37.7 680.9L37.7 531.9L72.4 533.3L125.8 536.7L163.1 540.3L192.5 544.6L217.8 549.3L261.8 559.4L341.9 579.5L384.6 591.5L408.6 597L423.3 599.9L435.3 601.6L455.3 603.2L471.3 603.9L475.3 603.9L479.3 603.3L487.3 600.4L495.3 599.1L506 598.7L588.7 597.6L595.4 596.7L600.7 594.1L607.4 593.3L708.8 592.3L719.4 591.3L764.8 585.4L803.5 582.1L810.2 580.9L816.8 579.1L835.5 572.8L855.5 563.4L872.9 553.5L883.5 549.1L892.9 546.3L903.6 545.1L910.2 544.7L915.6 544.9L922.2 545.9L930.2 547.8L944.9 554.3L959.6 559.1L964.9 561.2L979.6 570.1L987.6 573.5L991.6 574.2L999.6 573.7L1004.9 572.6L1007.6 571.2L1014.3 566.6L1022.3 562.1L1026.3 560.4L1029 560L1035.6 560L1039.6 561L1049 565.3L1059.6 571.8L1063.7 573.1L1066.3 572.9L1067.7 572.3L1070.3 570.1L1077 563.2L1085 552.6L1087.7 550.7L1089 550.6L1090.3 551.2L1093 554.1L1102.3 570.8L1113 594.5L1115.7 601.8L1118.4 607.9L1121 611.5L1122.4 612.3L1125 612.7L1126.4 613.5L1129 616.8L1131.7 622.5L1137 637.6L1139.7 644L1142.4 647.8L1143.7 648.6L1145 648.8L1146.4 648.3L1153 642.3L1154.4 641.7L1155.7 641.5L1157 642L1158.4 643.1L1161 646.8L1167.7 659.5L1169 661L1170.4 661.9L1171.7 662.1L1173.1 661.5L1175.7 658.2L1179.7 649L1182.4 643.9L1186.4 639.4L1187.7 637.4L1194.4 618.9L1195.7 616.7L1197.1 615.9L1198.4 616.6L1199.7 618.3L1201.1 620.9L1202.4 626.5L1205.1 643.7L1207.7 671.4L1209.1 679.2L1210.4 680.9M1239.4 680.9L1221.8 680.9L1223.7 677.7L1226.4 662.3L1231.8 610.6L1233.1 589.9L1234.4 575.5L1235.8 566.3L1237.1 562.1L1239.4 568.2"/>
<path transform="matrix(1.16038 0 0 1.15834 -5.53 -3.02)" clip-path="url(#bc)" vector-effect="non-scaling-stroke" d="M1208.5 680.9L37.7 680.9L37.7 536.6L72.4 538.1L125.8 541.8L163.1 545.5L192.5 549.9L217.8 554.6L261.8 564.8L341.9 585L384.6 597.1L409.9 602.8L424.6 605.7L436.6 607.3L455.3 608.9L471.3 609.6L475.3 609.5L479.3 609L487.3 605.9L495.3 604.7L506 604.3L588.7 603.1L595.4 602.2L600.7 599.6L607.4 598.8L708.8 597.7L719.4 596.7L764.8 590.8L803.5 587.6L810.2 586.3L816.8 584.6L835.5 578.2L855.5 568.8L872.9 558.9L883.5 554.5L892.9 551.8L903.6 550.5L910.2 550.2L915.6 550.4L922.2 551.4L930.2 553.2L944.9 559.8L959.6 564.5L964.9 566.6L979.6 575.5L987.6 578.9L991.6 579.7L999.6 579.1L1004.9 578.1L1007.6 576.6L1014.3 572.1L1022.3 567.6L1026.3 565.9L1029 565.4L1035.6 565.5L1039.6 566.4L1049 570.7L1059.6 577.3L1063.7 578.6L1066.3 578.4L1067.7 577.7L1070.3 575.5L1077 568.6L1085 558.1L1087.7 556.2L1089 556.1L1090.3 556.7L1093 559.6L1102.3 576.2L1113 599.9L1115.7 607.2L1118.4 613.3L1121 616.9L1122.4 617.8L1125 618.2L1126.4 619L1129 622.3L1131.7 628L1137 643L1139.7 649.4L1142.4 653.3L1143.7 654.1L1145 654.2L1146.4 653.7L1153 647.7L1154.4 647.1L1155.7 647L1157 647.5L1158.4 648.5L1161 652.3L1167.7 664.9L1169 666.5L1170.4 667.4L1171.7 667.5L1173.1 666.9L1175.7 663.7L1179.7 654.4L1182.4 649.3L1186.4 644.8L1187.7 642.8L1194.4 624.1L1195.7 621.8L1197.1 621L1198.4 621.7L1199.7 623.4L1201.1 625.9L1203.7 639.4L1205.1 648.7L1207.7 676.5L1208.5 680.9M1239.4 680.9L1224.1 680.9L1226.4 667.4L1227.7 655.1L1231.8 615.7L1233.1 595L1234.4 580.6L1235.8 571.3L1237.1 567.2L1239.4 573.5"/>
<path transform="matrix(1.16258 0 0 1.16051 -5.61 -3.07)" clip-path="url(#bc)" vector-effect="non-scaling-stroke" d="M1207.7 680.9L37.7 680.9L37.7 541.4L72.4 543.2L127.1 547.2L163.1 550.9L193.8 555.6L219.1 560.4L263.2 570.7L343.2 591L384.6 602.8L409.9 608.6L424.6 611.5L436.6 613.2L455.3 614.8L471.3 615.5L475.3 615.4L479.3 614.9L487.3 611.8L495.3 610.5L506 610.1L588.7 608.9L595.4 608L600.7 605.3L607.4 604.5L708.8 603.4L719.4 602.4L764.8 596.5L803.5 593.2L810.2 592L816.8 590.3L835.5 583.9L855.5 574.5L872.9 564.6L883.5 560.2L892.9 557.4L902.2 556.3L910.2 555.8L915.6 556L922.2 557.1L930.2 558.9L944.9 565.4L959.6 570.2L964.9 572.3L979.6 581.2L987.6 584.6L991.6 585.4L999.6 584.8L1004.9 583.7L1007.6 582.3L1014.3 577.7L1022.3 573.3L1026.3 571.5L1029 571.1L1035.6 571.1L1039.6 572.1L1049 576.4L1059.6 582.9L1063.7 584.3L1066.3 584L1067.7 583.4L1070.3 581.2L1077 574.3L1085 563.8L1087.7 561.9L1089 561.8L1090.3 562.3L1093 565.2L1102.3 581.9L1113 605.6L1115.7 612.9L1118.4 619L1121 622.6L1122.4 623.4L1125 623.9L1126.4 624.7L1129 627.9L1131.7 633.6L1137 648.7L1139.7 655.1L1142.4 659L1143.7 659.8L1145 659.9L1146.4 659.4L1153 653.4L1154.4 652.8L1155.7 652.7L1157 653.1L1158.4 654.2L1161 657.9L1167.7 670.6L1169 672.2L1170.4 673L1171.7 673.2L1173.1 672.6L1175.7 669.3L1179.7 660.1L1182.4 655L1186.4 650.5L1187.7 648.4L1194.4 629.4L1195.7 627.1L1197.1 626.3L1198.4 627L1199.7 628.7L1201.1 631.2L1202.4 636.8L1205.1 654L1207.7 680.9M1239.4 680.9L1225.2 680.9L1226.4 672.6L1231.8 621L1233.1 600.3L1234.4 585.9L1235.8 576.6L1237.1 572.4L1239.4 579"/>
<path transform="matrix(1.16478 0 0 1.16268 -5.68 -3.11)" clip-path="url(#bc)" vector-effect="non-scaling-stroke" d="M1207.1 680.9L37.7 680.9L37.7 546.4L72.4 548.4L128.4 552.8L164.4 556.7L195.1 561.5L219.1 566.1L264.5 576.8L343.2 596.9L384.6 608.8L409.9 614.7L424.6 617.6L436.6 619.3L455.3 620.9L471.3 621.7L475.3 621.6L479.3 621L487.3 617.8L495.3 616.5L506 616.1L588.7 615L595.4 614L600.7 611.3L607.4 610.4L708.8 609.4L719.4 608.3L764.8 602.4L803.5 599.2L810.2 597.9L816.8 596.2L835.5 589.8L855.5 580.4L872.9 570.5L883.5 566.1L892.9 563.4L902.2 562.2L910.2 561.8L915.6 562L922.2 563L930.2 564.8L944.9 571.4L959.6 576.1L964.9 578.2L979.6 587.1L987.6 590.6L991.6 591.3L999.6 590.7L1004.9 589.7L1007.6 588.2L1014.3 583.7L1022.3 579.2L1026.3 577.5L1029 577L1035.6 577.1L1039.6 578L1049 582.3L1059.6 588.9L1063.7 590.2L1066.3 590L1067.7 589.3L1070.3 587.1L1077 580.2L1085 569.7L1087.7 567.8L1089 567.7L1090.3 568.3L1093 571.2L1102.3 587.8L1113 611.5L1115.7 618.8L1118.4 624.9L1121 628.5L1122.4 629.4L1125 629.8L1126.4 630.6L1129 633.9L1131.7 639.6L1138.4 658.1L1141 663.3L1142.4 664.9L1143.7 665.7L1145 665.8L1146.4 665.3L1153 659.4L1154.4 658.7L1155.7 658.6L1157 659.1L1158.4 660.1L1161 663.9L1167.7 676.5L1169 678.1L1170.4 679L1171.7 679.1L1173.1 678.5L1175.7 675.3L1179.7 666L1182.4 660.9L1186.4 656.4L1187.7 654.3L1194.4 635L1195.7 632.7L1197.1 631.8L1198.4 632.5L1199.7 634.2L1201.1 636.7L1202.4 642.3L1205.1 659.5L1207.1 680.9M1239.4 680.9L1226 680.9L1231.8 626.5L1233.1 605.8L1234.4 591.4L1235.8 582.1L1237.1 578L1239.4 584.8"/>
<path transform="matrix(1.16697 0 0 1.16484 -5.76 -3.15)" clip-path="url(#bc)" vector-effect="non-scaling-stroke" d="M1166.6 680.9L37.7 680.9L37.7 551.5L72.4 553.8L129.8 558.7L164.4 562.5L195.1 567.4L220.5 572.4L265.8 583.2L343.2 603L384.6 615L409.9 621L424.6 624L436.6 625.7L455.3 627.3L471.3 628.1L478 627.7L480.6 627L488.6 623.8L496.6 622.7L588.7 621.3L595.4 620.3L599.4 618.1L602 617.2L608.7 616.5L707.4 615.6L719.4 614.5L764.8 608.6L803.5 605.4L810.2 604.1L816.8 602.4L835.5 596L855.5 586.6L872.9 576.7L883.5 572.3L892.9 569.6L902.2 568.4L910.2 568L915.6 568.2L922.2 569.2L930.2 571L944.9 577.6L959.6 582.3L964.9 584.4L979.6 593.3L987.6 596.7L991.6 597.5L999.6 596.9L1004.9 595.9L1007.6 594.4L1014.3 589.9L1022.3 585.4L1026.3 583.7L1029 583.2L1035.6 583.3L1039.6 584.2L1049 588.5L1059.6 595.1L1063.7 596.4L1066.3 596.2L1067.7 595.5L1070.3 593.3L1077 586.4L1085 575.9L1087.7 574L1089 573.9L1090.3 574.5L1093 577.4L1102.3 594L1113 617.7L1115.7 625L1118.4 631.1L1121 634.7L1122.4 635.6L1125 636L1126.4 636.8L1129 640.1L1131.7 645.8L1138.4 664.3L1141 669.5L1142.4 671.1L1143.7 671.9L1145 672L1147.7 670.6L1153 665.5L1154.4 664.9L1155.7 664.8L1157 665.3L1158.4 666.3L1161 670.1L1166.6 680.9M1206.6 680.9L1176 680.9L1181.1 669.4L1183.7 665.3L1186.4 662.5L1187.7 660.4L1194.4 640.9L1195.7 638.5L1197.1 637.6L1198.4 638.3L1199.7 640L1201.1 642.5L1202.4 648.1L1205.1 665.3L1206.6 680.9M1239.4 680.9L1226.7 680.9L1231.8 632.2L1233.1 611.5L1234.4 597.1L1235.8 587.9L1237.1 583.7L1239.4 590.8"/>
<path transform="matrix(1.16917 0 0 1.16701 -5.84 -3.19)" clip-path="url(#bc)" vector-effect="non-scaling-stroke" d="M1163.3 680.9L37.7 680.9L37.7 556.8L72.4 559.4L132.4 564.9L165.8 568.8L197.8 574.1L221.8 578.9L267.2 589.9L343.2 609.5L385.9 621.9L411.3 627.9L424.6 630.6L436.6 632.4L455.3 634.1L471.3 634.9L478 634.5L480.6 633.8L488.6 630.4L496.6 629.3L588.7 627.9L592.7 627.5L595.4 626.8L599.4 624.6L602 623.7L608.7 623L707.4 622.1L719.4 621L764.8 615.1L803.5 611.9L810.2 610.6L816.8 608.9L835.5 602.5L855.5 593.1L872.9 583.2L883.5 578.8L892.9 576L902.2 574.9L910.2 574.4L915.6 574.7L922.2 575.7L930.2 577.5L944.9 584L959.6 588.8L964.9 590.9L979.6 599.8L987.6 603.2L991.6 604L999.6 603.4L1004.9 602.3L1007.6 600.9L1014.3 596.3L1022.3 591.9L1026.3 590.1L1029 589.7L1035.6 589.7L1039.6 590.7L1049 595L1059.6 601.6L1063.7 602.9L1066.3 602.7L1067.7 602L1070.3 599.8L1077 592.9L1085 582.4L1087.7 580.5L1089 580.4L1090.3 581L1093 583.9L1102.3 600.5L1113 624.2L1115.7 631.5L1118.4 637.6L1121 641.2L1122.4 642.1L1125 642.5L1126.4 643.3L1129 646.6L1131.7 652.2L1138.4 670.7L1141 676L1142.4 677.6L1143.7 678.4L1145 678.5L1147.7 677.1L1153 672L1154.4 671.4L1155.7 671.3L1157 671.7L1159.7 674.4L1163.3 680.9M1206 680.9L1178.8 680.9L1182.4 673.6L1186.4 669L1187.7 666.9L1189.1 663.6L1194.4 647L1195.7 644.6L1197.1 643.7L1198.4 644.3L1199.7 646L1201.1 648.6L1203.7 661.9L1206 680.9M1239.3 680.9L1227.4 680.9L1231.8 638.3L1233.1 617.6L1234.4 603.2L1235.8 593.9L1237.1 589.8L1239.3 597.2"/>
<path transform="matrix(1.17137 0 0 1.16918 -5.91 -3.23)" clip-path="url(#bc)" vector-effect="non-scaling-stroke" d="M1139.9 680.9L37.7 680.9L37.7 562.3L72.4 565.2L135.1 571.4L167.1 575.3L199.1 580.8L221.8 585.5L268.5 596.8L343.2 616.2L385.9 628.8L411.3 634.9L424.6 637.6L436.6 639.4L455.3 641.1L471.3 642L478 641.6L480.6 640.8L486 638.2L488.6 637.3L496.6 636.2L588.7 634.8L592.7 634.4L595.4 633.7L599.4 631.4L602 630.5L608.7 629.8L707.4 628.9L719.4 627.8L764.8 621.9L803.5 618.7L810.2 617.4L816.8 615.7L835.5 609.3L855.5 599.9L872.9 590L883.5 585.6L892.9 582.9L902.2 581.7L910.2 581.3L915.6 581.5L922.2 582.5L930.2 584.3L944.9 590.8L959.6 595.6L964.9 597.7L979.6 606.6L987.6 610L991.6 610.8L999.6 610.2L1004.9 609.1L1007.6 607.7L1014.3 603.2L1022.3 598.7L1026.3 596.9L1029 596.5L1035.6 596.5L1039.6 597.5L1049 601.8L1059.6 608.4L1063.7 609.7L1066.3 609.5L1067.7 608.8L1070.3 606.6L1077 599.7L1085 589.2L1087.7 587.3L1089 587.2L1090.3 587.8L1093 590.7L1102.3 607.3L1113 631L1115.7 638.3L1118.4 644.4L1121 648L1122.4 648.9L1125 649.3L1126.4 650.1L1129 653.4L1131.7 659.1L1137 674.1L1139.9 680.9M1159.4 680.9L1150.7 680.9L1153 678.8L1154.4 678.2L1155.7 678.1L1157 678.5L1159.4 680.9M1205.4 680.9L1182.1 680.9L1183.7 678.6L1186.4 675.8L1187.7 673.6L1189.1 670.3L1194.4 653.4L1195.7 650.9L1197.1 650.1L1198.4 650.7L1199.7 652.4L1201.1 654.9L1203.7 668.3L1205.4 680.9M1239.3 680.9L1228 680.9L1231.8 644.6L1233.1 623.9L1234.4 609.5L1235.8 600.3L1237.1 596.1L1239.3 603.8"/>
<path transform="matrix(1.17356 0 0 1.17135 -5.99 -3.27)" clip-path="url(#bc)" vector-effect="non-scaling-stroke" d="M1136.9 680.9L37.7 680.9L37.7 568L113.7 575.5L143.1 578.8L169.8 582.4L203.1 588.3L224.5 592.9L272.5 604.8L344.6 623.7L385.9 636L411.3 642.1L424.6 644.9L436.6 646.8L455.3 648.5L470 649.4L478 649L480.6 648.2L486 645.5L488.6 644.6L496.6 643.5L588.7 642.1L592.7 641.7L595.4 641L599.4 638.6L602 637.7L608.7 636.9L708.8 636L719.4 634.9L764.8 629.1L803.5 625.8L810.2 624.6L816.8 622.8L835.5 616.4L855.5 607.1L872.9 597.1L883.5 592.8L892.9 590L902.2 588.9L910.2 588.4L915.6 588.6L922.2 589.6L930.2 591.5L944.9 598L959.6 602.8L964.9 604.8L979.6 613.7L987.6 617.2L991.6 617.9L999.6 617.4L1004.9 616.3L1007.6 614.9L1014.3 610.3L1022.3 605.8L1026.3 604.1L1029 603.7L1035.6 603.7L1039.6 604.7L1049 609L1059.6 615.5L1063.7 616.8L1066.3 616.6L1067.7 615.9L1070.3 613.8L1077 606.9L1085 596.3L1087.7 594.4L1089 594.3L1090.3 594.9L1093 597.8L1102.3 614.5L1113 638.2L1115.7 645.5L1118.4 651.6L1121 655.2L1122.4 656L1125 656.4L1126.4 657.2L1129 660.5L1131.7 666.2L1136.9 680.9M1204.6 680.9L1187.6 680.9L1189.1 677.3L1194.4 660.2L1195.7 657.6L1197.1 656.7L1198.4 657.3L1199.7 659L1201.1 661.5L1202.4 667.1L1204.6 680.9M1239.3 680.9L1228.6 680.9L1231.8 651.2L1233.1 630.6L1234.4 616.1L1235.8 606.9L1237.1 602.7L1239.3 610.8"/>
<path transform="matrix(1.17576 0 0 1.17352 -6.06 -3.31)" clip-path="url(#bc)" vector-effect="non-scaling-stroke" d="M1134.3 680.9L37.7 680.9L37.7 573.8L117.7 582.5L156.4 587.4L176.5 590.4L203.1 595.4L220.5 599.2L253.8 607.3L311.2 622.2L347.2 631.9L384.6 643.2L411.3 649.8L424.6 652.6L436.6 654.5L455.3 656.3L470 657.2L478 656.8L480.6 656L486 653.2L488.6 652.3L496.6 651.1L588.7 649.7L592.7 649.3L595.4 648.6L599.4 646.2L602 645.2L608.7 644.5L708.8 643.5L719.4 642.5L764.8 636.6L803.5 633.3L810.2 632.1L816.8 630.3L835.5 624L855.5 614.6L872.9 604.7L883.5 600.3L892.9 597.5L902.2 596.4L910.2 595.9L915.6 596.1L922.2 597.1L930.2 599L944.9 605.5L959.6 610.3L964.9 612.4L979.6 621.3L987.6 624.7L991.6 625.4L999.6 624.9L1004.9 623.8L1007.6 622.4L1014.3 617.8L1022.3 613.3L1026.3 611.6L1029 611.2L1035.6 611.2L1039.6 612.2L1049 616.5L1059.6 623L1063.7 624.3L1066.3 624.1L1067.7 623.5L1070.3 621.3L1077 614.4L1085 603.8L1087.7 601.9L1089 601.8L1090.3 602.4L1093 605.3L1102.3 622L1113 645.7L1115.7 653L1118.4 659.1L1121 662.7L1122.4 663.5L1125 664L1127.7 666.1L1130.4 670.6L1134.3 680.9M1203.6 680.9L1190.2 680.9L1194.4 667.3L1195.7 664.7L1197.1 663.8L1198.4 664.4L1199.7 666L1201.1 668.5L1203.6 680.9M1239.3 680.9L1229.3 680.9L1231.8 658.2L1233.1 637.5L1234.4 623.1L1235.8 613.9L1237.1 609.7L1239.3 618.2"/>
<path transform="matrix(1.17796 0 0 1.17569 -6.14 -3.36)" clip-path="url(#bc)" vector-effect="non-scaling-stroke" d="M1131.4 680.9L37.7 680.9L37.7 579.8L119.1 589.6L156.4 594.6L176.5 597.8L203.1 602.8L220.5 606.7L255.2 615.3L313.9 630.7L347.2 639.8L384.6 651.2L411.3 657.9L424.6 660.8L436.6 662.7L455.3 664.5L470 665.4L474 665.4L478 665L480.6 664.2L486 661.4L488.6 660.3L496.6 659.2L588.7 657.8L592.7 657.4L595.4 656.7L599.4 654.2L602 653.1L608.7 652.4L708.8 651.4L719.4 650.4L764.8 644.5L803.5 641.3L810.2 640L816.8 638.3L835.5 631.9L855.5 622.5L872.9 612.6L883.5 608.2L892.9 605.5L902.2 604.3L910.2 603.9L915.6 604.1L922.2 605.1L930.2 606.9L944.9 613.5L959.6 618.2L964.9 620.3L979.6 629.2L987.6 632.6L991.6 633.4L999.6 632.8L1004.9 631.8L1007.6 630.3L1014.3 625.8L1022.3 621.3L1026.3 619.6L1029 619.1L1035.6 619.2L1039.6 620.1L1049 624.4L1059.6 631L1063.7 632.3L1066.3 632.1L1067.7 631.4L1070.3 629.2L1077 622.3L1085 611.8L1087.7 609.9L1089 609.8L1090.3 610.4L1093 613.3L1102.3 629.9L1113 653.6L1115.7 660.9L1118.4 667L1121 670.6L1122.4 671.5L1125 671.9L1127.7 674L1129 676L1131.4 680.9M1202.3 680.9L1192.4 680.9L1194.4 674.8L1195.7 672.2L1197.1 671.2L1198.4 671.8L1199.7 673.4L1201.1 675.9L1202.3 680.9M1239.3 680.9L1230.1 680.9L1231.8 665.6L1233.1 644.9L1234.4 630.5L1235.8 621.3L1237.1 617.1L1239.3 626"/>
<path transform="matrix(1.18015 0 0 1.17786 -6.22 -3.40)" clip-path="url(#bc)" vector-effect="non-scaling-stroke" d="M1126 680.9L37.7 680.9L37.7 586L121.8 597.2L157.8 602.3L176.5 605.4L203.1 610.7L220.5 614.6L255.2 623.4L316.5 639.6L348.6 648.5L384.6 659.6L411.3 666.4L424.6 669.3L436.6 671.3L455.3 673.2L470 674.1L474 674.2L478 673.7L480.6 672.9L486 669.9L488.6 668.9L496.6 667.7L588.7 666.4L592.7 665.9L595.4 665.2L599.4 662.6L602 661.6L608.7 660.8L708.8 659.8L719.4 658.8L764.8 652.9L803.5 649.7L810.2 648.4L816.8 646.7L835.5 640.3L855.5 630.9L872.9 621L883.5 616.6L892.9 613.9L902.2 612.7L910.2 612.3L915.6 612.5L922.2 613.5L930.2 615.3L944.9 621.8L959.6 626.6L964.9 628.7L979.6 637.6L987.6 641L991.6 641.8L999.6 641.2L1004.9 640.1L1007.6 638.7L1014.3 634.2L1022.3 629.7L1026.3 628L1029 627.5L1035.6 627.6L1039.6 628.5L1049 632.8L1059.6 639.4L1063.7 640.7L1066.3 640.5L1067.7 639.8L1070.3 637.6L1077 630.7L1085 620.2L1087.7 618.3L1089 618.2L1090.3 618.8L1093 621.7L1102.3 638.3L1113 662L1115.7 669.3L1118.4 675.4L1121 679L1122.4 679.9L1125 680.3L1126 680.9M1199.5 680.9L1195.3 680.9L1195.7 680L1197.1 679L1198.4 679.6L1199.5 680.9M1239.3 680.9L1231 680.9L1234.4 638.3L1235.8 629.1L1237.1 624.9L1239.3 634.3"/>
<path transform="matrix(1.18235 0 0 1.18003 -6.29 -3.44)" clip-path="url(#bc)" vector-effect="non-scaling-stroke" d="M440.3 680.9L37.7 680.9L37.7 592.4L159.1 610.4L179.1 614L207.1 619.8L257.8 632.5L325.9 650.9L348.6 657.3L377.9 666.5L389.9 670L420.6 677.6L431.3 679.6L440.3 680.9M1116.8 680.9L482.8 680.9L486 679L488.6 677.9L492.6 677.2L498 676.7L574 675.8L590 675.3L595.4 674.2L600.7 670.9L603.4 670.2L607.4 669.7L696.8 669L710.1 668.6L720.8 667.5L764.8 661.8L803.5 658.5L810.2 657.3L816.8 655.6L835.5 649.2L855.5 639.8L872.9 629.9L886.2 624.6L891.5 623L895.5 622.3L904.9 621.4L911.6 621.1L920.9 622.1L927.6 623.5L931.6 624.7L944.9 630.7L959.6 635.5L964.9 637.6L979.6 646.5L987.6 649.9L991.6 650.7L999.6 650.1L1004.9 649L1007.6 647.6L1014.3 643.1L1022.3 638.6L1026.3 636.9L1029 636.4L1035.6 636.5L1039.6 637.4L1049 641.7L1059.6 648.3L1063.7 649.6L1066.3 649.4L1067.7 648.7L1070.3 646.5L1077 639.6L1085 629.1L1087.7 627.2L1089 627.1L1090.3 627.7L1093 630.6L1102.3 647.2L1113 670.9L1116.8 680.9M1239.3 680.9L1231.8 680.9L1233.1 661L1234.4 646.6L1235.8 637.4L1237.1 633.2L1239.3 643.1"/>
<path transform="matrix(1.18455 0 0 1.18220 -6.37 -3.48)" clip-path="url(#bc)" vector-effect="non-scaling-stroke" d="M395.1 680.9L37.7 680.9L37.7 599L161.8 619.2L180.5 622.8L207.1 628.5L257.8 641.5L327.2 660.5L348.6 666.6L380.6 676.8L395.1 680.9M1113.2 680.9L599.8 680.9L602 680L604.7 679.4L611.4 679L708.8 678.2L719.4 677.1L764.8 671.3L794.2 669L804.8 667.8L811.5 666.5L818.2 664.6L830.2 660.7L836.8 658.1L855.5 649.3L872.9 639.4L884.9 634.5L890.2 632.8L894.2 632L903.6 631L911.6 630.6L920.9 631.6L927.6 632.9L931.6 634.2L944.9 640.2L959.6 645L964.9 647.1L979.6 656L987.6 659.4L991.6 660.1L999.6 659.6L1004.9 658.5L1007.6 657.1L1014.3 652.5L1022.3 648L1026.3 646.3L1029 645.9L1035.6 645.9L1039.6 646.9L1049 651.2L1059.6 657.7L1063.7 659L1066.3 658.8L1067.7 658.2L1070.3 656L1077 649.1L1085 638.5L1087.7 636.6L1089 636.5L1090.3 637.1L1093 640L1101 654.1L1105 662.3L1113.2 680.9M1239.3 680.9L1232.4 680.9L1234.4 655.4L1235.8 646.2L1237.1 642L1239.3 652.6"/>
<path transform="matrix(1.18674 0 0 1.18437 -6.44 -3.52)" clip-path="url(#bc)" vector-effect="non-scaling-stroke" d="M362.2 680.9L37.7 680.9L37.7 605.7L92.4 615.9L163.1 628.2L205.8 637.4L256.5 650.7L316.5 667.3L345.9 675.7L362.2 680.9M1108.7 680.9L769.8 680.9L800.8 678.5L807.5 677.5L815.5 675.5L830.2 670.8L839.5 667.1L855.5 659.4L872.9 649.5L884.9 644.6L890.2 642.9L894.2 642.1L903.6 641.1L911.6 640.7L920.9 641.7L927.6 643L931.6 644.3L944.9 650.3L959.6 655.1L964.9 657.2L979.6 666.1L987.6 669.5L991.6 670.2L999.6 669.7L1004.9 668.6L1007.6 667.2L1014.3 662.6L1022.3 658.2L1026.3 656.4L1029 656L1035.6 656L1039.6 657L1049 661.3L1059.6 667.8L1063.7 669.2L1066.3 668.9L1067.7 668.3L1070.3 666.1L1077 659.2L1085 648.6L1087.7 646.8L1089 646.6L1090.3 647.2L1091.7 648.4L1094.3 652.2L1102.3 666.8L1108.7 680.9M1239.3 680.9L1233 680.9L1234.4 664.8L1235.8 655.6L1237.1 651.4L1239.3 662.7"/>
<path transform="matrix(1.18894 0 0 1.18653 -6.52 -3.56)" clip-path="url(#bc)" vector-effect="non-scaling-stroke" d="M327.4 680.9L37.7 680.9L37.7 612.6L93.7 624.2L164.4 637.8L203.1 646.5L227.1 652.7L327.4 680.9M989.8 680.9L832.2 680.9L840.9 677.3L854.2 670.9L872.9 660.3L883.5 655.9L888.9 654.1L894.2 652.9L903.6 651.9L911.6 651.5L920.9 652.5L927.6 653.9L931.6 655.1L944.9 661.2L959.6 665.9L964.9 668L978.3 676.2L986.3 679.9L989.8 680.9M1103.9 680.9L995.9 680.9L1002.3 680.1L1004.9 679.5L1007.6 678L1014.3 673.5L1022.3 669L1026.3 667.3L1029 666.8L1035.6 666.9L1039.6 667.8L1049 672.1L1059.6 678.7L1063.7 680L1066.3 679.8L1067.7 679.1L1070.3 676.9L1077 670L1085 659.5L1087.7 657.6L1089 657.5L1090.3 658.1L1091.7 659.3L1094.3 663L1103.9 680.9M1239.3 680.9L1233.9 680.9L1235.8 665.6L1237.1 661.5L1239.3 673.5"/>
<path transform="matrix(1.19114 0 0 1.18870 -6.59 -3.60)" clip-path="url(#bc)" vector-effect="non-scaling-stroke" d="M288.4 680.9L37.7 680.9L37.7 619.6L92.4 632.4L161.8 646.9L188.5 653.2L217.8 660.6L288.4 680.9M967.3 680.9L857.4 680.9L872.9 672L887.5 666.2L895.5 664.4L904.9 663.5L911.6 663.2L919.6 664L930.2 666.3L944.9 672.8L960.9 678.1L967.3 680.9M1042.8 680.9L1021.9 680.9L1026.3 678.9L1030.3 678.5L1037 678.7L1042.8 680.9M1097.7 680.9L1077.7 680.9L1085 671.1L1087.7 669.2L1089 669.1L1090.3 669.7L1093 672.6L1097.7 680.9M1239.3 680.9L1235.1 680.9L1235.8 676.5L1237.1 672.3L1239.3 680.9"/>
<path transform="matrix(1.19334 0 0 1.19087 -6.67 -3.65)" clip-path="url(#bc)" vector-effect="non-scaling-stroke" d="M248.6 680.9L37.7 680.9L37.7 626.8L95.1 641.7L180.5 661.8L212.5 670.2L248.6 680.9M935.1 680.9L881.8 680.9L888.9 678.4L894.2 677.2L903.6 676.2L911.6 675.8L918.2 676.4L927.6 678.1L935.1 680.9"/>
<path transform="matrix(1.19553 0 0 1.19304 -6.75 -3.69)" clip-path="url(#bc)" vector-effect="non-scaling-stroke" d="M208.8 680.9L37.7 680.9L37.7 634L95.1 650.8L168.4 669.7L208.8 680.9"/>
<path transform="matrix(1.19773 0 0 1.19521 -6.82 -3.73)" clip-path="url(#bc)" vector-effect="non-scaling-stroke" d="M167.2 680.9L37.7 680.9L37.7 641.3L97.7 660.9L167.2 680.9"/>
<path transform="matrix(1.19993 0 0 1.19738 -6.90 -3.77)" clip-path="url(#bc)" vector-effect="non-scaling-stroke" d="M129.1 680.9L37.7 680.9L37.7 648.5L89.7 667.7L129.1 680.9"/>
<path transform="matrix(1.20212 0 0 1.19955 -6.97 -3.81)" clip-path="url(#bc)" vector-effect="non-scaling-stroke" d="M99.5 680.9L37.7 680.9L37.7 655.6L99.5 680.9"/>
<path transform="matrix(1.20432 0 0 1.20172 -7.05 -3.85)" clip-path="url(#bc)" vector-effect="non-scaling-stroke" d="M77.7 680.9L37.7 680.9L37.7 662.4L77.7 680.9"/>
<path transform="matrix(1.20652 0 0 1.20389 -7.12 -3.89)" clip-path="url(#bc)" vector-effect="non-scaling-stroke" d="M61.2 680.9L37.7 680.9L37.7 668.9L61.2 680.9"/>
<path transform="matrix(1.20871 0 0 1.20606 -7.20 -3.94)" clip-path="url(#bc)" vector-effect="non-scaling-stroke" d="M48.6 680.9L37.7 680.9L37.7 674.8L48.6 680.9"/>
<path transform="matrix(1.21091 0 0 1.20822 -7.28 -3.98)" clip-path="url(#bc)" vector-effect="non-scaling-stroke" d="M39.2 680.9L37.7 680.9L37.7 680L39.2 680.9"/>
</g>
<path d="M40.5 18.5H1532.5V824.5H40.5Z" stroke="#b2b2b2" stroke-width="1" fill="none"/>
<text x="19.8" y="12" font-size="12" fill="#222" textLength="17.2" lengthAdjust="spacingAndGlyphs">SPL</text>
<text x="37.6" y="48.8" font-size="11.5" fill="#222" text-anchor="end" textLength="17.4" lengthAdjust="spacingAndGlyphs">140</text>
<text x="37.6" y="104.8" font-size="11.5" fill="#222" text-anchor="end" textLength="17.4" lengthAdjust="spacingAndGlyphs">135</text>
<text x="37.6" y="160.8" font-size="11.5" fill="#222" text-anchor="end" textLength="17.4" lengthAdjust="spacingAndGlyphs">130</text>
<text x="37.6" y="216.8" font-size="11.5" fill="#222" text-anchor="end" textLength="17.4" lengthAdjust="spacingAndGlyphs">125</text>
<text x="37.6" y="272.8" font-size="11.5" fill="#222" text-anchor="end" textLength="17.4" lengthAdjust="spacingAndGlyphs">120</text>
<text x="37.6" y="328.8" font-size="11.5" fill="#222" text-anchor="end" textLength="17.4" lengthAdjust="spacingAndGlyphs">115</text>
<text x="37.6" y="384.8" font-size="11.5" fill="#222" text-anchor="end" textLength="17.4" lengthAdjust="spacingAndGlyphs">110</text>
<text x="37.6" y="440.8" font-size="11.5" fill="#222" text-anchor="end" textLength="17.4" lengthAdjust="spacingAndGlyphs">105</text>
<text x="37.6" y="496.8" font-size="11.5" fill="#222" text-anchor="end" textLength="17.4" lengthAdjust="spacingAndGlyphs">100</text>
<text x="37.6" y="552.8" font-size="11.5" fill="#222" text-anchor="end" textLength="11.6" lengthAdjust="spacingAndGlyphs">95</text>
<text x="37.6" y="608.8" font-size="11.5" fill="#222" text-anchor="end" textLength="11.6" lengthAdjust="spacingAndGlyphs">90</text>
<text x="37.6" y="664.8" font-size="11.5" fill="#222" text-anchor="end" textLength="11.6" lengthAdjust="spacingAndGlyphs">85</text>
<text x="37.6" y="720.8" font-size="11.5" fill="#222" text-anchor="end" textLength="11.6" lengthAdjust="spacingAndGlyphs">80</text>
<text x="37.6" y="776.8" font-size="11.5" fill="#222" text-anchor="end" textLength="11.6" lengthAdjust="spacingAndGlyphs">75</text>
<text x="40.0" y="841" font-size="12.5" fill="#222" text-anchor="middle">20</text>
<text x="127.7" y="841" font-size="12.5" fill="#222" text-anchor="middle">30</text>
<text x="189.9" y="841" font-size="12.5" fill="#222" text-anchor="middle">40</text>
<text x="238.2" y="841" font-size="12.5" fill="#222" text-anchor="middle">50</text>
<text x="277.6" y="841" font-size="12.5" fill="#222" text-anchor="middle">60</text>
<text x="311.0" y="841" font-size="12.5" fill="#222" text-anchor="middle">70</text>
<text x="339.8" y="841" font-size="12.5" fill="#222" text-anchor="middle">80</text>
<text x="365.3" y="841" font-size="12.5" fill="#222" text-anchor="middle">90</text>
<text x="388.1" y="841" font-size="12.5" fill="#222" text-anchor="middle">100</text>
<text x="538.0" y="841" font-size="12.5" fill="#222" text-anchor="middle">200</text>
<text x="625.7" y="841" font-size="12.5" fill="#222" text-anchor="middle">300</text>
<text x="687.9" y="841" font-size="12.5" fill="#222" text-anchor="middle">400</text>
<text x="736.2" y="841" font-size="12.5" fill="#222" text-anchor="middle">500</text>
<text x="775.6" y="841" font-size="12.5" fill="#222" text-anchor="middle">600</text>
<text x="809.0" y="841" font-size="12.5" fill="#222" text-anchor="middle">700</text>
<text x="837.8" y="841" font-size="12.5" fill="#222" text-anchor="middle">800</text>
<text x="863.3" y="841" font-size="12.5" fill="#222" text-anchor="middle">900</text>
<text x="886.1" y="841" font-size="12.5" fill="#222" text-anchor="middle">1k</text>
<text x="1036.0" y="841" font-size="12.5" fill="#222" text-anchor="middle">2k</text>
<text x="1123.7" y="841" font-size="12.5" fill="#222" text-anchor="middle">3k</text>
<text x="1185.9" y="841" font-size="12.5" fill="#222" text-anchor="middle">4k</text>
<text x="1234.2" y="841" font-size="12.5" fill="#222" text-anchor="middle">5k</text>
<text x="1273.6" y="841" font-size="12.5" fill="#222" text-anchor="middle">6k</text>
<text x="1307.0" y="841" font-size="12.5" fill="#222" text-anchor="middle">7k</text>
<text x="1335.8" y="841" font-size="12.5" fill="#222" text-anchor="middle">8k</text>
<text x="1361.3" y="841" font-size="12.5" fill="#222" text-anchor="middle">9k</text>
<text x="1384.1" y="841" font-size="12.5" fill="#222" text-anchor="middle">10k</text>
<text x="1516.6" y="841" font-size="12.5" fill="#222" textLength="31.6" lengthAdjust="spacingAndGlyphs">20kHz</text>
<rect x="1254.5" y="59.5" width="8" height="14" fill="#fafafa" stroke="#bcbcbc" stroke-width="1"/>
<text x="1261.5" y="70.8" font-size="8.8" fill="#111" text-anchor="end" textLength="5.4" lengthAdjust="spacingAndGlyphs">0</text>
<g clip-path="url(#lc)"><rect x="30.5" y="59.5" width="15" height="14" fill="#fafafa" stroke="#bcbcbc" stroke-width="1"/>
<text x="43.7" y="69.0" font-size="8.0" fill="#111" text-anchor="end" textLength="5.6" lengthAdjust="spacingAndGlyphs">0</text></g>
<rect x="1303.5" y="75.5" width="13" height="15" fill="#fafafa" stroke="#bcbcbc" stroke-width="1"/>
<text x="1315.8" y="86.9" font-size="9.5" fill="#111" text-anchor="end" textLength="10.3" lengthAdjust="spacingAndGlyphs">20</text>
<g clip-path="url(#lc)"><rect x="30.5" y="75.5" width="21" height="15" fill="#fafafa" stroke="#bcbcbc" stroke-width="1"/>
<text x="49.9" y="85.6" font-size="7.9" fill="#111" text-anchor="end" textLength="10.0" lengthAdjust="spacingAndGlyphs">20</text></g>
<rect x="1355.5" y="93.5" width="15" height="15" fill="#fafafa" stroke="#bcbcbc" stroke-width="1"/>
<text x="1370.5" y="105.9" font-size="10.9" fill="#111" text-anchor="end" textLength="12.6" lengthAdjust="spacingAndGlyphs">40</text>
<g clip-path="url(#lc)"><rect x="30.5" y="93.5" width="22" height="16" fill="#fafafa" stroke="#bcbcbc" stroke-width="1"/>
<text x="51.0" y="104.4" font-size="9.8" fill="#111" text-anchor="end" textLength="11.9" lengthAdjust="spacingAndGlyphs">40</text></g>
<rect x="1409.5" y="111.5" width="15" height="16" fill="#fafafa" stroke="#bcbcbc" stroke-width="1"/>
<text x="1423.7" y="124.8" font-size="10.5" fill="#111" text-anchor="end" textLength="12.4" lengthAdjust="spacingAndGlyphs">60</text>
<g clip-path="url(#lc)"><rect x="30.5" y="111.5" width="23" height="16" fill="#fafafa" stroke="#bcbcbc" stroke-width="1"/>
<text x="52.0" y="122.9" font-size="9.8" fill="#111" text-anchor="end" textLength="11.6" lengthAdjust="spacingAndGlyphs">60</text></g>
<rect x="1462.5" y="131.5" width="16" height="18" fill="#fafafa" stroke="#bcbcbc" stroke-width="1"/>
<text x="1477.6" y="144.6" font-size="12.3" fill="#111" text-anchor="end" textLength="12.1" lengthAdjust="spacingAndGlyphs">80</text>
<g clip-path="url(#lc)"><rect x="30.5" y="131.5" width="24" height="17" fill="#fafafa" stroke="#bcbcbc" stroke-width="1"/>
<text x="52.8" y="143.8" font-size="10.3" fill="#111" text-anchor="end" textLength="11.9" lengthAdjust="spacingAndGlyphs">80</text></g>
<rect x="1510.5" y="153.5" width="22" height="17" fill="#fafafa" stroke="#bcbcbc" stroke-width="1"/>
<text x="1530.7" y="167.1" font-size="13.0" fill="#111" text-anchor="end" textLength="18.1" lengthAdjust="spacingAndGlyphs">100</text>
<g clip-path="url(#lc)"><rect x="30.5" y="152.5" width="32" height="18" fill="#fafafa" stroke="#bcbcbc" stroke-width="1"/>
<text x="60.9" y="165.6" font-size="10.9" fill="#111" text-anchor="end" textLength="18.0" lengthAdjust="spacingAndGlyphs">100</text></g>
<text x="785.5" y="35.5" font-size="23.5" font-weight="bold" fill="#000" text-anchor="middle" stroke="#fff" stroke-width="2.5" paint-order="stroke" textLength="141" lengthAdjust="spacingAndGlyphs">ZiiGaat Lush</text>
<rect x="1114.4" y="18.9" width="418.2" height="16.6" fill="#fff" stroke="#c0c0c0" stroke-width="1"/>
<text x="1118.6" y="32.1" font-size="11.8" fill="#111" textLength="410" lengthAdjust="spacingAndGlyphs">500 ms window, 100 ms rise time, 1,00 ms slice interval, 1,7 Hz resn, t = 100 ms</text>
<linearGradient id="cbg" x1="0" y1="0" x2="0" y2="1"><stop offset="0.0000" stop-color="#ff0000"/><stop offset="0.0500" stop-color="#ff3a00"/><stop offset="0.1000" stop-color="#f56e00"/><stop offset="0.1500" stop-color="#f0a000"/><stop offset="0.2000" stop-color="#ebcd00"/><stop offset="0.2500" stop-color="#dede00"/><stop offset="0.3000" stop-color="#aacd00"/><stop offset="0.3500" stop-color="#6ec30a"/><stop offset="0.4000" stop-color="#41b90a"/><stop offset="0.4500" stop-color="#05b205"/><stop offset="0.5000" stop-color="#00af1e"/><stop offset="0.5500" stop-color="#00b248"/><stop offset="0.6000" stop-color="#00b97d"/><stop offset="0.6500" stop-color="#00a591"/><stop offset="0.7000" stop-color="#008c96"/><stop offset="0.7500" stop-color="#006e96"/><stop offset="0.8000" stop-color="#00469b"/><stop offset="0.8500" stop-color="#0019aa"/><stop offset="0.9000" stop-color="#0a0096"/><stop offset="0.9500" stop-color="#1e0078"/><stop offset="1.0000" stop-color="#320064"/></linearGradient>
<rect x="1535.5" y="179.3" width="29" height="482.99999999999994" fill="url(#cbg)" stroke="#000" stroke-width="1.2"/>
<path d="M1536 203.5H1564.5" stroke="#000" stroke-width="1.2"/>
<text x="1567" y="207.9" font-size="12.5" fill="#222">97</text>
<path d="M1536 251.8H1564.5" stroke="#000" stroke-width="1.2"/>
<text x="1567" y="256.1" font-size="12.5" fill="#222">91</text>
<path d="M1536 300.1H1564.5" stroke="#000" stroke-width="1.2"/>
<text x="1567" y="304.4" font-size="12.5" fill="#222">85</text>
<path d="M1536 348.4H1564.5" stroke="#000" stroke-width="1.2"/>
<text x="1567" y="352.8" font-size="12.5" fill="#222">79</text>
<path d="M1536 396.7H1564.5" stroke="#000" stroke-width="1.2"/>
<text x="1567" y="401.1" font-size="12.5" fill="#222">73</text>
<path d="M1536 445.0H1564.5" stroke="#000" stroke-width="1.2"/>
<text x="1567" y="449.4" font-size="12.5" fill="#222">67</text>
<path d="M1536 493.3H1564.5" stroke="#000" stroke-width="1.2"/>
<text x="1567" y="497.7" font-size="12.5" fill="#222">61</text>
<path d="M1536 541.6H1564.5" stroke="#000" stroke-width="1.2"/>
<text x="1567" y="546.0" font-size="12.5" fill="#222">55</text>
<path d="M1536 589.9H1564.5" stroke="#000" stroke-width="1.2"/>
<text x="1567" y="594.2" font-size="12.5" fill="#222">49</text>
<path d="M1536 638.2H1564.5" stroke="#000" stroke-width="1.2"/>
<text x="1567" y="642.6" font-size="12.5" fill="#222">43</text>
<text x="1549.5" y="177" font-size="12.5" fill="#222" text-anchor="middle">100</text>
<text x="1549.5" y="676" font-size="12.5" fill="#222" text-anchor="middle">40</text>
</svg></body></html>
